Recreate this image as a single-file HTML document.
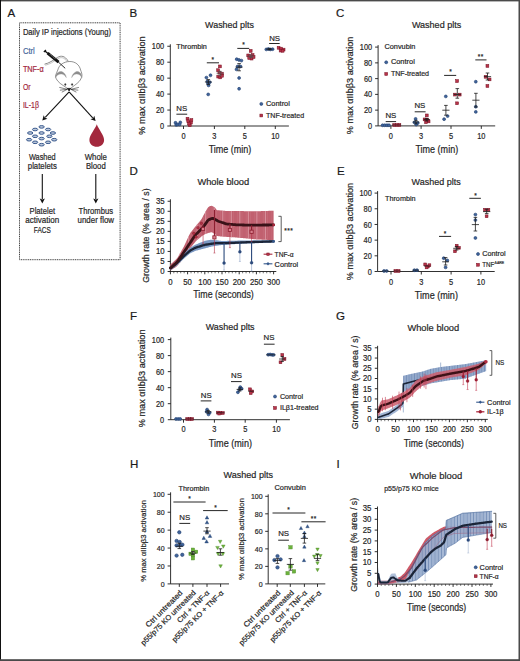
<!DOCTYPE html><html><head><meta charset="utf-8"><title>Figure</title><style>html,body{margin:0;padding:0;background:#fff;overflow:hidden;}svg{display:block;} text{font-family:"Liberation Sans", sans-serif;stroke-width:0.2px;}</style></head><body>
<svg width="520" height="661" viewBox="0 0 520 661">
<rect x="0" y="0" width="520" height="661" fill="#ffffff"/>
<text x="7.50" y="16.90" font-size="11.54" text-anchor="start" fill="#1a1a1a" stroke="#1a1a1a">A</text>
<text x="129.60" y="17.20" font-size="11.54" text-anchor="start" fill="#1a1a1a" stroke="#1a1a1a">B</text>
<text x="336.10" y="17.30" font-size="11.54" text-anchor="start" fill="#1a1a1a" stroke="#1a1a1a">C</text>
<text x="129.50" y="174.70" font-size="11.54" text-anchor="start" fill="#1a1a1a" stroke="#1a1a1a">D</text>
<text x="336.90" y="174.70" font-size="11.54" text-anchor="start" fill="#1a1a1a" stroke="#1a1a1a">E</text>
<text x="129.90" y="319.60" font-size="11.54" text-anchor="start" fill="#1a1a1a" stroke="#1a1a1a">F</text>
<text x="336.10" y="320.20" font-size="11.54" text-anchor="start" fill="#1a1a1a" stroke="#1a1a1a">G</text>
<text x="129.90" y="468.10" font-size="11.54" text-anchor="start" fill="#1a1a1a" stroke="#1a1a1a">H</text>
<text x="336.60" y="468.00" font-size="11.54" text-anchor="start" fill="#1a1a1a" stroke="#1a1a1a">I</text>
<rect x="19.5" y="22.8" width="100.6" height="236.9" fill="none" stroke="#2a2a2a" stroke-width="0.9" stroke-dasharray="1.1,0.7"/>
<text x="22.90" y="35.00" font-size="8.51" text-anchor="start" fill="#262626" stroke="#262626" textLength="88.10" lengthAdjust="spacingAndGlyphs">Daily IP injections (Young)</text>
<text x="22.90" y="53.50" font-size="8.51" text-anchor="start" fill="#48689c" stroke="#48689c" textLength="11.90" lengthAdjust="spacingAndGlyphs">Ctrl</text>
<text x="22.90" y="71.50" font-size="8.51" text-anchor="start" fill="#a3283d" stroke="#a3283d" textLength="20.80" lengthAdjust="spacingAndGlyphs">TNF-α</text>
<text x="22.90" y="89.70" font-size="8.51" text-anchor="start" fill="#a3283d" stroke="#a3283d" textLength="7.60" lengthAdjust="spacingAndGlyphs">Or</text>
<text x="22.90" y="107.60" font-size="8.51" text-anchor="start" fill="#a3283d" stroke="#a3283d" textLength="16.00" lengthAdjust="spacingAndGlyphs">IL-1β</text>
<path d="M44.5,64.2 C49,63.2 53,60.5 57.5,57.4 C61,55.3 65,55.8 68.2,61.2" fill="none" stroke="#8a8a8a" stroke-width="1.0"/>
<path d="M45.2,65.2 C49.5,64.4 53.5,61.8 58,58.6 C61,56.8 64.5,57.4 67.0,61.6" fill="none" stroke="#b4b4b4" stroke-width="0.8"/>
<path d="M69.1,89.6 C66,87 60,84 58.1,81.4 C56.5,79.5 55.3,77.5 55.6,75.6 C56,73.5 57.2,71.8 57.8,70 C59,64.8 64,61.5 69.9,61.5 C75.5,61.5 79.5,65 80.6,70 C81.3,72 82.2,74 81.9,76 C81.5,78 80.5,79.8 79.2,81.4 C77,84 72,87 69.1,89.6 Z" fill="#ffffff" stroke="#4a4a4a" stroke-width="0.6"/>
<path d="M55.4,77.6 C55.8,73.0 59.6,70.6 62.6,72.0 C64.6,73.0 65.9,75.0 66.3,77.6 C65.2,75.6 63.6,74.2 61.4,74.0 C58.8,73.8 56.6,75.4 55.4,77.6 Z" fill="#8c8c8c" stroke="#9a9a9a" stroke-width="0.4"/>
<path d="M71.7,77.6 C72.1,75.0 73.6,73.0 75.6,72.0 C78.6,70.6 81.6,73.0 82.0,77.6 C80.8,75.4 78.8,73.8 76.4,74.0 C74.2,74.2 72.6,75.6 71.7,77.6 Z" fill="#8c8c8c" stroke="#9a9a9a" stroke-width="0.4"/>
<circle cx="65.30" cy="84.50" r="0.9" fill="#333" stroke="#333" stroke-width="0.2"/>
<circle cx="72.10" cy="84.50" r="0.9" fill="#333" stroke="#333" stroke-width="0.2"/>
<path d="M67.4,88.4 L70.6,88.4 L69.1,91.0 Z" fill="#111" stroke="#111" stroke-width="0.7"/>
<line x1="67.30" y1="89.30" x2="59.30" y2="87.40" stroke="#1a1a1a" stroke-width="0.55"/>
<line x1="70.90" y1="89.30" x2="78.90" y2="87.40" stroke="#1a1a1a" stroke-width="0.55"/>
<line x1="67.30" y1="89.30" x2="59.90" y2="90.20" stroke="#1a1a1a" stroke-width="0.55"/>
<line x1="70.90" y1="89.30" x2="78.30" y2="90.20" stroke="#1a1a1a" stroke-width="0.55"/>
<line x1="67.30" y1="89.30" x2="61.80" y2="92.20" stroke="#1a1a1a" stroke-width="0.55"/>
<line x1="70.90" y1="89.30" x2="76.40" y2="92.20" stroke="#1a1a1a" stroke-width="0.55"/>
<line x1="43.90" y1="51.90" x2="45.90" y2="50.10" stroke="#111" stroke-width="1.4"/>
<line x1="44.90" y1="51.00" x2="48.00" y2="53.50" stroke="#111" stroke-width="1.4"/>
<line x1="47.60" y1="53.20" x2="58.60" y2="62.20" stroke="#111" stroke-width="2.9"/>
<path d="M49.8,54.0 L50.6,55.2 M51.4,55.3 L52.2,56.5 M53.0,56.6 L53.8,57.8 M54.6,57.9 L55.4,59.1" stroke="#e6e6e6" stroke-width="0.45"/>
<line x1="58.20" y1="61.90" x2="65.20" y2="68.30" stroke="#111" stroke-width="0.9"/>
<line x1="69.10" y1="91.80" x2="45.23" y2="117.45" stroke="#111" stroke-width="1.1"/>
<polygon points="42.30,120.60 43.67,115.31 44.89,117.82 47.47,118.86" fill="#111"/>
<line x1="69.10" y1="91.80" x2="92.71" y2="117.82" stroke="#111" stroke-width="1.1"/>
<polygon points="95.60,121.00 90.45,119.19 93.05,118.19 94.30,115.70" fill="#111"/>
<line x1="42.30" y1="174.00" x2="42.30" y2="199.10" stroke="#111" stroke-width="1.1"/>
<polygon points="42.30,203.40 39.70,198.60 42.30,199.60 44.90,198.60" fill="#111"/>
<line x1="95.80" y1="174.00" x2="95.80" y2="199.10" stroke="#111" stroke-width="1.1"/>
<polygon points="95.80,203.40 93.20,198.60 95.80,199.60 98.40,198.60" fill="#111"/>
<ellipse cx="41.60" cy="126.90" rx="2.65" ry="1.3" fill="#b9c6da" stroke="#3a5a8e" stroke-width="1.0"/>
<ellipse cx="35.10" cy="129.50" rx="2.65" ry="1.3" fill="#b9c6da" stroke="#3a5a8e" stroke-width="1.0"/>
<ellipse cx="48.10" cy="129.50" rx="2.65" ry="1.3" fill="#b9c6da" stroke="#3a5a8e" stroke-width="1.0"/>
<ellipse cx="30.20" cy="133.00" rx="2.65" ry="1.3" fill="#b9c6da" stroke="#3a5a8e" stroke-width="1.0"/>
<ellipse cx="41.60" cy="133.00" rx="2.65" ry="1.3" fill="#b9c6da" stroke="#3a5a8e" stroke-width="1.0"/>
<ellipse cx="52.90" cy="133.00" rx="2.65" ry="1.3" fill="#b9c6da" stroke="#3a5a8e" stroke-width="1.0"/>
<ellipse cx="35.10" cy="136.30" rx="2.65" ry="1.3" fill="#b9c6da" stroke="#3a5a8e" stroke-width="1.0"/>
<ellipse cx="49.40" cy="136.30" rx="2.65" ry="1.3" fill="#b9c6da" stroke="#3a5a8e" stroke-width="1.0"/>
<ellipse cx="29.10" cy="139.70" rx="2.65" ry="1.3" fill="#b9c6da" stroke="#3a5a8e" stroke-width="1.0"/>
<ellipse cx="41.60" cy="138.60" rx="2.65" ry="1.3" fill="#b9c6da" stroke="#3a5a8e" stroke-width="1.0"/>
<ellipse cx="54.20" cy="139.70" rx="2.65" ry="1.3" fill="#b9c6da" stroke="#3a5a8e" stroke-width="1.0"/>
<ellipse cx="35.10" cy="142.30" rx="2.65" ry="1.3" fill="#b9c6da" stroke="#3a5a8e" stroke-width="1.0"/>
<ellipse cx="48.10" cy="142.30" rx="2.65" ry="1.3" fill="#b9c6da" stroke="#3a5a8e" stroke-width="1.0"/>
<ellipse cx="41.60" cy="144.70" rx="2.65" ry="1.3" fill="#b9c6da" stroke="#3a5a8e" stroke-width="1.0"/>
<path d="M96.8,124.2 C95.5,128.5 89.4,135 89.4,140 C89.4,144.2 92.8,146.8 96.8,146.8 C100.8,146.8 104.1,144.2 104.1,140 C104.1,135 98.1,128.5 96.8,124.2 Z" fill="#a3283d"/>
<text x="42.30" y="159.70" font-size="8.74" text-anchor="middle" fill="#262626" stroke="#262626" textLength="26.70" lengthAdjust="spacingAndGlyphs">Washed</text>
<text x="42.30" y="169.40" font-size="8.74" text-anchor="middle" fill="#262626" stroke="#262626" textLength="29.00" lengthAdjust="spacingAndGlyphs">platelets</text>
<text x="95.80" y="159.70" font-size="8.74" text-anchor="middle" fill="#262626" stroke="#262626" textLength="22.20" lengthAdjust="spacingAndGlyphs">Whole</text>
<text x="95.80" y="169.40" font-size="8.74" text-anchor="middle" fill="#262626" stroke="#262626" textLength="19.80" lengthAdjust="spacingAndGlyphs">Blood</text>
<text x="42.30" y="213.70" font-size="8.74" text-anchor="middle" fill="#262626" stroke="#262626" textLength="25.50" lengthAdjust="spacingAndGlyphs">Platelet</text>
<text x="42.30" y="223.40" font-size="8.74" text-anchor="middle" fill="#262626" stroke="#262626" textLength="34.00" lengthAdjust="spacingAndGlyphs">activation</text>
<text x="42.30" y="232.90" font-size="8.74" text-anchor="middle" fill="#262626" stroke="#262626" textLength="17.00" lengthAdjust="spacingAndGlyphs">FACS</text>
<text x="95.80" y="213.70" font-size="8.74" text-anchor="middle" fill="#262626" stroke="#262626" textLength="34.40" lengthAdjust="spacingAndGlyphs">Thrombus</text>
<text x="95.80" y="223.40" font-size="8.74" text-anchor="middle" fill="#262626" stroke="#262626" textLength="36.40" lengthAdjust="spacingAndGlyphs">under flow</text>
<line x1="170.30" y1="44.25" x2="170.30" y2="126.00" stroke="#1a1a1a" stroke-width="0.9"/>
<line x1="167.30" y1="126.00" x2="170.30" y2="126.00" stroke="#1a1a1a" stroke-width="0.9"/>
<text x="164.20" y="129.10" font-size="8.51" text-anchor="end" fill="#262626" stroke="#262626" textLength="4.12" lengthAdjust="spacingAndGlyphs">0</text>
<line x1="167.30" y1="110.05" x2="170.30" y2="110.05" stroke="#1a1a1a" stroke-width="0.9"/>
<text x="164.20" y="113.15" font-size="8.51" text-anchor="end" fill="#262626" stroke="#262626" textLength="8.23" lengthAdjust="spacingAndGlyphs">20</text>
<line x1="167.30" y1="94.10" x2="170.30" y2="94.10" stroke="#1a1a1a" stroke-width="0.9"/>
<text x="164.20" y="97.20" font-size="8.51" text-anchor="end" fill="#262626" stroke="#262626" textLength="8.23" lengthAdjust="spacingAndGlyphs">40</text>
<line x1="167.30" y1="78.15" x2="170.30" y2="78.15" stroke="#1a1a1a" stroke-width="0.9"/>
<text x="164.20" y="81.25" font-size="8.51" text-anchor="end" fill="#262626" stroke="#262626" textLength="8.23" lengthAdjust="spacingAndGlyphs">60</text>
<line x1="167.30" y1="62.20" x2="170.30" y2="62.20" stroke="#1a1a1a" stroke-width="0.9"/>
<text x="164.20" y="65.30" font-size="8.51" text-anchor="end" fill="#262626" stroke="#262626" textLength="8.23" lengthAdjust="spacingAndGlyphs">80</text>
<line x1="167.30" y1="46.25" x2="170.30" y2="46.25" stroke="#1a1a1a" stroke-width="0.9"/>
<text x="164.20" y="49.35" font-size="8.51" text-anchor="end" fill="#262626" stroke="#262626" textLength="12.35" lengthAdjust="spacingAndGlyphs">100</text>
<line x1="170.30" y1="126.00" x2="288.90" y2="126.00" stroke="#1a1a1a" stroke-width="0.9"/>
<line x1="183.50" y1="126.00" x2="183.50" y2="129.00" stroke="#1a1a1a" stroke-width="0.9"/>
<text x="183.50" y="139.20" font-size="8.51" text-anchor="middle" fill="#262626" stroke="#262626" textLength="4.12" lengthAdjust="spacingAndGlyphs">0</text>
<line x1="214.40" y1="126.00" x2="214.40" y2="129.00" stroke="#1a1a1a" stroke-width="0.9"/>
<text x="214.40" y="139.20" font-size="8.51" text-anchor="middle" fill="#262626" stroke="#262626" textLength="4.12" lengthAdjust="spacingAndGlyphs">3</text>
<line x1="244.80" y1="126.00" x2="244.80" y2="129.00" stroke="#1a1a1a" stroke-width="0.9"/>
<text x="244.80" y="139.20" font-size="8.51" text-anchor="middle" fill="#262626" stroke="#262626" textLength="4.12" lengthAdjust="spacingAndGlyphs">5</text>
<line x1="275.30" y1="126.00" x2="275.30" y2="129.00" stroke="#1a1a1a" stroke-width="0.9"/>
<text x="275.30" y="139.20" font-size="8.51" text-anchor="middle" fill="#262626" stroke="#262626" textLength="8.23" lengthAdjust="spacingAndGlyphs">10</text>
<text x="205.10" y="28.20" font-size="9.74" text-anchor="start" fill="#262626" stroke="#262626" textLength="48.80" lengthAdjust="spacingAndGlyphs">Washed plts</text>
<text x="176.30" y="49.30" font-size="7.62" text-anchor="start" fill="#262626" stroke="#262626" textLength="30.60" lengthAdjust="spacingAndGlyphs">Thrombin</text>
<text transform="translate(145.10,85.50) rotate(-90)" x="0" y="0" font-size="9.52" text-anchor="middle" fill="#262626" stroke="#262626" textLength="98.40" lengthAdjust="spacingAndGlyphs">% max αIIbβ3 activation</text>
<text x="230.00" y="153.30" font-size="10.3" text-anchor="middle" fill="#262626" stroke="#262626" textLength="42.70" lengthAdjust="spacingAndGlyphs">Time (min)</text>
<circle cx="261.30" cy="103.90" r="1.5" fill="#40649c" stroke="#223f6e" stroke-width="0.6"/>
<text x="266.00" y="106.20" font-size="7.73" text-anchor="start" fill="#262626" stroke="#262626" textLength="23.90" lengthAdjust="spacingAndGlyphs">Control</text>
<rect x="259.90" y="114.10" width="2.8" height="2.8" fill="#b8344a" stroke="#7c1527" stroke-width="0.55"/>
<text x="266.00" y="117.60" font-size="7.73" text-anchor="start" fill="#262626" stroke="#262626" textLength="38.10" lengthAdjust="spacingAndGlyphs">TNF-treated</text>
<line x1="176.40" y1="114.20" x2="187.20" y2="114.20" stroke="#262626" stroke-width="1.0"/>
<text x="181.80" y="111.00" font-size="7.84" text-anchor="middle" fill="#262626" stroke="#262626">NS</text>
<line x1="206.80" y1="62.80" x2="219.00" y2="62.80" stroke="#262626" stroke-width="1.0"/>
<text x="212.80" y="61.80" font-size="6.5" text-anchor="middle" fill="#262626" stroke="#262626">*</text>
<line x1="237.30" y1="48.40" x2="249.20" y2="48.40" stroke="#262626" stroke-width="1.0"/>
<text x="243.50" y="46.80" font-size="6.5" text-anchor="middle" fill="#262626" stroke="#262626">*</text>
<line x1="269.10" y1="43.50" x2="279.70" y2="43.50" stroke="#262626" stroke-width="1.0"/>
<text x="274.60" y="40.70" font-size="7.84" text-anchor="middle" fill="#262626" stroke="#262626">NS</text>
<circle cx="175.50" cy="122.80" r="1.45" fill="#40649c" stroke="#223f6e" stroke-width="0.6"/>
<circle cx="180.30" cy="122.40" r="1.45" fill="#40649c" stroke="#223f6e" stroke-width="0.6"/>
<circle cx="176.20" cy="124.90" r="1.45" fill="#40649c" stroke="#223f6e" stroke-width="0.6"/>
<circle cx="177.60" cy="124.50" r="1.45" fill="#40649c" stroke="#223f6e" stroke-width="0.6"/>
<circle cx="179.60" cy="124.50" r="1.45" fill="#40649c" stroke="#223f6e" stroke-width="0.6"/>
<rect x="186.10" y="117.30" width="2.8" height="2.8" fill="#b8344a" stroke="#7c1527" stroke-width="0.55"/>
<rect x="190.00" y="118.70" width="2.8" height="2.8" fill="#b8344a" stroke="#7c1527" stroke-width="0.55"/>
<rect x="186.80" y="119.80" width="2.8" height="2.8" fill="#b8344a" stroke="#7c1527" stroke-width="0.55"/>
<rect x="189.50" y="121.20" width="2.8" height="2.8" fill="#b8344a" stroke="#7c1527" stroke-width="0.55"/>
<rect x="188.40" y="123.90" width="2.8" height="2.8" fill="#b8344a" stroke="#7c1527" stroke-width="0.55"/>
<rect x="187.60" y="122.20" width="2.8" height="2.8" fill="#b8344a" stroke="#7c1527" stroke-width="0.55"/>
<circle cx="210.50" cy="75.30" r="1.45" fill="#40649c" stroke="#223f6e" stroke-width="0.6"/>
<circle cx="206.40" cy="77.60" r="1.45" fill="#40649c" stroke="#223f6e" stroke-width="0.6"/>
<circle cx="207.40" cy="81.40" r="1.45" fill="#40649c" stroke="#223f6e" stroke-width="0.6"/>
<circle cx="209.80" cy="82.20" r="1.45" fill="#40649c" stroke="#223f6e" stroke-width="0.6"/>
<circle cx="208.00" cy="83.60" r="1.45" fill="#40649c" stroke="#223f6e" stroke-width="0.6"/>
<circle cx="208.60" cy="85.40" r="1.45" fill="#40649c" stroke="#223f6e" stroke-width="0.6"/>
<circle cx="208.20" cy="94.40" r="1.45" fill="#40649c" stroke="#223f6e" stroke-width="0.6"/>
<line x1="204.90" y1="82.00" x2="211.70" y2="82.00" stroke="#1a1a1a" stroke-width="0.8"/>
<line x1="208.30" y1="79.60" x2="208.30" y2="84.40" stroke="#1a1a1a" stroke-width="0.8"/>
<line x1="206.50" y1="79.60" x2="210.10" y2="79.60" stroke="#1a1a1a" stroke-width="0.8"/>
<line x1="206.50" y1="84.40" x2="210.10" y2="84.40" stroke="#1a1a1a" stroke-width="0.8"/>
<rect x="218.50" y="65.00" width="2.8" height="2.8" fill="#b8344a" stroke="#7c1527" stroke-width="0.55"/>
<rect x="216.70" y="68.80" width="2.8" height="2.8" fill="#b8344a" stroke="#7c1527" stroke-width="0.55"/>
<rect x="220.50" y="72.20" width="2.8" height="2.8" fill="#b8344a" stroke="#7c1527" stroke-width="0.55"/>
<rect x="216.80" y="75.20" width="2.8" height="2.8" fill="#b8344a" stroke="#7c1527" stroke-width="0.55"/>
<rect x="218.80" y="76.00" width="2.8" height="2.8" fill="#b8344a" stroke="#7c1527" stroke-width="0.55"/>
<rect x="220.60" y="74.40" width="2.8" height="2.8" fill="#b8344a" stroke="#7c1527" stroke-width="0.55"/>
<rect x="218.00" y="71.20" width="2.8" height="2.8" fill="#b8344a" stroke="#7c1527" stroke-width="0.55"/>
<line x1="216.60" y1="73.20" x2="223.40" y2="73.20" stroke="#555" stroke-width="0.8"/>
<line x1="220.00" y1="71.40" x2="220.00" y2="75.20" stroke="#555" stroke-width="0.8"/>
<line x1="218.20" y1="71.40" x2="221.80" y2="71.40" stroke="#555" stroke-width="0.8"/>
<line x1="218.20" y1="75.20" x2="221.80" y2="75.20" stroke="#555" stroke-width="0.8"/>
<circle cx="236.70" cy="59.20" r="1.45" fill="#40649c" stroke="#223f6e" stroke-width="0.6"/>
<circle cx="239.00" cy="60.00" r="1.45" fill="#40649c" stroke="#223f6e" stroke-width="0.6"/>
<circle cx="241.40" cy="60.60" r="1.45" fill="#40649c" stroke="#223f6e" stroke-width="0.6"/>
<circle cx="237.60" cy="66.50" r="1.45" fill="#40649c" stroke="#223f6e" stroke-width="0.6"/>
<circle cx="240.50" cy="66.50" r="1.45" fill="#40649c" stroke="#223f6e" stroke-width="0.6"/>
<circle cx="236.50" cy="69.40" r="1.45" fill="#40649c" stroke="#223f6e" stroke-width="0.6"/>
<circle cx="239.10" cy="78.00" r="1.45" fill="#40649c" stroke="#223f6e" stroke-width="0.6"/>
<circle cx="239.10" cy="88.80" r="1.45" fill="#40649c" stroke="#223f6e" stroke-width="0.6"/>
<line x1="235.70" y1="67.20" x2="242.50" y2="67.20" stroke="#1a1a1a" stroke-width="0.8"/>
<line x1="239.10" y1="63.60" x2="239.10" y2="70.80" stroke="#1a1a1a" stroke-width="0.8"/>
<line x1="237.30" y1="63.60" x2="240.90" y2="63.60" stroke="#1a1a1a" stroke-width="0.8"/>
<line x1="237.30" y1="70.80" x2="240.90" y2="70.80" stroke="#1a1a1a" stroke-width="0.8"/>
<rect x="249.30" y="49.50" width="2.8" height="2.8" fill="#b8344a" stroke="#7c1527" stroke-width="0.55"/>
<rect x="246.80" y="54.00" width="2.8" height="2.8" fill="#b8344a" stroke="#7c1527" stroke-width="0.55"/>
<rect x="248.80" y="54.80" width="2.8" height="2.8" fill="#b8344a" stroke="#7c1527" stroke-width="0.55"/>
<rect x="251.20" y="53.60" width="2.8" height="2.8" fill="#b8344a" stroke="#7c1527" stroke-width="0.55"/>
<rect x="247.80" y="56.60" width="2.8" height="2.8" fill="#b8344a" stroke="#7c1527" stroke-width="0.55"/>
<rect x="250.20" y="57.20" width="2.8" height="2.8" fill="#b8344a" stroke="#7c1527" stroke-width="0.55"/>
<rect x="252.20" y="55.60" width="2.8" height="2.8" fill="#b8344a" stroke="#7c1527" stroke-width="0.55"/>
<line x1="247.40" y1="56.20" x2="254.20" y2="56.20" stroke="#555" stroke-width="0.8"/>
<line x1="250.80" y1="54.80" x2="250.80" y2="57.60" stroke="#555" stroke-width="0.8"/>
<line x1="249.00" y1="54.80" x2="252.60" y2="54.80" stroke="#555" stroke-width="0.8"/>
<line x1="249.00" y1="57.60" x2="252.60" y2="57.60" stroke="#555" stroke-width="0.8"/>
<circle cx="266.30" cy="49.40" r="1.45" fill="#40649c" stroke="#223f6e" stroke-width="0.6"/>
<circle cx="268.40" cy="49.00" r="1.45" fill="#40649c" stroke="#223f6e" stroke-width="0.6"/>
<circle cx="270.40" cy="49.40" r="1.45" fill="#40649c" stroke="#223f6e" stroke-width="0.6"/>
<circle cx="272.60" cy="49.20" r="1.45" fill="#40649c" stroke="#223f6e" stroke-width="0.6"/>
<line x1="266.20" y1="49.20" x2="272.60" y2="49.20" stroke="#1a1a1a" stroke-width="0.8"/>
<line x1="269.40" y1="48.60" x2="269.40" y2="49.80" stroke="#1a1a1a" stroke-width="0.8"/>
<line x1="267.80" y1="48.60" x2="271.00" y2="48.60" stroke="#1a1a1a" stroke-width="0.8"/>
<line x1="267.80" y1="49.80" x2="271.00" y2="49.80" stroke="#1a1a1a" stroke-width="0.8"/>
<rect x="277.20" y="46.40" width="2.8" height="2.8" fill="#b8344a" stroke="#7c1527" stroke-width="0.55"/>
<rect x="279.60" y="47.20" width="2.8" height="2.8" fill="#b8344a" stroke="#7c1527" stroke-width="0.55"/>
<rect x="282.20" y="48.20" width="2.8" height="2.8" fill="#b8344a" stroke="#7c1527" stroke-width="0.55"/>
<rect x="279.20" y="49.20" width="2.8" height="2.8" fill="#b8344a" stroke="#7c1527" stroke-width="0.55"/>
<rect x="281.20" y="49.40" width="2.8" height="2.8" fill="#b8344a" stroke="#7c1527" stroke-width="0.55"/>
<line x1="378.10" y1="45.10" x2="378.10" y2="125.90" stroke="#1a1a1a" stroke-width="0.9"/>
<line x1="375.10" y1="125.90" x2="378.10" y2="125.90" stroke="#1a1a1a" stroke-width="0.9"/>
<text x="372.20" y="129.00" font-size="8.51" text-anchor="end" fill="#262626" stroke="#262626" textLength="4.12" lengthAdjust="spacingAndGlyphs">0</text>
<line x1="375.10" y1="110.14" x2="378.10" y2="110.14" stroke="#1a1a1a" stroke-width="0.9"/>
<text x="372.20" y="113.24" font-size="8.51" text-anchor="end" fill="#262626" stroke="#262626" textLength="8.23" lengthAdjust="spacingAndGlyphs">20</text>
<line x1="375.10" y1="94.38" x2="378.10" y2="94.38" stroke="#1a1a1a" stroke-width="0.9"/>
<text x="372.20" y="97.48" font-size="8.51" text-anchor="end" fill="#262626" stroke="#262626" textLength="8.23" lengthAdjust="spacingAndGlyphs">40</text>
<line x1="375.10" y1="78.62" x2="378.10" y2="78.62" stroke="#1a1a1a" stroke-width="0.9"/>
<text x="372.20" y="81.72" font-size="8.51" text-anchor="end" fill="#262626" stroke="#262626" textLength="8.23" lengthAdjust="spacingAndGlyphs">60</text>
<line x1="375.10" y1="62.86" x2="378.10" y2="62.86" stroke="#1a1a1a" stroke-width="0.9"/>
<text x="372.20" y="65.96" font-size="8.51" text-anchor="end" fill="#262626" stroke="#262626" textLength="8.23" lengthAdjust="spacingAndGlyphs">80</text>
<line x1="375.10" y1="47.10" x2="378.10" y2="47.10" stroke="#1a1a1a" stroke-width="0.9"/>
<text x="372.20" y="50.20" font-size="8.51" text-anchor="end" fill="#262626" stroke="#262626" textLength="12.35" lengthAdjust="spacingAndGlyphs">100</text>
<line x1="378.10" y1="125.90" x2="495.20" y2="125.90" stroke="#1a1a1a" stroke-width="0.9"/>
<line x1="390.90" y1="125.90" x2="390.90" y2="128.90" stroke="#1a1a1a" stroke-width="0.9"/>
<text x="390.90" y="139.10" font-size="8.51" text-anchor="middle" fill="#262626" stroke="#262626" textLength="4.12" lengthAdjust="spacingAndGlyphs">0</text>
<line x1="421.10" y1="125.90" x2="421.10" y2="128.90" stroke="#1a1a1a" stroke-width="0.9"/>
<text x="421.10" y="139.10" font-size="8.51" text-anchor="middle" fill="#262626" stroke="#262626" textLength="4.12" lengthAdjust="spacingAndGlyphs">3</text>
<line x1="451.00" y1="125.90" x2="451.00" y2="128.90" stroke="#1a1a1a" stroke-width="0.9"/>
<text x="451.00" y="139.10" font-size="8.51" text-anchor="middle" fill="#262626" stroke="#262626" textLength="4.12" lengthAdjust="spacingAndGlyphs">5</text>
<line x1="481.30" y1="125.90" x2="481.30" y2="128.90" stroke="#1a1a1a" stroke-width="0.9"/>
<text x="481.30" y="139.10" font-size="8.51" text-anchor="middle" fill="#262626" stroke="#262626" textLength="8.23" lengthAdjust="spacingAndGlyphs">10</text>
<text x="411.90" y="28.00" font-size="9.74" text-anchor="start" fill="#262626" stroke="#262626" textLength="49.30" lengthAdjust="spacingAndGlyphs">Washed plts</text>
<text x="384.50" y="49.40" font-size="7.62" text-anchor="start" fill="#262626" stroke="#262626" textLength="30.90" lengthAdjust="spacingAndGlyphs">Convubin</text>
<text transform="translate(352.80,85.45) rotate(-90)" x="0" y="0" font-size="9.52" text-anchor="middle" fill="#262626" stroke="#262626" textLength="97.70" lengthAdjust="spacingAndGlyphs">% max αIIbβ3 activation</text>
<text x="436.80" y="153.10" font-size="10.3" text-anchor="middle" fill="#262626" stroke="#262626" textLength="42.70" lengthAdjust="spacingAndGlyphs">Time (min)</text>
<circle cx="386.20" cy="62.30" r="1.5" fill="#40649c" stroke="#223f6e" stroke-width="0.6"/>
<text x="390.90" y="64.40" font-size="7.73" text-anchor="start" fill="#262626" stroke="#262626" textLength="23.90" lengthAdjust="spacingAndGlyphs">Control</text>
<rect x="384.80" y="72.60" width="2.8" height="2.8" fill="#b8344a" stroke="#7c1527" stroke-width="0.55"/>
<text x="390.90" y="76.00" font-size="7.73" text-anchor="start" fill="#262626" stroke="#262626" textLength="38.10" lengthAdjust="spacingAndGlyphs">TNF-treated</text>
<line x1="385.70" y1="121.60" x2="396.10" y2="121.60" stroke="#262626" stroke-width="1.0"/>
<text x="390.90" y="118.40" font-size="7.84" text-anchor="middle" fill="#262626" stroke="#262626">NS</text>
<line x1="414.70" y1="111.80" x2="425.60" y2="111.80" stroke="#262626" stroke-width="1.0"/>
<text x="419.90" y="108.00" font-size="7.84" text-anchor="middle" fill="#262626" stroke="#262626">NS</text>
<line x1="444.10" y1="75.40" x2="456.20" y2="75.40" stroke="#262626" stroke-width="1.0"/>
<text x="450.50" y="74.40" font-size="6.5" text-anchor="middle" fill="#262626" stroke="#262626">*</text>
<line x1="475.30" y1="59.90" x2="486.50" y2="59.90" stroke="#262626" stroke-width="1.0"/>
<text x="479.10" y="58.80" font-size="6.5" text-anchor="middle" fill="#262626" stroke="#262626">*</text>
<text x="482.10" y="58.80" font-size="6.5" text-anchor="middle" fill="#262626" stroke="#262626">*</text>
<circle cx="382.60" cy="125.30" r="1.45" fill="#40649c" stroke="#223f6e" stroke-width="0.6"/>
<circle cx="384.80" cy="125.30" r="1.45" fill="#40649c" stroke="#223f6e" stroke-width="0.6"/>
<circle cx="387.00" cy="125.30" r="1.45" fill="#40649c" stroke="#223f6e" stroke-width="0.6"/>
<circle cx="389.00" cy="125.30" r="1.45" fill="#40649c" stroke="#223f6e" stroke-width="0.6"/>
<rect x="392.80" y="123.60" width="2.8" height="2.8" fill="#b8344a" stroke="#7c1527" stroke-width="0.55"/>
<rect x="395.40" y="123.60" width="2.8" height="2.8" fill="#b8344a" stroke="#7c1527" stroke-width="0.55"/>
<rect x="398.00" y="123.60" width="2.8" height="2.8" fill="#b8344a" stroke="#7c1527" stroke-width="0.55"/>
<line x1="391.80" y1="125.00" x2="401.00" y2="125.00" stroke="#1a1a1a" stroke-width="0.7"/>
<circle cx="415.60" cy="118.90" r="1.45" fill="#40649c" stroke="#223f6e" stroke-width="0.6"/>
<circle cx="414.40" cy="122.40" r="1.45" fill="#40649c" stroke="#223f6e" stroke-width="0.6"/>
<circle cx="416.20" cy="124.60" r="1.45" fill="#40649c" stroke="#223f6e" stroke-width="0.6"/>
<circle cx="417.80" cy="123.00" r="1.45" fill="#40649c" stroke="#223f6e" stroke-width="0.6"/>
<line x1="412.80" y1="122.00" x2="419.20" y2="122.00" stroke="#1a1a1a" stroke-width="0.8"/>
<line x1="416.00" y1="120.40" x2="416.00" y2="123.80" stroke="#1a1a1a" stroke-width="0.8"/>
<line x1="414.40" y1="120.40" x2="417.60" y2="120.40" stroke="#1a1a1a" stroke-width="0.8"/>
<line x1="414.40" y1="123.80" x2="417.60" y2="123.80" stroke="#1a1a1a" stroke-width="0.8"/>
<rect x="425.40" y="114.00" width="2.8" height="2.8" fill="#b8344a" stroke="#7c1527" stroke-width="0.55"/>
<rect x="423.20" y="118.00" width="2.8" height="2.8" fill="#b8344a" stroke="#7c1527" stroke-width="0.55"/>
<rect x="425.80" y="118.20" width="2.8" height="2.8" fill="#b8344a" stroke="#7c1527" stroke-width="0.55"/>
<rect x="427.20" y="120.00" width="2.8" height="2.8" fill="#b8344a" stroke="#7c1527" stroke-width="0.55"/>
<rect x="424.60" y="120.80" width="2.8" height="2.8" fill="#b8344a" stroke="#7c1527" stroke-width="0.55"/>
<line x1="423.60" y1="119.60" x2="430.00" y2="119.60" stroke="#1a1a1a" stroke-width="0.8"/>
<line x1="426.80" y1="118.40" x2="426.80" y2="121.00" stroke="#1a1a1a" stroke-width="0.8"/>
<line x1="425.20" y1="118.40" x2="428.40" y2="118.40" stroke="#1a1a1a" stroke-width="0.8"/>
<line x1="425.20" y1="121.00" x2="428.40" y2="121.00" stroke="#1a1a1a" stroke-width="0.8"/>
<circle cx="445.80" cy="96.40" r="1.45" fill="#40649c" stroke="#223f6e" stroke-width="0.6"/>
<circle cx="444.10" cy="119.20" r="1.45" fill="#40649c" stroke="#223f6e" stroke-width="0.6"/>
<circle cx="447.60" cy="116.10" r="1.45" fill="#40649c" stroke="#223f6e" stroke-width="0.6"/>
<line x1="442.30" y1="110.20" x2="449.50" y2="110.20" stroke="#1a1a1a" stroke-width="0.8"/>
<line x1="445.90" y1="105.40" x2="445.90" y2="115.20" stroke="#1a1a1a" stroke-width="0.8"/>
<line x1="444.10" y1="105.40" x2="447.70" y2="105.40" stroke="#1a1a1a" stroke-width="0.8"/>
<line x1="444.10" y1="115.20" x2="447.70" y2="115.20" stroke="#1a1a1a" stroke-width="0.8"/>
<rect x="455.70" y="79.70" width="2.8" height="2.8" fill="#b8344a" stroke="#7c1527" stroke-width="0.55"/>
<rect x="453.60" y="93.20" width="2.8" height="2.8" fill="#b8344a" stroke="#7c1527" stroke-width="0.55"/>
<rect x="458.30" y="93.20" width="2.8" height="2.8" fill="#b8344a" stroke="#7c1527" stroke-width="0.55"/>
<rect x="455.70" y="101.90" width="2.8" height="2.8" fill="#b8344a" stroke="#7c1527" stroke-width="0.55"/>
<line x1="453.70" y1="94.40" x2="460.90" y2="94.40" stroke="#1a1a1a" stroke-width="0.8"/>
<line x1="457.30" y1="88.60" x2="457.30" y2="98.20" stroke="#1a1a1a" stroke-width="0.8"/>
<line x1="455.50" y1="88.60" x2="459.10" y2="88.60" stroke="#1a1a1a" stroke-width="0.8"/>
<line x1="455.50" y1="98.20" x2="459.10" y2="98.20" stroke="#1a1a1a" stroke-width="0.8"/>
<circle cx="475.80" cy="81.70" r="1.45" fill="#40649c" stroke="#223f6e" stroke-width="0.6"/>
<circle cx="475.80" cy="106.70" r="1.45" fill="#40649c" stroke="#223f6e" stroke-width="0.6"/>
<circle cx="475.80" cy="111.90" r="1.45" fill="#40649c" stroke="#223f6e" stroke-width="0.6"/>
<line x1="472.30" y1="100.20" x2="479.50" y2="100.20" stroke="#1a1a1a" stroke-width="0.8"/>
<line x1="475.90" y1="93.30" x2="475.90" y2="107.00" stroke="#1a1a1a" stroke-width="0.8"/>
<line x1="474.10" y1="93.30" x2="477.70" y2="93.30" stroke="#1a1a1a" stroke-width="0.8"/>
<line x1="474.10" y1="107.00" x2="477.70" y2="107.00" stroke="#1a1a1a" stroke-width="0.8"/>
<rect x="486.00" y="64.50" width="2.8" height="2.8" fill="#b8344a" stroke="#7c1527" stroke-width="0.55"/>
<rect x="484.20" y="75.40" width="2.8" height="2.8" fill="#b8344a" stroke="#7c1527" stroke-width="0.55"/>
<rect x="488.20" y="78.00" width="2.8" height="2.8" fill="#b8344a" stroke="#7c1527" stroke-width="0.55"/>
<rect x="486.00" y="84.60" width="2.8" height="2.8" fill="#b8344a" stroke="#7c1527" stroke-width="0.55"/>
<line x1="483.90" y1="76.60" x2="491.10" y2="76.60" stroke="#1a1a1a" stroke-width="0.8"/>
<line x1="487.50" y1="73.00" x2="487.50" y2="80.00" stroke="#1a1a1a" stroke-width="0.8"/>
<line x1="485.70" y1="73.00" x2="489.30" y2="73.00" stroke="#1a1a1a" stroke-width="0.8"/>
<line x1="485.70" y1="80.00" x2="489.30" y2="80.00" stroke="#1a1a1a" stroke-width="0.8"/>
<line x1="377.60" y1="191.10" x2="377.60" y2="271.50" stroke="#1a1a1a" stroke-width="0.9"/>
<line x1="374.60" y1="271.50" x2="377.60" y2="271.50" stroke="#1a1a1a" stroke-width="0.9"/>
<text x="371.80" y="274.60" font-size="8.51" text-anchor="end" fill="#262626" stroke="#262626" textLength="4.12" lengthAdjust="spacingAndGlyphs">0</text>
<line x1="374.60" y1="255.82" x2="377.60" y2="255.82" stroke="#1a1a1a" stroke-width="0.9"/>
<text x="371.80" y="258.92" font-size="8.51" text-anchor="end" fill="#262626" stroke="#262626" textLength="8.23" lengthAdjust="spacingAndGlyphs">20</text>
<line x1="374.60" y1="240.14" x2="377.60" y2="240.14" stroke="#1a1a1a" stroke-width="0.9"/>
<text x="371.80" y="243.24" font-size="8.51" text-anchor="end" fill="#262626" stroke="#262626" textLength="8.23" lengthAdjust="spacingAndGlyphs">40</text>
<line x1="374.60" y1="224.46" x2="377.60" y2="224.46" stroke="#1a1a1a" stroke-width="0.9"/>
<text x="371.80" y="227.56" font-size="8.51" text-anchor="end" fill="#262626" stroke="#262626" textLength="8.23" lengthAdjust="spacingAndGlyphs">60</text>
<line x1="374.60" y1="208.78" x2="377.60" y2="208.78" stroke="#1a1a1a" stroke-width="0.9"/>
<text x="371.80" y="211.88" font-size="8.51" text-anchor="end" fill="#262626" stroke="#262626" textLength="8.23" lengthAdjust="spacingAndGlyphs">80</text>
<line x1="374.60" y1="193.10" x2="377.60" y2="193.10" stroke="#1a1a1a" stroke-width="0.9"/>
<text x="371.80" y="196.20" font-size="8.51" text-anchor="end" fill="#262626" stroke="#262626" textLength="12.35" lengthAdjust="spacingAndGlyphs">100</text>
<line x1="377.60" y1="271.50" x2="494.70" y2="271.50" stroke="#1a1a1a" stroke-width="0.9"/>
<line x1="391.00" y1="271.50" x2="391.00" y2="274.50" stroke="#1a1a1a" stroke-width="0.9"/>
<text x="391.00" y="284.60" font-size="8.51" text-anchor="middle" fill="#262626" stroke="#262626" textLength="4.12" lengthAdjust="spacingAndGlyphs">0</text>
<line x1="421.30" y1="271.50" x2="421.30" y2="274.50" stroke="#1a1a1a" stroke-width="0.9"/>
<text x="421.30" y="284.60" font-size="8.51" text-anchor="middle" fill="#262626" stroke="#262626" textLength="4.12" lengthAdjust="spacingAndGlyphs">3</text>
<line x1="451.10" y1="271.50" x2="451.10" y2="274.50" stroke="#1a1a1a" stroke-width="0.9"/>
<text x="451.10" y="284.60" font-size="8.51" text-anchor="middle" fill="#262626" stroke="#262626" textLength="4.12" lengthAdjust="spacingAndGlyphs">5</text>
<line x1="480.90" y1="271.50" x2="480.90" y2="274.50" stroke="#1a1a1a" stroke-width="0.9"/>
<text x="480.90" y="284.60" font-size="8.51" text-anchor="middle" fill="#262626" stroke="#262626" textLength="8.23" lengthAdjust="spacingAndGlyphs">10</text>
<text x="411.60" y="184.50" font-size="9.74" text-anchor="start" fill="#262626" stroke="#262626" textLength="49.10" lengthAdjust="spacingAndGlyphs">Washed plts</text>
<text x="385.00" y="201.20" font-size="7.62" text-anchor="start" fill="#262626" stroke="#262626" textLength="30.60" lengthAdjust="spacingAndGlyphs">Thrombin</text>
<text transform="translate(352.50,231.55) rotate(-90)" x="0" y="0" font-size="9.52" text-anchor="middle" fill="#262626" stroke="#262626" textLength="97.50" lengthAdjust="spacingAndGlyphs">% max αIIbβ3 activation</text>
<text x="436.40" y="298.80" font-size="10.3" text-anchor="middle" fill="#262626" stroke="#262626" textLength="43.10" lengthAdjust="spacingAndGlyphs">Time (min)</text>
<circle cx="478.00" cy="254.00" r="1.5" fill="#40649c" stroke="#223f6e" stroke-width="0.6"/>
<text x="482.30" y="256.20" font-size="7.73" text-anchor="start" fill="#262626" stroke="#262626" textLength="23.30" lengthAdjust="spacingAndGlyphs">Control</text>
<rect x="476.60" y="263.40" width="2.8" height="2.8" fill="#b8344a" stroke="#7c1527" stroke-width="0.55"/>
<text x="482.30" y="267.20" font-size="7.73" text-anchor="start" fill="#262626" stroke="#262626" textLength="12.00" lengthAdjust="spacingAndGlyphs">TNF</text>
<text x="494.60" y="264.20" font-size="4.26" text-anchor="start" fill="#262626" stroke="#262626" textLength="9.60" lengthAdjust="spacingAndGlyphs">ΔARE</text>
<line x1="439.00" y1="236.40" x2="451.10" y2="236.40" stroke="#262626" stroke-width="1.0"/>
<text x="445.10" y="235.60" font-size="6.5" text-anchor="middle" fill="#262626" stroke="#262626">*</text>
<line x1="469.30" y1="198.30" x2="480.90" y2="198.30" stroke="#262626" stroke-width="1.0"/>
<text x="475.40" y="198.00" font-size="6.5" text-anchor="middle" fill="#262626" stroke="#262626">*</text>
<circle cx="384.00" cy="271.00" r="1.45" fill="#40649c" stroke="#223f6e" stroke-width="0.6"/>
<circle cx="386.60" cy="271.00" r="1.45" fill="#40649c" stroke="#223f6e" stroke-width="0.6"/>
<line x1="382.20" y1="271.00" x2="388.60" y2="271.00" stroke="#1a1a1a" stroke-width="0.7"/>
<rect x="394.00" y="269.60" width="2.8" height="2.8" fill="#b8344a" stroke="#7c1527" stroke-width="0.55"/>
<rect x="397.20" y="269.60" width="2.8" height="2.8" fill="#b8344a" stroke="#7c1527" stroke-width="0.55"/>
<line x1="393.60" y1="271.00" x2="400.60" y2="271.00" stroke="#1a1a1a" stroke-width="0.7"/>
<circle cx="414.40" cy="270.20" r="1.45" fill="#40649c" stroke="#223f6e" stroke-width="0.6"/>
<circle cx="417.00" cy="270.20" r="1.45" fill="#40649c" stroke="#223f6e" stroke-width="0.6"/>
<line x1="412.60" y1="270.20" x2="419.00" y2="270.20" stroke="#1a1a1a" stroke-width="0.7"/>
<rect x="423.80" y="263.00" width="2.8" height="2.8" fill="#b8344a" stroke="#7c1527" stroke-width="0.55"/>
<rect x="426.40" y="265.10" width="2.8" height="2.8" fill="#b8344a" stroke="#7c1527" stroke-width="0.55"/>
<rect x="428.00" y="263.80" width="2.8" height="2.8" fill="#b8344a" stroke="#7c1527" stroke-width="0.55"/>
<rect x="425.20" y="266.00" width="2.8" height="2.8" fill="#b8344a" stroke="#7c1527" stroke-width="0.55"/>
<line x1="424.00" y1="266.00" x2="430.40" y2="266.00" stroke="#1a1a1a" stroke-width="0.7"/>
<circle cx="443.70" cy="258.20" r="1.45" fill="#40649c" stroke="#223f6e" stroke-width="0.6"/>
<circle cx="447.30" cy="260.40" r="1.45" fill="#40649c" stroke="#223f6e" stroke-width="0.6"/>
<circle cx="445.60" cy="267.40" r="1.45" fill="#40649c" stroke="#223f6e" stroke-width="0.6"/>
<line x1="442.20" y1="261.80" x2="449.00" y2="261.80" stroke="#1a1a1a" stroke-width="0.8"/>
<line x1="445.60" y1="257.60" x2="445.60" y2="265.00" stroke="#1a1a1a" stroke-width="0.8"/>
<line x1="443.80" y1="257.60" x2="447.40" y2="257.60" stroke="#1a1a1a" stroke-width="0.8"/>
<line x1="443.80" y1="265.00" x2="447.40" y2="265.00" stroke="#1a1a1a" stroke-width="0.8"/>
<rect x="455.30" y="244.30" width="2.8" height="2.8" fill="#b8344a" stroke="#7c1527" stroke-width="0.55"/>
<rect x="457.50" y="246.40" width="2.8" height="2.8" fill="#b8344a" stroke="#7c1527" stroke-width="0.55"/>
<rect x="453.60" y="249.90" width="2.8" height="2.8" fill="#b8344a" stroke="#7c1527" stroke-width="0.55"/>
<line x1="453.20" y1="248.30" x2="460.00" y2="248.30" stroke="#1a1a1a" stroke-width="0.8"/>
<line x1="456.60" y1="246.60" x2="456.60" y2="250.00" stroke="#1a1a1a" stroke-width="0.8"/>
<line x1="454.80" y1="246.60" x2="458.40" y2="246.60" stroke="#1a1a1a" stroke-width="0.8"/>
<line x1="454.80" y1="250.00" x2="458.40" y2="250.00" stroke="#1a1a1a" stroke-width="0.8"/>
<circle cx="475.40" cy="214.60" r="1.45" fill="#40649c" stroke="#223f6e" stroke-width="0.6"/>
<circle cx="475.40" cy="220.10" r="1.45" fill="#40649c" stroke="#223f6e" stroke-width="0.6"/>
<circle cx="475.40" cy="238.00" r="1.45" fill="#40649c" stroke="#223f6e" stroke-width="0.6"/>
<line x1="471.80" y1="224.60" x2="479.00" y2="224.60" stroke="#1a1a1a" stroke-width="0.8"/>
<line x1="475.40" y1="217.40" x2="475.40" y2="231.00" stroke="#1a1a1a" stroke-width="0.8"/>
<line x1="473.60" y1="217.40" x2="477.20" y2="217.40" stroke="#1a1a1a" stroke-width="0.8"/>
<line x1="473.60" y1="231.00" x2="477.20" y2="231.00" stroke="#1a1a1a" stroke-width="0.8"/>
<rect x="483.60" y="208.40" width="2.8" height="2.8" fill="#b8344a" stroke="#7c1527" stroke-width="0.55"/>
<rect x="487.00" y="208.40" width="2.8" height="2.8" fill="#b8344a" stroke="#7c1527" stroke-width="0.55"/>
<rect x="485.20" y="214.90" width="2.8" height="2.8" fill="#b8344a" stroke="#7c1527" stroke-width="0.55"/>
<line x1="483.10" y1="211.60" x2="490.30" y2="211.60" stroke="#1a1a1a" stroke-width="0.8"/>
<line x1="486.70" y1="209.20" x2="486.70" y2="213.60" stroke="#1a1a1a" stroke-width="0.8"/>
<line x1="484.90" y1="209.20" x2="488.50" y2="209.20" stroke="#1a1a1a" stroke-width="0.8"/>
<line x1="484.90" y1="213.60" x2="488.50" y2="213.60" stroke="#1a1a1a" stroke-width="0.8"/>
<line x1="170.80" y1="337.60" x2="170.80" y2="419.70" stroke="#1a1a1a" stroke-width="0.9"/>
<line x1="167.80" y1="419.70" x2="170.80" y2="419.70" stroke="#1a1a1a" stroke-width="0.9"/>
<text x="164.20" y="422.80" font-size="8.51" text-anchor="end" fill="#262626" stroke="#262626" textLength="4.12" lengthAdjust="spacingAndGlyphs">0</text>
<line x1="167.80" y1="403.68" x2="170.80" y2="403.68" stroke="#1a1a1a" stroke-width="0.9"/>
<text x="164.20" y="406.78" font-size="8.51" text-anchor="end" fill="#262626" stroke="#262626" textLength="8.23" lengthAdjust="spacingAndGlyphs">20</text>
<line x1="167.80" y1="387.66" x2="170.80" y2="387.66" stroke="#1a1a1a" stroke-width="0.9"/>
<text x="164.20" y="390.76" font-size="8.51" text-anchor="end" fill="#262626" stroke="#262626" textLength="8.23" lengthAdjust="spacingAndGlyphs">40</text>
<line x1="167.80" y1="371.64" x2="170.80" y2="371.64" stroke="#1a1a1a" stroke-width="0.9"/>
<text x="164.20" y="374.74" font-size="8.51" text-anchor="end" fill="#262626" stroke="#262626" textLength="8.23" lengthAdjust="spacingAndGlyphs">60</text>
<line x1="167.80" y1="355.62" x2="170.80" y2="355.62" stroke="#1a1a1a" stroke-width="0.9"/>
<text x="164.20" y="358.72" font-size="8.51" text-anchor="end" fill="#262626" stroke="#262626" textLength="8.23" lengthAdjust="spacingAndGlyphs">80</text>
<line x1="167.80" y1="339.60" x2="170.80" y2="339.60" stroke="#1a1a1a" stroke-width="0.9"/>
<text x="164.20" y="342.70" font-size="8.51" text-anchor="end" fill="#262626" stroke="#262626" textLength="12.35" lengthAdjust="spacingAndGlyphs">100</text>
<line x1="170.80" y1="419.70" x2="289.90" y2="419.70" stroke="#1a1a1a" stroke-width="0.9"/>
<line x1="183.50" y1="419.70" x2="183.50" y2="422.70" stroke="#1a1a1a" stroke-width="0.9"/>
<text x="183.50" y="432.40" font-size="8.51" text-anchor="middle" fill="#262626" stroke="#262626" textLength="4.12" lengthAdjust="spacingAndGlyphs">0</text>
<line x1="214.40" y1="419.70" x2="214.40" y2="422.70" stroke="#1a1a1a" stroke-width="0.9"/>
<text x="214.40" y="432.40" font-size="8.51" text-anchor="middle" fill="#262626" stroke="#262626" textLength="4.12" lengthAdjust="spacingAndGlyphs">3</text>
<line x1="245.20" y1="419.70" x2="245.20" y2="422.70" stroke="#1a1a1a" stroke-width="0.9"/>
<text x="245.20" y="432.40" font-size="8.51" text-anchor="middle" fill="#262626" stroke="#262626" textLength="4.12" lengthAdjust="spacingAndGlyphs">5</text>
<line x1="276.40" y1="419.70" x2="276.40" y2="422.70" stroke="#1a1a1a" stroke-width="0.9"/>
<text x="276.40" y="432.40" font-size="8.51" text-anchor="middle" fill="#262626" stroke="#262626" textLength="8.23" lengthAdjust="spacingAndGlyphs">10</text>
<text x="205.70" y="330.40" font-size="9.74" text-anchor="start" fill="#262626" stroke="#262626" textLength="48.90" lengthAdjust="spacingAndGlyphs">Washed plts</text>
<text transform="translate(145.10,378.40) rotate(-90)" x="0" y="0" font-size="9.52" text-anchor="middle" fill="#262626" stroke="#262626" textLength="97.80" lengthAdjust="spacingAndGlyphs">% max αIIbβ3 activation</text>
<text x="230.40" y="446.60" font-size="10.3" text-anchor="middle" fill="#262626" stroke="#262626" textLength="43.20" lengthAdjust="spacingAndGlyphs">Time (min)</text>
<circle cx="275.00" cy="396.50" r="1.5" fill="#40649c" stroke="#223f6e" stroke-width="0.6"/>
<text x="279.90" y="399.00" font-size="7.73" text-anchor="start" fill="#262626" stroke="#262626" textLength="23.10" lengthAdjust="spacingAndGlyphs">Control</text>
<rect x="273.60" y="406.60" width="2.8" height="2.8" fill="#b8344a" stroke="#7c1527" stroke-width="0.55"/>
<text x="279.90" y="410.30" font-size="7.73" text-anchor="start" fill="#262626" stroke="#262626" textLength="38.70" lengthAdjust="spacingAndGlyphs">ILβ1-treated</text>
<line x1="200.70" y1="400.90" x2="211.40" y2="400.90" stroke="#262626" stroke-width="1.0"/>
<text x="206.20" y="397.50" font-size="7.84" text-anchor="middle" fill="#262626" stroke="#262626">NS</text>
<line x1="231.00" y1="381.60" x2="241.70" y2="381.60" stroke="#262626" stroke-width="1.0"/>
<text x="236.50" y="378.10" font-size="7.84" text-anchor="middle" fill="#262626" stroke="#262626">NS</text>
<line x1="263.90" y1="344.20" x2="274.60" y2="344.20" stroke="#262626" stroke-width="1.0"/>
<text x="269.00" y="340.40" font-size="7.84" text-anchor="middle" fill="#262626" stroke="#262626">NS</text>
<circle cx="176.00" cy="419.00" r="1.45" fill="#40649c" stroke="#223f6e" stroke-width="0.6"/>
<circle cx="178.20" cy="419.00" r="1.45" fill="#40649c" stroke="#223f6e" stroke-width="0.6"/>
<circle cx="180.20" cy="419.00" r="1.45" fill="#40649c" stroke="#223f6e" stroke-width="0.6"/>
<rect x="185.80" y="417.60" width="2.8" height="2.8" fill="#b8344a" stroke="#7c1527" stroke-width="0.55"/>
<rect x="188.20" y="417.60" width="2.8" height="2.8" fill="#b8344a" stroke="#7c1527" stroke-width="0.55"/>
<rect x="190.60" y="417.60" width="2.8" height="2.8" fill="#b8344a" stroke="#7c1527" stroke-width="0.55"/>
<line x1="185.40" y1="419.00" x2="193.80" y2="419.00" stroke="#1a1a1a" stroke-width="0.7"/>
<circle cx="207.10" cy="409.60" r="1.45" fill="#40649c" stroke="#223f6e" stroke-width="0.6"/>
<circle cx="209.70" cy="412.70" r="1.45" fill="#40649c" stroke="#223f6e" stroke-width="0.6"/>
<circle cx="208.50" cy="414.40" r="1.45" fill="#40649c" stroke="#223f6e" stroke-width="0.6"/>
<circle cx="206.60" cy="411.80" r="1.45" fill="#40649c" stroke="#223f6e" stroke-width="0.6"/>
<line x1="205.00" y1="411.80" x2="211.40" y2="411.80" stroke="#1a1a1a" stroke-width="0.8"/>
<line x1="208.20" y1="410.40" x2="208.20" y2="413.20" stroke="#1a1a1a" stroke-width="0.8"/>
<line x1="206.60" y1="410.40" x2="209.80" y2="410.40" stroke="#1a1a1a" stroke-width="0.8"/>
<line x1="206.60" y1="413.20" x2="209.80" y2="413.20" stroke="#1a1a1a" stroke-width="0.8"/>
<rect x="216.60" y="411.20" width="2.8" height="2.8" fill="#b8344a" stroke="#7c1527" stroke-width="0.55"/>
<rect x="219.00" y="411.40" width="2.8" height="2.8" fill="#b8344a" stroke="#7c1527" stroke-width="0.55"/>
<rect x="221.40" y="411.60" width="2.8" height="2.8" fill="#b8344a" stroke="#7c1527" stroke-width="0.55"/>
<rect x="217.80" y="412.20" width="2.8" height="2.8" fill="#b8344a" stroke="#7c1527" stroke-width="0.55"/>
<line x1="216.40" y1="412.80" x2="224.60" y2="412.80" stroke="#1a1a1a" stroke-width="0.7"/>
<circle cx="240.30" cy="387.10" r="1.45" fill="#40649c" stroke="#223f6e" stroke-width="0.6"/>
<circle cx="241.70" cy="388.80" r="1.45" fill="#40649c" stroke="#223f6e" stroke-width="0.6"/>
<circle cx="237.90" cy="392.30" r="1.45" fill="#40649c" stroke="#223f6e" stroke-width="0.6"/>
<circle cx="239.40" cy="389.60" r="1.45" fill="#40649c" stroke="#223f6e" stroke-width="0.6"/>
<line x1="236.60" y1="389.40" x2="243.00" y2="389.40" stroke="#1a1a1a" stroke-width="0.8"/>
<line x1="239.80" y1="387.80" x2="239.80" y2="391.00" stroke="#1a1a1a" stroke-width="0.8"/>
<line x1="238.20" y1="387.80" x2="241.40" y2="387.80" stroke="#1a1a1a" stroke-width="0.8"/>
<line x1="238.20" y1="391.00" x2="241.40" y2="391.00" stroke="#1a1a1a" stroke-width="0.8"/>
<rect x="248.60" y="387.90" width="2.8" height="2.8" fill="#b8344a" stroke="#7c1527" stroke-width="0.55"/>
<rect x="250.70" y="390.00" width="2.8" height="2.8" fill="#b8344a" stroke="#7c1527" stroke-width="0.55"/>
<rect x="249.30" y="391.70" width="2.8" height="2.8" fill="#b8344a" stroke="#7c1527" stroke-width="0.55"/>
<line x1="248.00" y1="391.20" x2="254.00" y2="391.20" stroke="#1a1a1a" stroke-width="0.7"/>
<circle cx="268.20" cy="354.70" r="1.45" fill="#40649c" stroke="#223f6e" stroke-width="0.6"/>
<circle cx="270.20" cy="354.50" r="1.45" fill="#40649c" stroke="#223f6e" stroke-width="0.6"/>
<circle cx="272.20" cy="354.90" r="1.45" fill="#40649c" stroke="#223f6e" stroke-width="0.6"/>
<circle cx="273.60" cy="354.90" r="1.45" fill="#40649c" stroke="#223f6e" stroke-width="0.6"/>
<line x1="266.20" y1="354.80" x2="275.40" y2="354.80" stroke="#1a1a1a" stroke-width="0.7"/>
<rect x="280.90" y="353.60" width="2.8" height="2.8" fill="#b8344a" stroke="#7c1527" stroke-width="0.55"/>
<rect x="279.10" y="360.90" width="2.8" height="2.8" fill="#b8344a" stroke="#7c1527" stroke-width="0.55"/>
<rect x="283.10" y="357.60" width="2.8" height="2.8" fill="#b8344a" stroke="#7c1527" stroke-width="0.55"/>
<line x1="279.10" y1="359.00" x2="285.50" y2="359.00" stroke="#1a1a1a" stroke-width="0.8"/>
<line x1="282.30" y1="356.60" x2="282.30" y2="361.40" stroke="#1a1a1a" stroke-width="0.8"/>
<line x1="280.70" y1="356.60" x2="283.90" y2="356.60" stroke="#1a1a1a" stroke-width="0.8"/>
<line x1="280.70" y1="361.40" x2="283.90" y2="361.40" stroke="#1a1a1a" stroke-width="0.8"/>
<line x1="170.40" y1="199.25" x2="170.40" y2="271.50" stroke="#1a1a1a" stroke-width="0.9"/>
<line x1="167.60" y1="271.50" x2="170.40" y2="271.50" stroke="#1a1a1a" stroke-width="0.9"/>
<text x="164.60" y="274.35" font-size="8.96" text-anchor="end" fill="#262626" stroke="#262626" textLength="4.33" lengthAdjust="spacingAndGlyphs">0</text>
<line x1="167.60" y1="261.46" x2="170.40" y2="261.46" stroke="#1a1a1a" stroke-width="0.9"/>
<text x="164.60" y="264.31" font-size="8.96" text-anchor="end" fill="#262626" stroke="#262626" textLength="4.33" lengthAdjust="spacingAndGlyphs">5</text>
<line x1="167.60" y1="251.43" x2="170.40" y2="251.43" stroke="#1a1a1a" stroke-width="0.9"/>
<text x="164.60" y="254.28" font-size="8.96" text-anchor="end" fill="#262626" stroke="#262626" textLength="8.67" lengthAdjust="spacingAndGlyphs">10</text>
<line x1="167.60" y1="241.40" x2="170.40" y2="241.40" stroke="#1a1a1a" stroke-width="0.9"/>
<text x="164.60" y="244.25" font-size="8.96" text-anchor="end" fill="#262626" stroke="#262626" textLength="8.67" lengthAdjust="spacingAndGlyphs">15</text>
<line x1="167.60" y1="231.36" x2="170.40" y2="231.36" stroke="#1a1a1a" stroke-width="0.9"/>
<text x="164.60" y="234.21" font-size="8.96" text-anchor="end" fill="#262626" stroke="#262626" textLength="8.67" lengthAdjust="spacingAndGlyphs">20</text>
<line x1="167.60" y1="221.32" x2="170.40" y2="221.32" stroke="#1a1a1a" stroke-width="0.9"/>
<text x="164.60" y="224.17" font-size="8.96" text-anchor="end" fill="#262626" stroke="#262626" textLength="8.67" lengthAdjust="spacingAndGlyphs">25</text>
<line x1="167.60" y1="211.29" x2="170.40" y2="211.29" stroke="#1a1a1a" stroke-width="0.9"/>
<text x="164.60" y="214.14" font-size="8.96" text-anchor="end" fill="#262626" stroke="#262626" textLength="8.67" lengthAdjust="spacingAndGlyphs">30</text>
<line x1="167.60" y1="201.25" x2="170.40" y2="201.25" stroke="#1a1a1a" stroke-width="0.9"/>
<text x="164.60" y="204.10" font-size="8.96" text-anchor="end" fill="#262626" stroke="#262626" textLength="8.67" lengthAdjust="spacingAndGlyphs">35</text>
<line x1="169.90" y1="271.50" x2="276.30" y2="271.50" stroke="#1a1a1a" stroke-width="0.9"/>
<line x1="170.40" y1="271.50" x2="170.40" y2="274.30" stroke="#1a1a1a" stroke-width="0.9"/>
<text x="170.40" y="284.50" font-size="8.96" text-anchor="middle" fill="#262626" stroke="#262626" textLength="4.33" lengthAdjust="spacingAndGlyphs">0</text>
<line x1="187.60" y1="271.50" x2="187.60" y2="274.30" stroke="#1a1a1a" stroke-width="0.9"/>
<text x="187.60" y="284.50" font-size="8.96" text-anchor="middle" fill="#262626" stroke="#262626" textLength="8.67" lengthAdjust="spacingAndGlyphs">50</text>
<line x1="204.80" y1="271.50" x2="204.80" y2="274.30" stroke="#1a1a1a" stroke-width="0.9"/>
<text x="204.80" y="284.50" font-size="8.96" text-anchor="middle" fill="#262626" stroke="#262626" textLength="13.00" lengthAdjust="spacingAndGlyphs">100</text>
<line x1="222.00" y1="271.50" x2="222.00" y2="274.30" stroke="#1a1a1a" stroke-width="0.9"/>
<text x="222.00" y="284.50" font-size="8.96" text-anchor="middle" fill="#262626" stroke="#262626" textLength="13.00" lengthAdjust="spacingAndGlyphs">150</text>
<line x1="239.20" y1="271.50" x2="239.20" y2="274.30" stroke="#1a1a1a" stroke-width="0.9"/>
<text x="239.20" y="284.50" font-size="8.96" text-anchor="middle" fill="#262626" stroke="#262626" textLength="13.00" lengthAdjust="spacingAndGlyphs">200</text>
<line x1="256.40" y1="271.50" x2="256.40" y2="274.30" stroke="#1a1a1a" stroke-width="0.9"/>
<text x="256.40" y="284.50" font-size="8.96" text-anchor="middle" fill="#262626" stroke="#262626" textLength="13.00" lengthAdjust="spacingAndGlyphs">250</text>
<line x1="273.60" y1="271.50" x2="273.60" y2="274.30" stroke="#1a1a1a" stroke-width="0.9"/>
<text x="273.60" y="284.50" font-size="8.96" text-anchor="middle" fill="#262626" stroke="#262626" textLength="13.00" lengthAdjust="spacingAndGlyphs">300</text>
<line x1="173.84" y1="271.50" x2="173.84" y2="273.30" stroke="#1a1a1a" stroke-width="0.6"/>
<line x1="177.28" y1="271.50" x2="177.28" y2="273.30" stroke="#1a1a1a" stroke-width="0.6"/>
<line x1="180.72" y1="271.50" x2="180.72" y2="273.30" stroke="#1a1a1a" stroke-width="0.6"/>
<line x1="184.16" y1="271.50" x2="184.16" y2="273.30" stroke="#1a1a1a" stroke-width="0.6"/>
<line x1="191.04" y1="271.50" x2="191.04" y2="273.30" stroke="#1a1a1a" stroke-width="0.6"/>
<line x1="194.48" y1="271.50" x2="194.48" y2="273.30" stroke="#1a1a1a" stroke-width="0.6"/>
<line x1="197.92" y1="271.50" x2="197.92" y2="273.30" stroke="#1a1a1a" stroke-width="0.6"/>
<line x1="201.36" y1="271.50" x2="201.36" y2="273.30" stroke="#1a1a1a" stroke-width="0.6"/>
<line x1="208.24" y1="271.50" x2="208.24" y2="273.30" stroke="#1a1a1a" stroke-width="0.6"/>
<line x1="211.68" y1="271.50" x2="211.68" y2="273.30" stroke="#1a1a1a" stroke-width="0.6"/>
<line x1="215.12" y1="271.50" x2="215.12" y2="273.30" stroke="#1a1a1a" stroke-width="0.6"/>
<line x1="218.56" y1="271.50" x2="218.56" y2="273.30" stroke="#1a1a1a" stroke-width="0.6"/>
<line x1="225.44" y1="271.50" x2="225.44" y2="273.30" stroke="#1a1a1a" stroke-width="0.6"/>
<line x1="228.88" y1="271.50" x2="228.88" y2="273.30" stroke="#1a1a1a" stroke-width="0.6"/>
<line x1="232.32" y1="271.50" x2="232.32" y2="273.30" stroke="#1a1a1a" stroke-width="0.6"/>
<line x1="235.76" y1="271.50" x2="235.76" y2="273.30" stroke="#1a1a1a" stroke-width="0.6"/>
<line x1="242.64" y1="271.50" x2="242.64" y2="273.30" stroke="#1a1a1a" stroke-width="0.6"/>
<line x1="246.08" y1="271.50" x2="246.08" y2="273.30" stroke="#1a1a1a" stroke-width="0.6"/>
<line x1="249.52" y1="271.50" x2="249.52" y2="273.30" stroke="#1a1a1a" stroke-width="0.6"/>
<line x1="252.96" y1="271.50" x2="252.96" y2="273.30" stroke="#1a1a1a" stroke-width="0.6"/>
<line x1="259.84" y1="271.50" x2="259.84" y2="273.30" stroke="#1a1a1a" stroke-width="0.6"/>
<line x1="263.28" y1="271.50" x2="263.28" y2="273.30" stroke="#1a1a1a" stroke-width="0.6"/>
<line x1="266.72" y1="271.50" x2="266.72" y2="273.30" stroke="#1a1a1a" stroke-width="0.6"/>
<line x1="270.16" y1="271.50" x2="270.16" y2="273.30" stroke="#1a1a1a" stroke-width="0.6"/>
<text x="197.40" y="185.20" font-size="9.74" text-anchor="start" fill="#262626" stroke="#262626" textLength="51.80" lengthAdjust="spacingAndGlyphs">Whole blood</text>
<text transform="translate(149.00,235.60) rotate(-90)" x="0" y="0" font-size="9.18" text-anchor="middle" fill="#262626" stroke="#262626" textLength="94.40" lengthAdjust="spacingAndGlyphs">Growth rate (% area / s)</text>
<text x="223.50" y="297.80" font-size="10.3" text-anchor="middle" fill="#262626" stroke="#262626" textLength="60.50" lengthAdjust="spacingAndGlyphs">Time (seconds)</text>
<path d="M170.40,264.17 L171.09,263.86 L171.78,263.25 L172.46,262.64 L173.15,262.02 L173.84,261.41 L174.53,260.80 L175.22,260.19 L175.90,259.57 L176.59,258.87 L177.28,257.97 L177.97,256.88 L178.66,255.70 L179.34,254.51 L180.03,253.33 L180.72,252.15 L181.41,250.97 L182.10,249.78 L182.78,248.60 L183.47,247.32 L184.16,245.94 L184.85,244.46 L185.54,242.98 L186.22,241.50 L186.91,240.02 L187.60,238.54 L188.29,237.06 L188.98,235.59 L189.66,234.21 L190.35,233.03 L191.04,232.06 L191.73,231.19 L192.42,230.32 L193.10,229.45 L193.79,228.58 L194.48,227.71 L195.17,226.84 L195.86,225.99 L196.54,225.15 L197.23,224.34 L197.92,223.53 L198.61,222.73 L199.30,221.93 L199.98,221.12 L200.67,220.32 L201.36,219.34 L202.05,218.19 L202.74,216.86 L203.42,215.54 L204.11,214.21 L204.80,212.88 L205.49,211.60 L206.18,210.41 L206.86,209.31 L207.55,208.25 L208.24,207.34 L208.93,206.70 L209.62,206.34 L210.30,206.12 L210.99,205.89 L211.68,205.87 L212.37,206.03 L213.06,206.39 L213.74,206.75 L214.43,207.12 L215.12,207.79 L215.81,208.78 L216.50,209.67 L217.18,210.15 L217.87,210.22 L218.56,210.29 L219.25,210.35 L219.94,210.42 L220.62,210.49 L221.31,210.55 L222.00,210.62 L222.69,210.69 L223.38,210.75 L224.06,210.82 L224.75,210.87 L225.44,210.90 L226.13,210.91 L226.82,210.91 L227.50,210.92 L228.19,210.93 L228.88,210.94 L229.57,210.95 L230.26,210.96 L230.94,210.97 L231.63,210.98 L232.32,210.98 L233.01,210.99 L233.70,211.00 L234.38,211.01 L235.07,211.02 L235.76,211.03 L236.45,211.04 L237.14,211.05 L237.82,211.05 L238.51,211.06 L239.20,211.07 L239.89,211.08 L240.58,211.09 L241.26,211.10 L241.95,211.11 L242.64,211.12 L243.33,211.12 L244.02,211.13 L244.70,211.14 L245.39,211.15 L246.08,211.16 L246.77,211.17 L247.46,211.18 L248.14,211.19 L248.83,211.19 L249.52,211.20 L250.21,211.21 L250.90,211.22 L251.58,211.23 L252.27,211.24 L252.96,211.25 L253.65,211.26 L254.34,211.26 L255.02,211.27 L255.71,211.28 L256.40,211.28 L257.09,211.27 L257.78,211.24 L258.46,211.22 L259.15,211.19 L259.84,211.17 L260.53,211.15 L261.22,211.12 L261.90,211.10 L262.59,211.07 L263.28,211.05 L263.97,211.03 L264.66,211.00 L265.34,210.98 L266.03,210.95 L266.72,210.93 L267.41,210.90 L268.10,210.88 L268.78,210.86 L269.47,210.83 L270.16,210.81 L270.85,210.78 L271.54,210.76 L272.22,210.74 L272.91,210.71 L273.60,210.70 L273.60,240.17 L272.91,240.16 L272.22,240.13 L271.54,240.09 L270.85,240.06 L270.16,240.03 L269.47,240.00 L268.78,239.97 L268.10,239.93 L267.41,239.90 L266.72,239.87 L266.03,239.84 L265.34,239.81 L264.66,239.77 L263.97,239.74 L263.28,239.71 L262.59,239.68 L261.90,239.64 L261.22,239.61 L260.53,239.58 L259.84,239.55 L259.15,239.52 L258.46,239.48 L257.78,239.45 L257.09,239.42 L256.40,239.38 L255.71,239.32 L255.02,239.26 L254.34,239.19 L253.65,239.13 L252.96,239.06 L252.27,239.00 L251.58,238.93 L250.90,238.87 L250.21,238.81 L249.52,238.74 L248.83,238.68 L248.14,238.61 L247.46,238.55 L246.77,238.48 L246.08,238.42 L245.39,238.35 L244.70,238.29 L244.02,238.22 L243.33,238.16 L242.64,238.09 L241.95,238.03 L241.26,237.96 L240.58,237.90 L239.89,237.83 L239.20,237.77 L238.51,237.70 L237.82,237.64 L237.14,237.58 L236.45,237.51 L235.76,237.45 L235.07,237.39 L234.38,237.34 L233.70,237.30 L233.01,237.26 L232.32,237.22 L231.63,237.18 L230.94,237.14 L230.26,237.10 L229.57,237.06 L228.88,237.02 L228.19,236.98 L227.50,236.94 L226.82,236.90 L226.13,236.86 L225.44,236.82 L224.75,236.77 L224.06,236.71 L223.38,236.65 L222.69,236.58 L222.00,236.51 L221.31,236.44 L220.62,236.38 L219.94,236.31 L219.25,236.24 L218.56,236.18 L217.87,236.11 L217.18,236.04 L216.50,235.70 L215.81,235.07 L215.12,234.34 L214.43,233.77 L213.74,233.37 L213.06,232.97 L212.37,232.56 L211.68,232.35 L210.99,232.33 L210.30,232.51 L209.62,232.68 L208.93,232.85 L208.24,233.02 L207.55,233.19 L206.86,233.42 L206.18,233.70 L205.49,234.02 L204.80,234.35 L204.11,234.68 L203.42,235.05 L202.74,235.49 L202.05,236.02 L201.36,236.58 L200.67,237.14 L199.98,237.70 L199.30,238.26 L198.61,238.83 L197.92,239.39 L197.23,239.95 L196.54,240.56 L195.86,241.26 L195.17,242.06 L194.48,242.91 L193.79,243.76 L193.10,244.61 L192.42,245.45 L191.73,246.30 L191.04,247.15 L190.35,248.03 L189.66,248.97 L188.98,249.97 L188.29,251.01 L187.60,252.04 L186.91,253.08 L186.22,254.11 L185.54,255.15 L184.85,256.18 L184.16,257.22 L183.47,258.19 L182.78,259.10 L182.10,259.94 L181.41,260.79 L180.72,261.63 L180.03,262.48 L179.34,263.32 L178.66,264.17 L177.97,265.01 L177.28,265.80 L176.59,266.45 L175.90,266.98 L175.22,267.44 L174.53,267.91 L173.84,268.37 L173.15,268.84 L172.46,269.30 L171.78,269.77 L171.09,270.23 L170.40,270.46 Z" fill="#c1606f" fill-opacity="1.0" stroke="none"/>
<line x1="180.10" y1="253.21" x2="180.10" y2="262.39" stroke="#dfa3ad" stroke-width="0.9" stroke-opacity="0.85"/>
<line x1="188.63" y1="236.32" x2="188.63" y2="250.49" stroke="#dfa3ad" stroke-width="0.9" stroke-opacity="0.85"/>
<line x1="197.16" y1="224.42" x2="197.16" y2="240.01" stroke="#dfa3ad" stroke-width="0.9" stroke-opacity="0.85"/>
<line x1="205.69" y1="211.15" x2="205.69" y2="233.93" stroke="#dfa3ad" stroke-width="0.9" stroke-opacity="0.85"/>
<line x1="214.23" y1="207.01" x2="214.23" y2="233.65" stroke="#dfa3ad" stroke-width="0.9" stroke-opacity="0.85"/>
<line x1="222.76" y1="210.69" x2="222.76" y2="236.58" stroke="#dfa3ad" stroke-width="0.9" stroke-opacity="0.85"/>
<line x1="231.29" y1="210.97" x2="231.29" y2="237.16" stroke="#dfa3ad" stroke-width="0.9" stroke-opacity="0.85"/>
<line x1="239.82" y1="211.08" x2="239.82" y2="237.83" stroke="#dfa3ad" stroke-width="0.9" stroke-opacity="0.85"/>
<line x1="248.35" y1="211.19" x2="248.35" y2="238.63" stroke="#dfa3ad" stroke-width="0.9" stroke-opacity="0.85"/>
<line x1="256.88" y1="211.27" x2="256.88" y2="239.41" stroke="#dfa3ad" stroke-width="0.9" stroke-opacity="0.85"/>
<line x1="265.41" y1="210.97" x2="265.41" y2="239.81" stroke="#dfa3ad" stroke-width="0.9" stroke-opacity="0.85"/>
<line x1="182.23" y1="249.55" x2="182.23" y2="259.77" stroke="#d48894" stroke-width="0.5" stroke-opacity="0.5"/>
<line x1="186.50" y1="240.91" x2="186.50" y2="253.70" stroke="#d48894" stroke-width="0.5" stroke-opacity="0.5"/>
<line x1="190.76" y1="232.41" x2="190.76" y2="247.49" stroke="#d48894" stroke-width="0.5" stroke-opacity="0.5"/>
<line x1="195.03" y1="227.02" x2="195.03" y2="242.23" stroke="#d48894" stroke-width="0.5" stroke-opacity="0.5"/>
<line x1="199.30" y1="221.93" x2="199.30" y2="238.26" stroke="#d48894" stroke-width="0.5" stroke-opacity="0.5"/>
<line x1="203.56" y1="215.27" x2="203.56" y2="234.94" stroke="#d48894" stroke-width="0.5" stroke-opacity="0.5"/>
<line x1="207.83" y1="207.83" x2="207.83" y2="233.13" stroke="#d48894" stroke-width="0.5" stroke-opacity="0.5"/>
<line x1="212.09" y1="205.89" x2="212.09" y2="232.40" stroke="#d48894" stroke-width="0.5" stroke-opacity="0.5"/>
<line x1="216.36" y1="209.82" x2="216.36" y2="235.80" stroke="#d48894" stroke-width="0.5" stroke-opacity="0.5"/>
<line x1="220.62" y1="210.49" x2="220.62" y2="236.38" stroke="#d48894" stroke-width="0.5" stroke-opacity="0.5"/>
<line x1="224.89" y1="210.89" x2="224.89" y2="236.79" stroke="#d48894" stroke-width="0.5" stroke-opacity="0.5"/>
<line x1="229.16" y1="210.94" x2="229.16" y2="237.04" stroke="#d48894" stroke-width="0.5" stroke-opacity="0.5"/>
<line x1="233.42" y1="211.00" x2="233.42" y2="237.28" stroke="#d48894" stroke-width="0.5" stroke-opacity="0.5"/>
<line x1="237.69" y1="211.05" x2="237.69" y2="237.63" stroke="#d48894" stroke-width="0.5" stroke-opacity="0.5"/>
<line x1="241.95" y1="211.11" x2="241.95" y2="238.03" stroke="#d48894" stroke-width="0.5" stroke-opacity="0.5"/>
<line x1="246.22" y1="211.16" x2="246.22" y2="238.43" stroke="#d48894" stroke-width="0.5" stroke-opacity="0.5"/>
<line x1="250.48" y1="211.21" x2="250.48" y2="238.83" stroke="#d48894" stroke-width="0.5" stroke-opacity="0.5"/>
<line x1="254.75" y1="211.27" x2="254.75" y2="239.23" stroke="#d48894" stroke-width="0.5" stroke-opacity="0.5"/>
<line x1="259.01" y1="211.20" x2="259.01" y2="239.51" stroke="#d48894" stroke-width="0.5" stroke-opacity="0.5"/>
<line x1="263.28" y1="211.05" x2="263.28" y2="239.71" stroke="#d48894" stroke-width="0.5" stroke-opacity="0.5"/>
<line x1="267.55" y1="210.90" x2="267.55" y2="239.91" stroke="#d48894" stroke-width="0.5" stroke-opacity="0.5"/>
<line x1="271.81" y1="210.75" x2="271.81" y2="240.11" stroke="#d48894" stroke-width="0.5" stroke-opacity="0.5"/>
<path d="M170.40,266.37 L171.09,266.05 L171.78,265.42 L172.46,264.78 L173.15,264.15 L173.84,263.51 L174.53,262.88 L175.22,262.25 L175.90,261.61 L176.59,260.97 L177.28,260.29 L177.97,259.58 L178.66,258.87 L179.34,258.15 L180.03,257.43 L180.72,256.71 L181.41,255.99 L182.10,255.27 L182.78,254.56 L183.47,253.87 L184.16,253.20 L184.85,252.57 L185.54,251.94 L186.22,251.30 L186.91,250.67 L187.60,250.04 L188.29,249.40 L188.98,248.77 L189.66,248.17 L190.35,247.66 L191.04,247.22 L191.73,246.81 L192.42,246.41 L193.10,246.01 L193.79,245.61 L194.48,245.21 L195.17,244.83 L195.86,244.49 L196.54,244.19 L197.23,243.91 L197.92,243.64 L198.61,243.36 L199.30,243.08 L199.98,242.81 L200.67,242.53 L201.36,242.25 L202.05,241.98 L202.74,241.70 L203.42,241.42 L204.11,241.15 L204.80,240.87 L205.49,240.65 L206.18,240.49 L206.86,240.38 L207.55,240.27 L208.24,240.16 L208.93,240.06 L209.62,239.95 L210.30,239.87 L210.99,239.84 L211.68,239.87 L212.37,239.92 L213.06,239.98 L213.74,240.03 L214.43,240.08 L215.12,240.14 L215.81,240.20 L216.50,240.28 L217.18,240.37 L217.87,240.46 L218.56,240.55 L219.25,240.64 L219.94,240.73 L220.62,240.82 L221.31,240.90 L222.00,240.96 L222.69,240.98 L223.38,240.96 L224.06,240.95 L224.75,240.93 L225.44,240.91 L226.13,240.90 L226.82,240.88 L227.50,240.87 L228.19,240.85 L228.88,240.83 L229.57,240.82 L230.26,240.80 L230.94,240.78 L231.63,240.77 L232.32,240.75 L233.01,240.74 L233.70,240.72 L234.38,240.70 L235.07,240.69 L235.76,240.67 L236.45,240.66 L237.14,240.64 L237.82,240.62 L238.51,240.61 L239.20,240.59 L239.89,240.58 L240.58,240.57 L241.26,240.56 L241.95,240.54 L242.64,240.53 L243.33,240.52 L244.02,240.51 L244.70,240.50 L245.39,240.48 L246.08,240.47 L246.77,240.46 L247.46,240.45 L248.14,240.44 L248.83,240.42 L249.52,240.41 L250.21,240.40 L250.90,240.39 L251.58,240.38 L252.27,240.36 L252.96,240.35 L253.65,240.34 L254.34,240.33 L255.02,240.32 L255.71,240.30 L256.40,240.29 L257.09,240.28 L257.78,240.27 L258.46,240.26 L259.15,240.24 L259.84,240.23 L260.53,240.22 L261.22,240.21 L261.90,240.19 L262.59,240.18 L263.28,240.17 L263.97,240.16 L264.66,240.15 L265.34,240.13 L266.03,240.12 L266.72,240.11 L267.41,240.10 L268.10,240.09 L268.78,240.07 L269.47,240.06 L270.16,240.05 L270.85,240.04 L271.54,240.03 L272.22,240.01 L272.91,240.00 L273.60,240.00 L273.60,242.61 L272.91,242.62 L272.22,242.65 L271.54,242.67 L270.85,242.70 L270.16,242.72 L269.47,242.74 L268.78,242.77 L268.10,242.79 L267.41,242.82 L266.72,242.84 L266.03,242.86 L265.34,242.89 L264.66,242.91 L263.97,242.94 L263.28,242.96 L262.59,242.98 L261.90,243.01 L261.22,243.03 L260.53,243.06 L259.84,243.08 L259.15,243.10 L258.46,243.13 L257.78,243.15 L257.09,243.18 L256.40,243.20 L255.71,243.23 L255.02,243.25 L254.34,243.27 L253.65,243.30 L252.96,243.32 L252.27,243.35 L251.58,243.37 L250.90,243.39 L250.21,243.42 L249.52,243.44 L248.83,243.47 L248.14,243.49 L247.46,243.51 L246.77,243.54 L246.08,243.56 L245.39,243.59 L244.70,243.61 L244.02,243.63 L243.33,243.66 L242.64,243.68 L241.95,243.71 L241.26,243.73 L240.58,243.76 L239.89,243.78 L239.20,243.81 L238.51,243.85 L237.82,243.90 L237.14,243.95 L236.45,244.00 L235.76,244.04 L235.07,244.09 L234.38,244.14 L233.70,244.19 L233.01,244.24 L232.32,244.29 L231.63,244.33 L230.94,244.38 L230.26,244.43 L229.57,244.48 L228.88,244.53 L228.19,244.57 L227.50,244.62 L226.82,244.67 L226.13,244.72 L225.44,244.77 L224.75,244.81 L224.06,244.86 L223.38,244.91 L222.69,244.96 L222.00,245.02 L221.31,245.10 L220.62,245.19 L219.94,245.28 L219.25,245.36 L218.56,245.45 L217.87,245.54 L217.18,245.63 L216.50,245.72 L215.81,245.83 L215.12,245.94 L214.43,246.08 L213.74,246.21 L213.06,246.35 L212.37,246.48 L211.68,246.61 L210.99,246.76 L210.30,246.92 L209.62,247.09 L208.93,247.28 L208.24,247.47 L207.55,247.66 L206.86,247.84 L206.18,248.03 L205.49,248.22 L204.80,248.40 L204.11,248.58 L203.42,248.76 L202.74,248.94 L202.05,249.12 L201.36,249.30 L200.67,249.48 L199.98,249.66 L199.30,249.84 L198.61,250.02 L197.92,250.20 L197.23,250.38 L196.54,250.56 L195.86,250.76 L195.17,251.02 L194.48,251.32 L193.79,251.64 L193.10,251.97 L192.42,252.30 L191.73,252.62 L191.04,252.95 L190.35,253.32 L189.66,253.78 L188.98,254.32 L188.29,254.92 L187.60,255.51 L186.91,256.10 L186.22,256.69 L185.54,257.28 L184.85,257.87 L184.16,258.47 L183.47,259.08 L182.78,259.73 L182.10,260.41 L181.41,261.08 L180.72,261.76 L180.03,262.44 L179.34,263.11 L178.66,263.79 L177.97,264.46 L177.28,265.11 L176.59,265.70 L175.90,266.24 L175.22,266.75 L174.53,267.25 L173.84,267.76 L173.15,268.27 L172.46,268.77 L171.78,269.28 L171.09,269.79 L170.40,270.04 Z" fill="#7b98c2" fill-opacity="1.0" stroke="none"/>
<path d="M170.40,268.20 L171.09,267.92 L171.78,267.35 L172.46,266.78 L173.15,266.21 L173.84,265.64 L174.53,265.07 L175.22,264.50 L175.90,263.93 L176.59,263.33 L177.28,262.70 L177.97,262.02 L178.66,261.33 L179.34,260.63 L180.03,259.93 L180.72,259.24 L181.41,258.54 L182.10,257.84 L182.78,257.14 L183.47,256.48 L184.16,255.83 L184.85,255.22 L185.54,254.61 L186.22,254.00 L186.91,253.38 L187.60,252.77 L188.29,252.16 L188.98,251.55 L189.66,250.97 L190.35,250.48 L191.04,250.07 L191.73,249.69 L192.42,249.32 L193.10,248.94 L193.79,248.57 L194.48,248.19 L195.17,247.87 L195.86,247.60 L196.54,247.39 L197.23,247.17 L197.92,246.96 L198.61,246.74 L199.30,246.53 L199.98,246.31 L200.67,246.10 L201.36,245.88 L202.05,245.67 L202.74,245.45 L203.42,245.24 L204.11,245.02 L204.80,244.84 L205.49,244.70 L206.18,244.59 L206.86,244.49 L207.55,244.38 L208.24,244.27 L208.93,244.16 L209.62,244.06 L210.30,243.95 L210.99,243.84 L211.68,243.74 L212.37,243.63 L213.06,243.52 L213.74,243.42 L214.43,243.31 L215.12,243.23 L215.81,243.19 L216.50,243.18 L217.18,243.17 L217.87,243.16 L218.56,243.15 L219.25,243.14 L219.94,243.13 L220.62,243.12 L221.31,243.11 L222.00,243.10 L222.69,243.09 L223.38,243.08 L224.06,243.07 L224.75,243.06 L225.44,243.05 L226.13,243.04 L226.82,243.03 L227.50,243.03 L228.19,243.02 L228.88,243.00 L229.57,242.98 L230.26,242.96 L230.94,242.93 L231.63,242.90 L232.32,242.87 L233.01,242.84 L233.70,242.81 L234.38,242.78 L235.07,242.75 L235.76,242.72 L236.45,242.69 L237.14,242.66 L237.82,242.63 L238.51,242.60 L239.20,242.57 L239.89,242.54 L240.58,242.51 L241.26,242.48 L241.95,242.45 L242.64,242.42 L243.33,242.39 L244.02,242.36 L244.70,242.33 L245.39,242.30 L246.08,242.27 L246.77,242.24 L247.46,242.21 L248.14,242.19 L248.83,242.17 L249.52,242.14 L250.21,242.12 L250.90,242.10 L251.58,242.08 L252.27,242.06 L252.96,242.04 L253.65,242.02 L254.34,241.99 L255.02,241.97 L255.71,241.95 L256.40,241.93 L257.09,241.91 L257.78,241.89 L258.46,241.87 L259.15,241.84 L259.84,241.82 L260.53,241.80 L261.22,241.78 L261.90,241.76 L262.59,241.74 L263.28,241.72 L263.97,241.69 L264.66,241.67 L265.34,241.65 L266.03,241.63 L266.72,241.61 L267.41,241.59 L268.10,241.57 L268.78,241.54 L269.47,241.52 L270.16,241.50 L270.85,241.48 L271.54,241.46 L272.22,241.44 L272.91,241.42 L273.60,241.41" fill="none" stroke="#1b2538" stroke-width="2.3" stroke-linejoin="round" stroke-linecap="round" stroke-opacity="1.0"/>
<path d="M170.40,267.78 L171.09,267.48 L171.78,266.86 L172.46,266.25 L173.15,265.64 L173.84,265.02 L174.53,264.41 L175.22,263.80 L175.90,263.19 L176.59,262.51 L177.28,261.71 L177.97,260.78 L178.66,259.79 L179.34,258.79 L180.03,257.80 L180.72,256.81 L181.41,255.81 L182.10,254.82 L182.78,253.83 L183.47,252.82 L184.16,251.80 L184.85,250.76 L185.54,249.73 L186.22,248.69 L186.91,247.66 L187.60,246.62 L188.29,245.59 L188.98,244.55 L189.66,243.52 L190.35,242.48 L191.04,241.44 L191.73,240.39 L192.42,239.35 L193.10,238.30 L193.79,237.26 L194.48,236.22 L195.17,235.29 L195.86,234.49 L196.54,233.81 L197.23,233.13 L197.92,232.45 L198.61,231.77 L199.30,231.09 L199.98,230.41 L200.67,229.73 L201.36,229.05 L202.05,228.37 L202.74,227.63 L203.42,226.80 L204.11,225.86 L204.80,224.87 L205.49,223.88 L206.18,222.89 L206.86,221.90 L207.55,220.91 L208.24,220.16 L208.93,219.64 L209.62,219.36 L210.30,219.09 L210.99,218.81 L211.68,218.53 L212.37,218.36 L213.06,218.41 L213.74,218.68 L214.43,219.06 L215.12,219.44 L215.81,219.81 L216.50,220.19 L217.18,220.57 L217.87,220.95 L218.56,221.27 L219.25,221.55 L219.94,221.78 L220.62,222.01 L221.31,222.23 L222.00,222.46 L222.69,222.69 L223.38,222.91 L224.06,223.14 L224.75,223.37 L225.44,223.59 L226.13,223.79 L226.82,223.94 L227.50,224.03 L228.19,224.09 L228.88,224.16 L229.57,224.22 L230.26,224.29 L230.94,224.35 L231.63,224.42 L232.32,224.48 L233.01,224.54 L233.70,224.61 L234.38,224.67 L235.07,224.72 L235.76,224.76 L236.45,224.78 L237.14,224.80 L237.82,224.82 L238.51,224.85 L239.20,224.87 L239.89,224.89 L240.58,224.91 L241.26,224.93 L241.95,224.95 L242.64,224.98 L243.33,225.00 L244.02,225.02 L244.70,225.04 L245.39,225.06 L246.08,225.08 L246.77,225.11 L247.46,225.12 L248.14,225.13 L248.83,225.13 L249.52,225.12 L250.21,225.12 L250.90,225.11 L251.58,225.11 L252.27,225.10 L252.96,225.10 L253.65,225.09 L254.34,225.09 L255.02,225.08 L255.71,225.08 L256.40,225.07 L257.09,225.07 L257.78,225.06 L258.46,225.06 L259.15,225.05 L259.84,225.04 L260.53,225.04 L261.22,225.03 L261.90,225.03 L262.59,225.02 L263.28,225.02 L263.97,225.01 L264.66,225.01 L265.34,225.00 L266.03,225.00 L266.72,224.99 L267.41,224.99 L268.10,224.98 L268.78,224.98 L269.47,224.97 L270.16,224.96 L270.85,224.96 L271.54,224.95 L272.22,224.95 L272.91,224.94 L273.60,224.94" fill="none" stroke="#3a1218" stroke-width="2.8" stroke-linejoin="round" stroke-linecap="round" stroke-opacity="1.0"/>
<circle cx="273.60" cy="224.94" r="1.4" fill="#a8283c"/>
<circle cx="273.60" cy="241.40" r="1.4" fill="#35588c"/>
<line x1="214.43" y1="210.09" x2="214.43" y2="237.38" stroke="#8c1d2f" stroke-width="1.1"/>
<line x1="214.43" y1="237.38" x2="214.43" y2="253.04" stroke="#b33347" stroke-width="0.6"/>
<line x1="213.43" y1="253.04" x2="215.43" y2="253.04" stroke="#b33347" stroke-width="0.5"/>
<rect x="212.83" y="235.78" width="3.2" height="3.2" fill="#d9808e" stroke="#8c1d2f" stroke-width="0.8"/>
<line x1="229.91" y1="223.73" x2="229.91" y2="229.96" stroke="#8c1d2f" stroke-width="1.1"/>
<line x1="229.91" y1="229.96" x2="229.91" y2="247.62" stroke="#b33347" stroke-width="0.6"/>
<line x1="228.91" y1="247.62" x2="230.91" y2="247.62" stroke="#b33347" stroke-width="0.5"/>
<rect x="228.31" y="228.36" width="3.2" height="3.2" fill="#d9808e" stroke="#8c1d2f" stroke-width="0.8"/>
<line x1="251.58" y1="225.14" x2="251.58" y2="231.76" stroke="#8c1d2f" stroke-width="1.1"/>
<line x1="251.58" y1="231.76" x2="251.58" y2="241.80" stroke="#b33347" stroke-width="0.6"/>
<line x1="250.58" y1="241.80" x2="252.58" y2="241.80" stroke="#b33347" stroke-width="0.5"/>
<rect x="249.98" y="230.16" width="3.2" height="3.2" fill="#d9808e" stroke="#8c1d2f" stroke-width="0.8"/>
<line x1="203.08" y1="225.34" x2="203.08" y2="228.95" stroke="#8c1d2f" stroke-width="1.1"/>
<line x1="203.08" y1="228.95" x2="203.08" y2="243.40" stroke="#b33347" stroke-width="0.6"/>
<line x1="202.08" y1="243.40" x2="204.08" y2="243.40" stroke="#b33347" stroke-width="0.5"/>
<rect x="201.48" y="227.35" width="3.2" height="3.2" fill="#d9808e" stroke="#8c1d2f" stroke-width="0.8"/>
<line x1="224.06" y1="243.00" x2="224.06" y2="263.07" stroke="#2c4a7c" stroke-width="1.1"/>
<line x1="224.06" y1="263.07" x2="224.06" y2="270.10" stroke="#8aa0c4" stroke-width="0.6"/>
<line x1="223.06" y1="270.10" x2="225.06" y2="270.10" stroke="#8aa0c4" stroke-width="0.5"/>
<circle cx="224.06" cy="263.07" r="1.5" fill="#2c4a7c" stroke="#2c4a7c" stroke-width="0.3"/>
<line x1="239.89" y1="242.60" x2="239.89" y2="251.83" stroke="#2c4a7c" stroke-width="1.1"/>
<line x1="239.89" y1="251.83" x2="239.89" y2="261.46" stroke="#8aa0c4" stroke-width="0.6"/>
<line x1="238.89" y1="261.46" x2="240.89" y2="261.46" stroke="#8aa0c4" stroke-width="0.5"/>
<circle cx="239.89" cy="251.83" r="1.5" fill="#2c4a7c" stroke="#2c4a7c" stroke-width="0.3"/>
<line x1="251.58" y1="241.80" x2="251.58" y2="262.67" stroke="#2c4a7c" stroke-width="1.1"/>
<line x1="251.58" y1="262.67" x2="251.58" y2="271.10" stroke="#8aa0c4" stroke-width="0.6"/>
<line x1="250.58" y1="271.10" x2="252.58" y2="271.10" stroke="#8aa0c4" stroke-width="0.5"/>
<circle cx="251.58" cy="262.67" r="1.5" fill="#2c4a7c" stroke="#2c4a7c" stroke-width="0.3"/>
<circle cx="193.79" cy="233.37" r="1.3" fill="#b23246" stroke="#7c1527" stroke-width="0.4"/>
<circle cx="196.20" cy="236.98" r="1.3" fill="#b23246" stroke="#7c1527" stroke-width="0.4"/>
<circle cx="197.92" cy="227.75" r="1.3" fill="#b23246" stroke="#7c1527" stroke-width="0.4"/>
<circle cx="201.36" cy="223.33" r="1.3" fill="#b23246" stroke="#7c1527" stroke-width="0.4"/>
<path d="M278.4,216.3 L281.2,216.3 L281.2,241.6 L278.4,241.6" fill="none" stroke="#333" stroke-width="0.8"/>
<text x="285.40" y="232.60" font-size="6.5" text-anchor="middle" fill="#262626" stroke="#262626">*</text>
<text x="288.40" y="232.60" font-size="6.5" text-anchor="middle" fill="#262626" stroke="#262626">*</text>
<text x="291.40" y="232.60" font-size="6.5" text-anchor="middle" fill="#262626" stroke="#262626">*</text>
<line x1="263.60" y1="254.20" x2="272.40" y2="254.20" stroke="#a8283c" stroke-width="1.1"/>
<rect x="266.80" y="253.00" width="2.4" height="2.4" fill="#b8344a" stroke="#7c1527" stroke-width="0.55"/>
<text x="274.60" y="256.80" font-size="7.84" text-anchor="start" fill="#262626" stroke="#262626" textLength="19.00" lengthAdjust="spacingAndGlyphs">TNF-α</text>
<line x1="263.60" y1="263.80" x2="272.40" y2="263.80" stroke="#35588c" stroke-width="1.1"/>
<polygon points="268,262 269.6,263.8 268,265.6 266.4,263.8" fill="#35588c"/>
<text x="274.60" y="266.60" font-size="7.84" text-anchor="start" fill="#262626" stroke="#262626" textLength="23.60" lengthAdjust="spacingAndGlyphs">Control</text>
<line x1="377.60" y1="345.82" x2="377.60" y2="419.40" stroke="#1a1a1a" stroke-width="0.9"/>
<line x1="374.80" y1="419.40" x2="377.60" y2="419.40" stroke="#1a1a1a" stroke-width="0.9"/>
<text x="371.60" y="422.25" font-size="8.96" text-anchor="end" fill="#262626" stroke="#262626" textLength="4.33" lengthAdjust="spacingAndGlyphs">0</text>
<line x1="374.80" y1="409.17" x2="377.60" y2="409.17" stroke="#1a1a1a" stroke-width="0.9"/>
<text x="371.60" y="412.02" font-size="8.96" text-anchor="end" fill="#262626" stroke="#262626" textLength="4.33" lengthAdjust="spacingAndGlyphs">5</text>
<line x1="374.80" y1="398.95" x2="377.60" y2="398.95" stroke="#1a1a1a" stroke-width="0.9"/>
<text x="371.60" y="401.80" font-size="8.96" text-anchor="end" fill="#262626" stroke="#262626" textLength="8.67" lengthAdjust="spacingAndGlyphs">10</text>
<line x1="374.80" y1="388.72" x2="377.60" y2="388.72" stroke="#1a1a1a" stroke-width="0.9"/>
<text x="371.60" y="391.57" font-size="8.96" text-anchor="end" fill="#262626" stroke="#262626" textLength="8.67" lengthAdjust="spacingAndGlyphs">15</text>
<line x1="374.80" y1="378.50" x2="377.60" y2="378.50" stroke="#1a1a1a" stroke-width="0.9"/>
<text x="371.60" y="381.35" font-size="8.96" text-anchor="end" fill="#262626" stroke="#262626" textLength="8.67" lengthAdjust="spacingAndGlyphs">20</text>
<line x1="374.80" y1="368.27" x2="377.60" y2="368.27" stroke="#1a1a1a" stroke-width="0.9"/>
<text x="371.60" y="371.12" font-size="8.96" text-anchor="end" fill="#262626" stroke="#262626" textLength="8.67" lengthAdjust="spacingAndGlyphs">25</text>
<line x1="374.80" y1="358.05" x2="377.60" y2="358.05" stroke="#1a1a1a" stroke-width="0.9"/>
<text x="371.60" y="360.90" font-size="8.96" text-anchor="end" fill="#262626" stroke="#262626" textLength="8.67" lengthAdjust="spacingAndGlyphs">30</text>
<line x1="374.80" y1="347.82" x2="377.60" y2="347.82" stroke="#1a1a1a" stroke-width="0.9"/>
<text x="371.60" y="350.68" font-size="8.96" text-anchor="end" fill="#262626" stroke="#262626" textLength="8.67" lengthAdjust="spacingAndGlyphs">35</text>
<line x1="377.10" y1="419.40" x2="487.80" y2="419.40" stroke="#1a1a1a" stroke-width="0.9"/>
<line x1="377.60" y1="419.40" x2="377.60" y2="422.20" stroke="#1a1a1a" stroke-width="0.9"/>
<text x="377.60" y="432.40" font-size="8.96" text-anchor="middle" fill="#262626" stroke="#262626" textLength="4.33" lengthAdjust="spacingAndGlyphs">0</text>
<line x1="395.55" y1="419.40" x2="395.55" y2="422.20" stroke="#1a1a1a" stroke-width="0.9"/>
<text x="395.55" y="432.40" font-size="8.96" text-anchor="middle" fill="#262626" stroke="#262626" textLength="8.67" lengthAdjust="spacingAndGlyphs">50</text>
<line x1="413.50" y1="419.40" x2="413.50" y2="422.20" stroke="#1a1a1a" stroke-width="0.9"/>
<text x="413.50" y="432.40" font-size="8.96" text-anchor="middle" fill="#262626" stroke="#262626" textLength="13.00" lengthAdjust="spacingAndGlyphs">100</text>
<line x1="431.45" y1="419.40" x2="431.45" y2="422.20" stroke="#1a1a1a" stroke-width="0.9"/>
<text x="431.45" y="432.40" font-size="8.96" text-anchor="middle" fill="#262626" stroke="#262626" textLength="13.00" lengthAdjust="spacingAndGlyphs">150</text>
<line x1="449.40" y1="419.40" x2="449.40" y2="422.20" stroke="#1a1a1a" stroke-width="0.9"/>
<text x="449.40" y="432.40" font-size="8.96" text-anchor="middle" fill="#262626" stroke="#262626" textLength="13.00" lengthAdjust="spacingAndGlyphs">200</text>
<line x1="467.35" y1="419.40" x2="467.35" y2="422.20" stroke="#1a1a1a" stroke-width="0.9"/>
<text x="467.35" y="432.40" font-size="8.96" text-anchor="middle" fill="#262626" stroke="#262626" textLength="13.00" lengthAdjust="spacingAndGlyphs">250</text>
<line x1="485.30" y1="419.40" x2="485.30" y2="422.20" stroke="#1a1a1a" stroke-width="0.9"/>
<text x="485.30" y="432.40" font-size="8.96" text-anchor="middle" fill="#262626" stroke="#262626" textLength="13.00" lengthAdjust="spacingAndGlyphs">300</text>
<line x1="381.19" y1="419.40" x2="381.19" y2="421.20" stroke="#1a1a1a" stroke-width="0.6"/>
<line x1="384.78" y1="419.40" x2="384.78" y2="421.20" stroke="#1a1a1a" stroke-width="0.6"/>
<line x1="388.37" y1="419.40" x2="388.37" y2="421.20" stroke="#1a1a1a" stroke-width="0.6"/>
<line x1="391.96" y1="419.40" x2="391.96" y2="421.20" stroke="#1a1a1a" stroke-width="0.6"/>
<line x1="399.14" y1="419.40" x2="399.14" y2="421.20" stroke="#1a1a1a" stroke-width="0.6"/>
<line x1="402.73" y1="419.40" x2="402.73" y2="421.20" stroke="#1a1a1a" stroke-width="0.6"/>
<line x1="406.32" y1="419.40" x2="406.32" y2="421.20" stroke="#1a1a1a" stroke-width="0.6"/>
<line x1="409.91" y1="419.40" x2="409.91" y2="421.20" stroke="#1a1a1a" stroke-width="0.6"/>
<line x1="417.09" y1="419.40" x2="417.09" y2="421.20" stroke="#1a1a1a" stroke-width="0.6"/>
<line x1="420.68" y1="419.40" x2="420.68" y2="421.20" stroke="#1a1a1a" stroke-width="0.6"/>
<line x1="424.27" y1="419.40" x2="424.27" y2="421.20" stroke="#1a1a1a" stroke-width="0.6"/>
<line x1="427.86" y1="419.40" x2="427.86" y2="421.20" stroke="#1a1a1a" stroke-width="0.6"/>
<line x1="435.04" y1="419.40" x2="435.04" y2="421.20" stroke="#1a1a1a" stroke-width="0.6"/>
<line x1="438.63" y1="419.40" x2="438.63" y2="421.20" stroke="#1a1a1a" stroke-width="0.6"/>
<line x1="442.22" y1="419.40" x2="442.22" y2="421.20" stroke="#1a1a1a" stroke-width="0.6"/>
<line x1="445.81" y1="419.40" x2="445.81" y2="421.20" stroke="#1a1a1a" stroke-width="0.6"/>
<line x1="452.99" y1="419.40" x2="452.99" y2="421.20" stroke="#1a1a1a" stroke-width="0.6"/>
<line x1="456.58" y1="419.40" x2="456.58" y2="421.20" stroke="#1a1a1a" stroke-width="0.6"/>
<line x1="460.17" y1="419.40" x2="460.17" y2="421.20" stroke="#1a1a1a" stroke-width="0.6"/>
<line x1="463.76" y1="419.40" x2="463.76" y2="421.20" stroke="#1a1a1a" stroke-width="0.6"/>
<line x1="470.94" y1="419.40" x2="470.94" y2="421.20" stroke="#1a1a1a" stroke-width="0.6"/>
<line x1="474.53" y1="419.40" x2="474.53" y2="421.20" stroke="#1a1a1a" stroke-width="0.6"/>
<line x1="478.12" y1="419.40" x2="478.12" y2="421.20" stroke="#1a1a1a" stroke-width="0.6"/>
<line x1="481.71" y1="419.40" x2="481.71" y2="421.20" stroke="#1a1a1a" stroke-width="0.6"/>
<text x="407.40" y="330.60" font-size="9.74" text-anchor="start" fill="#262626" stroke="#262626" textLength="51.80" lengthAdjust="spacingAndGlyphs">Whole blood</text>
<text transform="translate(357.70,382.40) rotate(-90)" x="0" y="0" font-size="9.74" text-anchor="middle" fill="#262626" stroke="#262626" textLength="93.80" lengthAdjust="spacingAndGlyphs">Growth rate (% area / s)</text>
<text x="433.80" y="446.60" font-size="10.3" text-anchor="middle" fill="#262626" stroke="#262626" textLength="60.00" lengthAdjust="spacingAndGlyphs">Time (seconds)</text>
<path d="M378.20,414.29 L378.56,414.17 L378.92,414.05 L379.28,413.93 L379.64,413.81 L380.00,413.69 L380.35,413.57 L380.71,413.45 L381.07,413.33 L381.43,413.21 L381.79,413.09 L382.15,412.97 L382.51,412.85 L382.87,412.73 L383.23,412.61 L383.58,412.49 L383.94,412.37 L384.30,412.25 L384.66,412.13 L385.02,412.01 L385.38,411.89 L385.74,411.77 L386.10,411.65 L386.46,411.53 L386.82,411.41 L387.18,411.29 L387.53,411.17 L387.89,411.05 L388.25,410.93 L388.61,410.81 L388.97,410.56 L389.33,410.30 L389.69,410.04 L390.05,409.79 L390.41,409.53 L390.76,409.28 L391.12,409.02 L391.48,408.77 L391.84,408.51 L392.20,408.25 L392.56,408.00 L392.92,407.74 L393.28,407.49 L393.64,407.23 L394.00,406.98 L394.36,406.72 L394.71,406.47 L395.07,406.21 L395.43,405.95 L395.79,405.70 L396.15,405.44 L396.51,405.19 L396.87,404.93 L397.23,404.68 L397.59,404.38 L397.94,404.09 L398.30,403.79 L398.66,403.50 L399.02,403.21 L399.38,402.91 L399.74,402.62 L400.10,402.32 L400.46,402.03 L400.82,401.74 L401.18,401.44 L401.53,401.15 L401.89,400.85 L402.25,400.56 L402.61,400.27 L402.97,399.97 L403.33,375.84 L403.69,375.75 L404.05,375.67 L404.41,375.58 L404.77,375.49 L405.12,375.40 L405.48,375.32 L405.84,375.23 L406.20,375.14 L406.56,375.05 L406.92,374.97 L407.28,374.88 L407.64,374.79 L408.00,374.70 L408.36,374.61 L408.71,374.53 L409.07,374.44 L409.43,374.35 L409.79,374.26 L410.15,374.18 L410.51,374.09 L410.87,374.00 L411.23,373.93 L411.59,373.85 L411.95,373.78 L412.31,373.70 L412.66,373.63 L413.02,373.55 L413.38,373.48 L413.74,373.41 L414.10,373.33 L414.46,373.26 L414.82,373.18 L415.18,373.11 L415.54,373.03 L415.89,372.96 L416.25,372.89 L416.61,372.81 L416.97,372.74 L417.33,372.66 L417.69,372.59 L418.05,372.51 L418.41,372.44 L418.77,372.37 L419.13,372.29 L419.49,372.22 L419.84,372.14 L420.20,372.07 L420.56,371.99 L420.92,371.92 L421.28,371.84 L421.64,371.77 L422.00,371.70 L422.36,371.62 L422.72,371.55 L423.07,371.43 L423.43,371.31 L423.79,371.18 L424.15,371.06 L424.51,370.94 L424.87,370.82 L425.23,370.70 L425.59,370.58 L425.95,370.46 L426.31,370.34 L426.66,370.22 L427.02,370.10 L427.38,369.98 L427.74,369.86 L428.10,369.73 L428.46,369.61 L428.82,369.49 L429.18,369.37 L429.54,369.25 L429.90,369.13 L430.25,369.01 L430.61,368.89 L430.97,368.82 L431.33,368.76 L431.69,368.69 L432.05,368.63 L432.41,368.56 L432.77,368.49 L433.13,368.43 L433.49,368.36 L433.84,368.30 L434.20,368.23 L434.56,368.17 L434.92,368.10 L435.28,368.03 L435.64,367.97 L436.00,367.90 L436.36,367.84 L436.72,367.77 L437.08,367.71 L437.44,367.64 L437.79,367.57 L438.15,367.51 L438.51,367.44 L438.87,367.38 L439.23,367.31 L439.59,367.25 L439.95,367.18 L440.31,367.11 L440.67,367.05 L441.02,367.01 L441.38,366.96 L441.74,366.92 L442.10,366.88 L442.46,366.84 L442.82,366.80 L443.18,366.75 L443.54,366.71 L443.90,366.67 L444.26,366.63 L444.62,366.58 L444.97,366.54 L445.33,366.50 L445.69,366.46 L446.05,366.42 L446.41,366.37 L446.77,366.33 L447.13,366.29 L447.49,366.25 L447.85,366.21 L448.20,366.16 L448.56,366.12 L448.92,366.08 L449.28,366.04 L449.64,366.00 L450.00,365.95 L450.36,365.91 L450.72,365.87 L451.08,365.83 L451.44,365.78 L451.79,365.74 L452.15,365.70 L452.51,365.66 L452.87,365.62 L453.23,365.57 L453.59,365.53 L453.95,365.49 L454.31,365.45 L454.67,365.41 L455.03,365.36 L455.38,365.32 L455.74,365.28 L456.10,365.24 L456.46,365.20 L456.82,365.15 L457.18,365.11 L457.54,365.07 L457.90,365.03 L458.26,364.98 L458.62,364.94 L458.97,364.90 L459.33,364.86 L459.69,364.82 L460.05,364.77 L460.41,364.73 L460.77,364.69 L461.13,364.65 L461.49,364.61 L461.85,364.56 L462.21,364.52 L462.56,364.48 L462.92,364.44 L463.28,364.40 L463.64,364.35 L464.00,364.31 L464.36,364.27 L464.72,364.23 L465.08,364.19 L465.44,364.12 L465.80,364.05 L466.15,363.98 L466.51,363.92 L466.87,363.85 L467.23,363.78 L467.59,363.72 L467.95,363.65 L468.31,363.58 L468.67,363.52 L469.03,363.45 L469.39,363.38 L469.75,363.31 L470.10,363.25 L470.46,363.18 L470.82,363.11 L471.18,363.05 L471.54,362.98 L471.90,362.91 L472.26,362.85 L472.62,362.78 L472.98,362.71 L473.33,362.64 L473.69,362.58 L474.05,362.51 L474.41,362.44 L474.77,362.38 L475.13,362.31 L475.49,362.24 L475.85,362.18 L476.21,362.11 L476.57,362.04 L476.92,361.97 L477.28,361.91 L477.64,361.84 L478.00,361.77 L478.36,361.71 L478.72,361.64 L479.08,361.57 L479.44,361.51 L479.80,361.44 L480.16,361.37 L480.51,361.30 L480.87,361.24 L481.23,361.17 L481.59,361.10 L481.95,361.04 L482.31,360.97 L482.67,360.90 L483.03,360.84 L483.39,360.77 L483.75,360.70 L484.11,360.63 L484.46,360.57 L484.82,360.50 L485.18,360.43 L485.54,360.37 L485.90,360.30 L485.90,371.14 L485.54,371.27 L485.18,371.40 L484.82,371.53 L484.46,371.66 L484.11,371.79 L483.75,371.92 L483.39,372.05 L483.03,372.18 L482.67,372.31 L482.31,372.44 L481.95,372.57 L481.59,372.70 L481.23,372.83 L480.87,372.96 L480.51,373.09 L480.16,373.23 L479.80,373.36 L479.44,373.49 L479.08,373.62 L478.72,373.75 L478.36,373.88 L478.00,374.01 L477.64,374.14 L477.28,374.27 L476.92,374.40 L476.57,374.53 L476.21,374.66 L475.85,374.79 L475.49,374.92 L475.13,375.05 L474.77,375.18 L474.41,375.31 L474.05,375.44 L473.69,375.57 L473.33,375.70 L472.98,375.83 L472.62,375.96 L472.26,376.10 L471.90,376.23 L471.54,376.36 L471.18,376.49 L470.82,376.62 L470.46,376.75 L470.10,376.88 L469.75,377.01 L469.39,377.14 L469.03,377.27 L468.67,377.40 L468.31,377.53 L467.95,377.66 L467.59,377.79 L467.23,377.92 L466.87,378.05 L466.51,378.18 L466.15,378.31 L465.80,378.44 L465.44,378.57 L465.08,378.70 L464.72,378.74 L464.36,378.77 L464.00,378.81 L463.64,378.84 L463.28,378.87 L462.92,378.91 L462.56,378.94 L462.21,378.98 L461.85,379.01 L461.49,379.05 L461.13,379.08 L460.77,379.11 L460.41,379.15 L460.05,379.18 L459.69,379.22 L459.33,379.25 L458.97,379.28 L458.62,379.32 L458.26,379.35 L457.90,379.39 L457.54,379.42 L457.18,379.45 L456.82,379.49 L456.46,379.52 L456.10,379.56 L455.74,379.59 L455.38,379.62 L455.03,379.66 L454.67,379.69 L454.31,379.73 L453.95,379.76 L453.59,379.80 L453.23,379.83 L452.87,379.86 L452.51,379.90 L452.15,379.93 L451.79,379.97 L451.44,380.00 L451.08,380.03 L450.72,380.07 L450.36,380.10 L450.00,380.14 L449.64,380.20 L449.28,380.26 L448.92,380.32 L448.56,380.38 L448.20,380.44 L447.85,380.50 L447.49,380.56 L447.13,380.62 L446.77,380.68 L446.41,380.74 L446.05,380.80 L445.69,380.86 L445.33,380.92 L444.97,380.98 L444.62,381.04 L444.26,381.11 L443.90,381.17 L443.54,381.23 L443.18,381.29 L442.82,381.35 L442.46,381.41 L442.10,381.47 L441.74,381.53 L441.38,381.59 L441.02,381.65 L440.67,381.71 L440.31,381.77 L439.95,381.83 L439.59,381.89 L439.23,381.95 L438.87,382.01 L438.51,382.07 L438.15,382.14 L437.79,382.20 L437.44,382.26 L437.08,382.32 L436.72,382.38 L436.36,382.44 L436.00,382.50 L435.64,382.56 L435.28,382.62 L434.92,382.68 L434.56,382.74 L434.20,382.80 L433.84,382.86 L433.49,382.92 L433.13,382.98 L432.77,383.04 L432.41,383.11 L432.05,383.17 L431.69,383.23 L431.33,383.29 L430.97,383.35 L430.61,383.41 L430.25,383.52 L429.90,383.63 L429.54,383.74 L429.18,383.85 L428.82,383.97 L428.46,384.08 L428.10,384.19 L427.74,384.30 L427.38,384.41 L427.02,384.52 L426.66,384.63 L426.31,384.75 L425.95,384.86 L425.59,384.97 L425.23,385.08 L424.87,385.19 L424.51,385.30 L424.15,385.42 L423.79,385.53 L423.43,385.64 L423.07,385.75 L422.72,385.86 L422.36,385.96 L422.00,386.06 L421.64,386.16 L421.28,386.26 L420.92,386.36 L420.56,386.46 L420.20,386.56 L419.84,386.66 L419.49,386.75 L419.13,386.85 L418.77,386.95 L418.41,387.05 L418.05,387.15 L417.69,387.25 L417.33,387.35 L416.97,387.45 L416.61,387.55 L416.25,387.65 L415.89,387.75 L415.54,387.85 L415.18,387.94 L414.82,388.04 L414.46,388.14 L414.10,388.24 L413.74,388.34 L413.38,388.44 L413.02,388.54 L412.66,388.64 L412.31,388.74 L411.95,388.84 L411.59,388.94 L411.23,389.03 L410.87,389.13 L410.51,389.25 L410.15,389.37 L409.79,389.48 L409.43,389.60 L409.07,389.72 L408.71,389.84 L408.36,389.95 L408.00,390.07 L407.64,390.19 L407.28,390.30 L406.92,390.42 L406.56,390.54 L406.20,390.65 L405.84,390.77 L405.48,390.89 L405.12,391.00 L404.77,391.12 L404.41,391.24 L404.05,391.35 L403.69,391.47 L403.33,391.59 L402.97,406.72 L402.61,407.00 L402.25,407.28 L401.89,407.56 L401.53,407.85 L401.18,408.13 L400.82,408.41 L400.46,408.69 L400.10,408.97 L399.74,409.25 L399.38,409.53 L399.02,409.81 L398.66,410.10 L398.30,410.38 L397.94,410.66 L397.59,410.94 L397.23,411.22 L396.87,411.46 L396.51,411.70 L396.15,411.94 L395.79,412.17 L395.43,412.41 L395.07,412.65 L394.71,412.89 L394.36,413.13 L394.00,413.37 L393.64,413.61 L393.28,413.84 L392.92,414.08 L392.56,414.32 L392.20,414.56 L391.84,414.80 L391.48,415.04 L391.12,415.28 L390.76,415.51 L390.41,415.75 L390.05,415.99 L389.69,416.23 L389.33,416.47 L388.97,416.71 L388.61,416.95 L388.25,417.03 L387.89,417.12 L387.53,417.20 L387.18,417.28 L386.82,417.37 L386.46,417.45 L386.10,417.54 L385.74,417.62 L385.38,417.71 L385.02,417.79 L384.66,417.88 L384.30,417.96 L383.94,418.05 L383.58,418.13 L383.23,418.22 L382.87,418.30 L382.51,418.38 L382.15,418.47 L381.79,418.55 L381.43,418.64 L381.07,418.72 L380.71,418.81 L380.35,418.89 L380.00,418.98 L379.64,419.06 L379.28,419.15 L378.92,419.23 L378.56,419.32 L378.20,419.40 Z" fill="#a2b5d3" fill-opacity="1.0" stroke="none"/>
<line x1="403.69" y1="375.75" x2="403.69" y2="391.47" stroke="#5a78a8" stroke-width="0.7" stroke-opacity="0.9"/>
<line x1="406.38" y1="375.10" x2="406.38" y2="390.59" stroke="#5a78a8" stroke-width="0.7" stroke-opacity="0.9"/>
<line x1="409.07" y1="374.44" x2="409.07" y2="389.72" stroke="#5a78a8" stroke-width="0.7" stroke-opacity="0.9"/>
<line x1="411.77" y1="373.82" x2="411.77" y2="388.89" stroke="#5a78a8" stroke-width="0.7" stroke-opacity="0.9"/>
<line x1="414.46" y1="373.26" x2="414.46" y2="388.14" stroke="#5a78a8" stroke-width="0.7" stroke-opacity="0.9"/>
<line x1="417.15" y1="372.70" x2="417.15" y2="387.40" stroke="#5a78a8" stroke-width="0.7" stroke-opacity="0.9"/>
<line x1="419.84" y1="372.14" x2="419.84" y2="386.66" stroke="#5a78a8" stroke-width="0.7" stroke-opacity="0.9"/>
<line x1="422.54" y1="371.58" x2="422.54" y2="385.91" stroke="#5a78a8" stroke-width="0.7" stroke-opacity="0.9"/>
<line x1="425.23" y1="370.70" x2="425.23" y2="385.08" stroke="#5a78a8" stroke-width="0.7" stroke-opacity="0.9"/>
<line x1="427.92" y1="369.79" x2="427.92" y2="384.24" stroke="#5a78a8" stroke-width="0.7" stroke-opacity="0.9"/>
<line x1="430.61" y1="368.89" x2="430.61" y2="383.41" stroke="#5a78a8" stroke-width="0.7" stroke-opacity="0.9"/>
<line x1="433.31" y1="368.40" x2="433.31" y2="382.95" stroke="#5a78a8" stroke-width="0.7" stroke-opacity="0.9"/>
<line x1="436.00" y1="367.90" x2="436.00" y2="382.50" stroke="#5a78a8" stroke-width="0.7" stroke-opacity="0.9"/>
<line x1="438.69" y1="367.41" x2="438.69" y2="382.04" stroke="#5a78a8" stroke-width="0.7" stroke-opacity="0.9"/>
<line x1="441.38" y1="366.96" x2="441.38" y2="381.59" stroke="#5a78a8" stroke-width="0.7" stroke-opacity="0.9"/>
<line x1="444.08" y1="366.65" x2="444.08" y2="381.14" stroke="#5a78a8" stroke-width="0.7" stroke-opacity="0.9"/>
<line x1="446.77" y1="366.33" x2="446.77" y2="380.68" stroke="#5a78a8" stroke-width="0.7" stroke-opacity="0.9"/>
<line x1="449.46" y1="366.02" x2="449.46" y2="380.23" stroke="#5a78a8" stroke-width="0.7" stroke-opacity="0.9"/>
<line x1="452.15" y1="365.70" x2="452.15" y2="379.93" stroke="#5a78a8" stroke-width="0.7" stroke-opacity="0.9"/>
<line x1="454.85" y1="365.38" x2="454.85" y2="379.68" stroke="#5a78a8" stroke-width="0.7" stroke-opacity="0.9"/>
<line x1="457.54" y1="365.07" x2="457.54" y2="379.42" stroke="#5a78a8" stroke-width="0.7" stroke-opacity="0.9"/>
<line x1="460.23" y1="364.75" x2="460.23" y2="379.16" stroke="#5a78a8" stroke-width="0.7" stroke-opacity="0.9"/>
<line x1="462.92" y1="364.44" x2="462.92" y2="378.91" stroke="#5a78a8" stroke-width="0.7" stroke-opacity="0.9"/>
<line x1="465.62" y1="364.08" x2="465.62" y2="378.51" stroke="#5a78a8" stroke-width="0.7" stroke-opacity="0.9"/>
<line x1="468.31" y1="363.58" x2="468.31" y2="377.53" stroke="#5a78a8" stroke-width="0.7" stroke-opacity="0.9"/>
<line x1="471.00" y1="363.08" x2="471.00" y2="376.55" stroke="#5a78a8" stroke-width="0.7" stroke-opacity="0.9"/>
<line x1="473.69" y1="362.58" x2="473.69" y2="375.57" stroke="#5a78a8" stroke-width="0.7" stroke-opacity="0.9"/>
<line x1="476.39" y1="362.07" x2="476.39" y2="374.60" stroke="#5a78a8" stroke-width="0.7" stroke-opacity="0.9"/>
<line x1="479.08" y1="361.57" x2="479.08" y2="373.62" stroke="#5a78a8" stroke-width="0.7" stroke-opacity="0.9"/>
<line x1="481.77" y1="361.07" x2="481.77" y2="372.64" stroke="#5a78a8" stroke-width="0.7" stroke-opacity="0.9"/>
<line x1="484.46" y1="360.57" x2="484.46" y2="371.66" stroke="#5a78a8" stroke-width="0.7" stroke-opacity="0.9"/>
<line x1="405.04" y1="375.43" x2="405.04" y2="391.03" stroke="#7590bb" stroke-width="0.5" stroke-opacity="0.8"/>
<line x1="407.73" y1="374.77" x2="407.73" y2="390.16" stroke="#7590bb" stroke-width="0.5" stroke-opacity="0.8"/>
<line x1="410.42" y1="374.11" x2="410.42" y2="389.28" stroke="#7590bb" stroke-width="0.5" stroke-opacity="0.8"/>
<line x1="413.11" y1="373.54" x2="413.11" y2="388.51" stroke="#7590bb" stroke-width="0.5" stroke-opacity="0.8"/>
<line x1="415.81" y1="372.98" x2="415.81" y2="387.77" stroke="#7590bb" stroke-width="0.5" stroke-opacity="0.8"/>
<line x1="418.50" y1="372.42" x2="418.50" y2="387.03" stroke="#7590bb" stroke-width="0.5" stroke-opacity="0.8"/>
<line x1="421.19" y1="371.86" x2="421.19" y2="386.28" stroke="#7590bb" stroke-width="0.5" stroke-opacity="0.8"/>
<line x1="423.88" y1="371.15" x2="423.88" y2="385.50" stroke="#7590bb" stroke-width="0.5" stroke-opacity="0.8"/>
<line x1="426.58" y1="370.25" x2="426.58" y2="384.66" stroke="#7590bb" stroke-width="0.5" stroke-opacity="0.8"/>
<line x1="429.27" y1="369.34" x2="429.27" y2="383.83" stroke="#7590bb" stroke-width="0.5" stroke-opacity="0.8"/>
<line x1="431.96" y1="368.64" x2="431.96" y2="383.18" stroke="#7590bb" stroke-width="0.5" stroke-opacity="0.8"/>
<line x1="434.65" y1="368.15" x2="434.65" y2="382.73" stroke="#7590bb" stroke-width="0.5" stroke-opacity="0.8"/>
<line x1="437.35" y1="367.66" x2="437.35" y2="382.27" stroke="#7590bb" stroke-width="0.5" stroke-opacity="0.8"/>
<line x1="440.04" y1="367.16" x2="440.04" y2="381.82" stroke="#7590bb" stroke-width="0.5" stroke-opacity="0.8"/>
<line x1="442.73" y1="366.81" x2="442.73" y2="381.36" stroke="#7590bb" stroke-width="0.5" stroke-opacity="0.8"/>
<line x1="445.42" y1="366.49" x2="445.42" y2="380.91" stroke="#7590bb" stroke-width="0.5" stroke-opacity="0.8"/>
<line x1="448.12" y1="366.17" x2="448.12" y2="380.45" stroke="#7590bb" stroke-width="0.5" stroke-opacity="0.8"/>
<line x1="450.81" y1="365.86" x2="450.81" y2="380.06" stroke="#7590bb" stroke-width="0.5" stroke-opacity="0.8"/>
<line x1="453.50" y1="365.54" x2="453.50" y2="379.80" stroke="#7590bb" stroke-width="0.5" stroke-opacity="0.8"/>
<line x1="456.19" y1="365.23" x2="456.19" y2="379.55" stroke="#7590bb" stroke-width="0.5" stroke-opacity="0.8"/>
<line x1="458.89" y1="364.91" x2="458.89" y2="379.29" stroke="#7590bb" stroke-width="0.5" stroke-opacity="0.8"/>
<line x1="461.58" y1="364.60" x2="461.58" y2="379.04" stroke="#7590bb" stroke-width="0.5" stroke-opacity="0.8"/>
<line x1="464.27" y1="364.28" x2="464.27" y2="378.78" stroke="#7590bb" stroke-width="0.5" stroke-opacity="0.8"/>
<line x1="466.96" y1="363.83" x2="466.96" y2="378.02" stroke="#7590bb" stroke-width="0.5" stroke-opacity="0.8"/>
<line x1="469.66" y1="363.33" x2="469.66" y2="377.04" stroke="#7590bb" stroke-width="0.5" stroke-opacity="0.8"/>
<line x1="472.35" y1="362.83" x2="472.35" y2="376.06" stroke="#7590bb" stroke-width="0.5" stroke-opacity="0.8"/>
<line x1="475.04" y1="362.33" x2="475.04" y2="375.08" stroke="#7590bb" stroke-width="0.5" stroke-opacity="0.8"/>
<line x1="477.73" y1="361.82" x2="477.73" y2="374.11" stroke="#7590bb" stroke-width="0.5" stroke-opacity="0.8"/>
<line x1="480.43" y1="361.32" x2="480.43" y2="373.13" stroke="#7590bb" stroke-width="0.5" stroke-opacity="0.8"/>
<line x1="483.12" y1="360.82" x2="483.12" y2="372.15" stroke="#7590bb" stroke-width="0.5" stroke-opacity="0.8"/>
<line x1="485.81" y1="360.32" x2="485.81" y2="371.17" stroke="#7590bb" stroke-width="0.5" stroke-opacity="0.8"/>
<path d="M378.20,417.35 L378.56,417.24 L378.92,417.12 L379.28,417.00 L379.64,416.88 L380.00,416.76 L380.35,416.64 L380.71,416.52 L381.07,416.40 L381.43,416.28 L381.79,416.16 L382.15,416.04 L382.51,415.92 L382.87,415.80 L383.23,415.68 L383.58,415.56 L383.94,415.44 L384.30,415.32 L384.66,415.20 L385.02,415.08 L385.38,414.96 L385.74,414.84 L386.10,414.72 L386.46,414.60 L386.82,414.48 L387.18,414.36 L387.53,414.24 L387.89,414.12 L388.25,414.00 L388.61,413.88 L388.97,413.63 L389.33,413.38 L389.69,413.14 L390.05,412.89 L390.41,412.64 L390.76,412.40 L391.12,412.15 L391.48,411.90 L391.84,411.65 L392.20,411.41 L392.56,411.16 L392.92,410.91 L393.28,410.67 L393.64,410.42 L394.00,410.17 L394.36,409.92 L394.71,409.68 L395.07,409.43 L395.43,409.18 L395.79,408.94 L396.15,408.69 L396.51,408.44 L396.87,408.20 L397.23,407.95 L397.59,407.66 L397.94,407.38 L398.30,407.09 L398.66,406.81 L399.02,406.52 L399.38,406.24 L399.74,405.95 L400.10,405.67 L400.46,405.38 L400.82,405.10 L401.18,404.81 L401.53,404.53 L401.89,404.24 L402.25,403.96 L402.61,403.67 L402.97,403.39 L403.33,384.02 L403.69,383.92 L404.05,383.83 L404.41,383.73 L404.77,383.63 L405.12,383.53 L405.48,383.44 L405.84,383.34 L406.20,383.24 L406.56,383.15 L406.92,383.05 L407.28,382.95 L407.64,382.85 L408.00,382.76 L408.36,382.66 L408.71,382.56 L409.07,382.46 L409.43,382.37 L409.79,382.27 L410.15,382.17 L410.51,382.07 L410.87,381.98 L411.23,381.88 L411.59,381.79 L411.95,381.70 L412.31,381.60 L412.66,381.51 L413.02,381.42 L413.38,381.33 L413.74,381.23 L414.10,381.14 L414.46,381.05 L414.82,380.95 L415.18,380.86 L415.54,380.77 L415.89,380.68 L416.25,380.58 L416.61,380.49 L416.97,380.40 L417.33,380.30 L417.69,380.21 L418.05,380.12 L418.41,380.02 L418.77,379.93 L419.13,379.84 L419.49,379.75 L419.84,379.65 L420.20,379.56 L420.56,379.47 L420.92,379.37 L421.28,379.28 L421.64,379.19 L422.00,379.09 L422.36,379.00 L422.72,378.91 L423.07,378.83 L423.43,378.75 L423.79,378.67 L424.15,378.59 L424.51,378.52 L424.87,378.44 L425.23,378.36 L425.59,378.28 L425.95,378.20 L426.31,378.12 L426.66,378.04 L427.02,377.97 L427.38,377.89 L427.74,377.81 L428.10,377.73 L428.46,377.65 L428.82,377.57 L429.18,377.49 L429.54,377.41 L429.90,377.34 L430.25,377.26 L430.61,377.18 L430.97,377.10 L431.33,377.02 L431.69,376.94 L432.05,376.86 L432.41,376.77 L432.77,376.68 L433.13,376.59 L433.49,376.50 L433.84,376.41 L434.20,376.32 L434.56,376.23 L434.92,376.14 L435.28,376.05 L435.64,375.96 L436.00,375.86 L436.36,375.77 L436.72,375.68 L437.08,375.59 L437.44,375.50 L437.79,375.41 L438.15,375.32 L438.51,375.23 L438.87,375.14 L439.23,375.05 L439.59,374.96 L439.95,374.86 L440.31,374.77 L440.67,374.68 L441.02,374.59 L441.38,374.50 L441.74,374.41 L442.10,374.32 L442.46,374.23 L442.82,374.14 L443.18,374.05 L443.54,373.96 L443.90,373.86 L444.26,373.77 L444.62,373.68 L444.97,373.59 L445.33,373.53 L445.69,373.48 L446.05,373.42 L446.41,373.36 L446.77,373.30 L447.13,373.25 L447.49,373.19 L447.85,373.13 L448.20,373.07 L448.56,373.02 L448.92,372.96 L449.28,372.90 L449.64,372.84 L450.00,372.79 L450.36,372.73 L450.72,372.67 L451.08,372.61 L451.44,372.56 L451.79,372.50 L452.15,372.44 L452.51,372.38 L452.87,372.33 L453.23,372.27 L453.59,372.21 L453.95,372.15 L454.31,372.10 L454.67,372.04 L455.03,371.98 L455.38,371.92 L455.74,371.87 L456.10,371.81 L456.46,371.75 L456.82,371.69 L457.18,371.64 L457.54,371.58 L457.90,371.52 L458.26,371.46 L458.62,371.41 L458.97,371.35 L459.33,371.29 L459.69,371.23 L460.05,371.18 L460.41,371.12 L460.77,371.06 L461.13,371.00 L461.49,370.95 L461.85,370.89 L462.21,370.83 L462.56,370.77 L462.92,370.72 L463.28,370.66 L463.64,370.60 L464.00,370.54 L464.36,370.49 L464.72,370.43 L465.08,370.37 L465.44,370.31 L465.80,370.26 L466.15,370.20 L466.51,370.14 L466.87,370.08 L467.23,370.03 L467.59,369.97 L467.95,369.91 L468.31,369.75 L468.67,369.58 L469.03,369.42 L469.39,369.26 L469.75,369.09 L470.10,368.93 L470.46,368.77 L470.82,368.60 L471.18,368.44 L471.54,368.27 L471.90,368.11 L472.26,367.95 L472.62,367.78 L472.98,367.62 L473.33,367.46 L473.69,367.29 L474.05,367.13 L474.41,366.97 L474.77,366.80 L475.13,366.64 L475.49,366.48 L475.85,366.31 L476.21,366.15 L476.57,365.98 L476.92,365.82 L477.28,365.66 L477.64,365.49 L478.00,365.33 L478.36,365.17 L478.72,365.00 L479.08,364.84 L479.44,364.68 L479.80,364.51 L480.16,364.35 L480.51,364.19 L480.87,364.02 L481.23,363.86 L481.59,363.69 L481.95,363.53 L482.31,363.37 L482.67,363.20 L483.03,363.04 L483.39,362.88 L483.75,362.71 L484.11,362.55 L484.46,362.39 L484.82,362.22 L485.18,362.06 L485.54,361.89 L485.90,361.73" fill="none" stroke="#1b2538" stroke-width="1.6" stroke-linejoin="round" stroke-linecap="round" stroke-opacity="1.0"/>
<path d="M378.20,406.67 L378.92,405.80 L379.64,404.06 L380.35,402.32 L381.07,401.12 L381.79,400.46 L382.51,400.33 L383.23,400.20 L383.94,400.07 L384.66,399.94 L385.38,399.81 L386.10,399.68 L386.82,399.55 L387.53,399.39 L388.25,399.17 L388.97,398.89 L389.69,398.57 L390.41,398.26 L391.12,397.94 L391.84,397.63 L392.56,397.31 L393.28,397.00 L394.00,396.68 L394.71,396.37 L395.43,396.06 L396.15,395.74 L396.87,395.42 L397.59,395.08 L398.30,394.72 L399.02,394.35 L399.74,393.99 L400.46,393.62 L401.18,393.26 L401.89,392.89 L402.61,392.52 L403.33,392.16 L404.05,391.76 L404.77,391.33 L405.48,390.87 L406.20,390.41 L406.92,389.95 L407.64,389.49 L408.36,389.03 L409.07,388.57 L409.79,387.97 L410.51,387.22 L411.23,386.32 L411.95,385.43 L412.66,384.53 L413.38,383.64 L414.10,382.74 L414.82,381.85 L415.54,381.11 L416.25,380.52 L416.97,380.10 L417.69,379.67 L418.41,379.24 L419.13,378.81 L419.84,378.38 L420.56,377.95 L421.28,377.52 L422.00,377.09 L422.72,376.72 L423.43,376.42 L424.15,376.19 L424.87,375.95 L425.59,375.71 L426.31,375.48 L427.02,375.24 L427.74,375.00 L428.46,374.77 L429.18,374.53 L429.90,374.30 L430.61,374.07 L431.33,373.84 L432.05,373.61 L432.77,373.39 L433.49,373.16 L434.20,372.93 L434.92,372.71 L435.64,372.50 L436.36,372.32 L437.08,372.18 L437.79,372.05 L438.51,371.92 L439.23,371.80 L439.95,371.67 L440.67,371.55 L441.38,371.42 L442.10,371.30 L442.82,371.17 L443.54,371.04 L444.26,370.92 L444.97,370.79 L445.69,370.67 L446.41,370.54 L447.13,370.41 L447.85,370.29 L448.56,370.16 L449.28,370.04 L450.00,369.91 L450.72,369.77 L451.44,369.64 L452.15,369.50 L452.87,369.37 L453.59,369.23 L454.31,369.09 L455.03,368.96 L455.74,368.82 L456.46,368.68 L457.18,368.55 L457.90,368.41 L458.62,368.27 L459.33,368.14 L460.05,368.00 L460.77,367.87 L461.49,367.73 L462.21,367.59 L462.92,367.46 L463.64,367.32 L464.36,367.18 L465.08,367.04 L465.80,366.88 L466.51,366.70 L467.23,366.53 L467.95,366.36 L468.67,366.19 L469.39,366.01 L470.10,365.84 L470.82,365.67 L471.54,365.50 L472.26,365.33 L472.98,365.15 L473.69,364.98 L474.41,364.81 L475.13,364.64 L475.85,364.46 L476.57,364.29 L477.28,364.12 L478.00,363.95 L478.72,363.71 L479.44,363.41 L480.16,363.04 L480.87,362.67 L481.59,362.30 L482.31,361.94 L483.03,361.57 L483.75,361.20 L484.46,360.83 L485.18,360.46 L485.90,360.28 L485.90,364.08 L485.18,364.39 L484.46,365.00 L483.75,365.62 L483.03,366.23 L482.31,366.84 L481.59,367.46 L480.87,368.07 L480.16,368.68 L479.44,369.30 L478.72,369.80 L478.00,370.19 L477.28,370.47 L476.57,370.75 L475.85,371.03 L475.13,371.31 L474.41,371.59 L473.69,371.87 L472.98,372.15 L472.26,372.43 L471.54,372.71 L470.82,372.99 L470.10,373.27 L469.39,373.55 L468.67,373.83 L467.95,374.11 L467.23,374.39 L466.51,374.67 L465.80,374.95 L465.08,375.17 L464.36,375.34 L463.64,375.46 L462.92,375.58 L462.21,375.70 L461.49,375.81 L460.77,375.93 L460.05,376.05 L459.33,376.16 L458.62,376.28 L457.90,376.40 L457.18,376.51 L456.46,376.63 L455.74,376.75 L455.03,376.86 L454.31,376.98 L453.59,377.10 L452.87,377.21 L452.15,377.33 L451.44,377.45 L450.72,377.57 L450.00,377.70 L449.28,377.85 L448.56,378.02 L447.85,378.19 L447.13,378.35 L446.41,378.52 L445.69,378.69 L444.97,378.86 L444.26,379.02 L443.54,379.19 L442.82,379.36 L442.10,379.53 L441.38,379.70 L440.67,379.86 L439.95,380.03 L439.23,380.20 L438.51,380.37 L437.79,380.53 L437.08,380.70 L436.36,380.88 L435.64,381.08 L434.92,381.29 L434.20,381.52 L433.49,381.75 L432.77,381.98 L432.05,382.20 L431.33,382.43 L430.61,382.66 L429.90,382.89 L429.18,383.13 L428.46,383.39 L427.74,383.64 L427.02,383.90 L426.31,384.16 L425.59,384.42 L424.87,384.68 L424.15,384.94 L423.43,385.19 L422.72,385.57 L422.00,386.07 L421.28,386.68 L420.56,387.29 L419.84,387.91 L419.13,388.52 L418.41,389.13 L417.69,389.75 L416.97,390.36 L416.25,390.97 L415.54,391.64 L414.82,392.35 L414.10,393.12 L413.38,393.89 L412.66,394.66 L411.95,395.42 L411.23,396.19 L410.51,396.96 L409.79,397.60 L409.07,398.13 L408.36,398.54 L407.64,398.95 L406.92,399.36 L406.20,399.77 L405.48,400.18 L404.77,400.59 L404.05,400.99 L403.33,401.38 L402.61,401.77 L401.89,402.16 L401.18,402.54 L400.46,402.93 L399.74,403.32 L399.02,403.71 L398.30,404.09 L397.59,404.46 L396.87,404.80 L396.15,405.10 L395.43,405.38 L394.71,405.67 L394.00,405.95 L393.28,406.23 L392.56,406.52 L391.84,406.80 L391.12,407.08 L390.41,407.37 L389.69,407.65 L388.97,407.93 L388.25,408.21 L387.53,408.48 L386.82,408.74 L386.10,409.00 L385.38,409.26 L384.66,409.52 L383.94,409.78 L383.23,410.04 L382.51,410.29 L381.79,410.55 L381.07,411.27 L380.35,412.45 L379.64,414.08 L378.92,415.72 L378.20,416.54 Z" fill="#d06a79" fill-opacity="0.85" stroke="none"/>
<line x1="378.92" y1="405.80" x2="378.92" y2="415.72" stroke="#b8394d" stroke-width="0.35" stroke-opacity="0.6"/>
<line x1="380.35" y1="402.32" x2="380.35" y2="412.45" stroke="#b8394d" stroke-width="0.35" stroke-opacity="0.6"/>
<line x1="381.79" y1="400.46" x2="381.79" y2="410.55" stroke="#b8394d" stroke-width="0.35" stroke-opacity="0.6"/>
<line x1="383.23" y1="400.20" x2="383.23" y2="410.04" stroke="#b8394d" stroke-width="0.35" stroke-opacity="0.6"/>
<line x1="384.66" y1="399.94" x2="384.66" y2="409.52" stroke="#b8394d" stroke-width="0.35" stroke-opacity="0.6"/>
<line x1="386.10" y1="399.68" x2="386.10" y2="409.00" stroke="#b8394d" stroke-width="0.35" stroke-opacity="0.6"/>
<line x1="387.53" y1="399.42" x2="387.53" y2="408.49" stroke="#b8394d" stroke-width="0.35" stroke-opacity="0.6"/>
<line x1="388.97" y1="398.89" x2="388.97" y2="407.93" stroke="#b8394d" stroke-width="0.35" stroke-opacity="0.6"/>
<line x1="390.41" y1="398.26" x2="390.41" y2="407.37" stroke="#b8394d" stroke-width="0.35" stroke-opacity="0.6"/>
<line x1="391.84" y1="397.63" x2="391.84" y2="406.80" stroke="#b8394d" stroke-width="0.35" stroke-opacity="0.6"/>
<line x1="393.28" y1="397.00" x2="393.28" y2="406.23" stroke="#b8394d" stroke-width="0.35" stroke-opacity="0.6"/>
<line x1="394.71" y1="396.37" x2="394.71" y2="405.67" stroke="#b8394d" stroke-width="0.35" stroke-opacity="0.6"/>
<line x1="396.15" y1="395.74" x2="396.15" y2="405.10" stroke="#b8394d" stroke-width="0.35" stroke-opacity="0.6"/>
<line x1="397.59" y1="395.09" x2="397.59" y2="404.48" stroke="#b8394d" stroke-width="0.35" stroke-opacity="0.6"/>
<line x1="399.02" y1="394.35" x2="399.02" y2="403.71" stroke="#b8394d" stroke-width="0.35" stroke-opacity="0.6"/>
<line x1="400.46" y1="393.62" x2="400.46" y2="402.93" stroke="#b8394d" stroke-width="0.35" stroke-opacity="0.6"/>
<line x1="401.89" y1="392.89" x2="401.89" y2="402.16" stroke="#b8394d" stroke-width="0.35" stroke-opacity="0.6"/>
<line x1="403.33" y1="392.16" x2="403.33" y2="401.38" stroke="#b8394d" stroke-width="0.35" stroke-opacity="0.6"/>
<line x1="404.77" y1="391.33" x2="404.77" y2="400.59" stroke="#b8394d" stroke-width="0.35" stroke-opacity="0.6"/>
<line x1="406.20" y1="390.41" x2="406.20" y2="399.77" stroke="#b8394d" stroke-width="0.35" stroke-opacity="0.6"/>
<line x1="407.64" y1="389.49" x2="407.64" y2="398.95" stroke="#b8394d" stroke-width="0.35" stroke-opacity="0.6"/>
<line x1="409.07" y1="388.57" x2="409.07" y2="398.13" stroke="#b8394d" stroke-width="0.35" stroke-opacity="0.6"/>
<line x1="410.51" y1="387.22" x2="410.51" y2="396.96" stroke="#b8394d" stroke-width="0.35" stroke-opacity="0.6"/>
<line x1="411.95" y1="385.43" x2="411.95" y2="395.42" stroke="#b8394d" stroke-width="0.35" stroke-opacity="0.6"/>
<line x1="413.38" y1="383.64" x2="413.38" y2="393.89" stroke="#b8394d" stroke-width="0.35" stroke-opacity="0.6"/>
<line x1="414.82" y1="381.85" x2="414.82" y2="392.35" stroke="#b8394d" stroke-width="0.35" stroke-opacity="0.6"/>
<line x1="416.25" y1="380.52" x2="416.25" y2="390.97" stroke="#b8394d" stroke-width="0.35" stroke-opacity="0.6"/>
<line x1="417.69" y1="379.67" x2="417.69" y2="389.75" stroke="#b8394d" stroke-width="0.35" stroke-opacity="0.6"/>
<line x1="419.13" y1="378.81" x2="419.13" y2="388.52" stroke="#b8394d" stroke-width="0.35" stroke-opacity="0.6"/>
<line x1="420.56" y1="377.95" x2="420.56" y2="387.29" stroke="#b8394d" stroke-width="0.35" stroke-opacity="0.6"/>
<line x1="422.00" y1="377.09" x2="422.00" y2="386.07" stroke="#b8394d" stroke-width="0.35" stroke-opacity="0.6"/>
<line x1="423.43" y1="376.42" x2="423.43" y2="385.19" stroke="#b8394d" stroke-width="0.35" stroke-opacity="0.6"/>
<line x1="424.87" y1="375.95" x2="424.87" y2="384.68" stroke="#b8394d" stroke-width="0.35" stroke-opacity="0.6"/>
<line x1="426.31" y1="375.48" x2="426.31" y2="384.16" stroke="#b8394d" stroke-width="0.35" stroke-opacity="0.6"/>
<line x1="427.74" y1="375.00" x2="427.74" y2="383.64" stroke="#b8394d" stroke-width="0.35" stroke-opacity="0.6"/>
<line x1="429.18" y1="374.53" x2="429.18" y2="383.13" stroke="#b8394d" stroke-width="0.35" stroke-opacity="0.6"/>
<line x1="430.61" y1="374.07" x2="430.61" y2="382.66" stroke="#b8394d" stroke-width="0.35" stroke-opacity="0.6"/>
<line x1="432.05" y1="373.61" x2="432.05" y2="382.20" stroke="#b8394d" stroke-width="0.35" stroke-opacity="0.6"/>
<line x1="433.49" y1="373.16" x2="433.49" y2="381.75" stroke="#b8394d" stroke-width="0.35" stroke-opacity="0.6"/>
<line x1="434.92" y1="372.71" x2="434.92" y2="381.29" stroke="#b8394d" stroke-width="0.35" stroke-opacity="0.6"/>
<line x1="436.36" y1="372.30" x2="436.36" y2="380.87" stroke="#b8394d" stroke-width="0.35" stroke-opacity="0.6"/>
<line x1="437.79" y1="372.05" x2="437.79" y2="380.53" stroke="#b8394d" stroke-width="0.35" stroke-opacity="0.6"/>
<line x1="439.23" y1="371.80" x2="439.23" y2="380.20" stroke="#b8394d" stroke-width="0.35" stroke-opacity="0.6"/>
<line x1="440.67" y1="371.55" x2="440.67" y2="379.86" stroke="#b8394d" stroke-width="0.35" stroke-opacity="0.6"/>
<line x1="442.10" y1="371.30" x2="442.10" y2="379.53" stroke="#b8394d" stroke-width="0.35" stroke-opacity="0.6"/>
<line x1="443.54" y1="371.04" x2="443.54" y2="379.19" stroke="#b8394d" stroke-width="0.35" stroke-opacity="0.6"/>
<line x1="444.97" y1="370.79" x2="444.97" y2="378.86" stroke="#b8394d" stroke-width="0.35" stroke-opacity="0.6"/>
<line x1="446.41" y1="370.54" x2="446.41" y2="378.52" stroke="#b8394d" stroke-width="0.35" stroke-opacity="0.6"/>
<line x1="447.85" y1="370.29" x2="447.85" y2="378.19" stroke="#b8394d" stroke-width="0.35" stroke-opacity="0.6"/>
<line x1="449.28" y1="370.04" x2="449.28" y2="377.85" stroke="#b8394d" stroke-width="0.35" stroke-opacity="0.6"/>
<line x1="450.72" y1="369.77" x2="450.72" y2="377.57" stroke="#b8394d" stroke-width="0.35" stroke-opacity="0.6"/>
<line x1="452.15" y1="369.50" x2="452.15" y2="377.33" stroke="#b8394d" stroke-width="0.35" stroke-opacity="0.6"/>
<line x1="453.59" y1="369.23" x2="453.59" y2="377.10" stroke="#b8394d" stroke-width="0.35" stroke-opacity="0.6"/>
<line x1="455.03" y1="368.96" x2="455.03" y2="376.86" stroke="#b8394d" stroke-width="0.35" stroke-opacity="0.6"/>
<line x1="456.46" y1="368.68" x2="456.46" y2="376.63" stroke="#b8394d" stroke-width="0.35" stroke-opacity="0.6"/>
<line x1="457.90" y1="368.41" x2="457.90" y2="376.40" stroke="#b8394d" stroke-width="0.35" stroke-opacity="0.6"/>
<line x1="459.33" y1="368.14" x2="459.33" y2="376.16" stroke="#b8394d" stroke-width="0.35" stroke-opacity="0.6"/>
<line x1="460.77" y1="367.87" x2="460.77" y2="375.93" stroke="#b8394d" stroke-width="0.35" stroke-opacity="0.6"/>
<line x1="462.21" y1="367.59" x2="462.21" y2="375.70" stroke="#b8394d" stroke-width="0.35" stroke-opacity="0.6"/>
<line x1="463.64" y1="367.32" x2="463.64" y2="375.46" stroke="#b8394d" stroke-width="0.35" stroke-opacity="0.6"/>
<line x1="465.08" y1="367.05" x2="465.08" y2="375.23" stroke="#b8394d" stroke-width="0.35" stroke-opacity="0.6"/>
<line x1="466.51" y1="366.70" x2="466.51" y2="374.67" stroke="#b8394d" stroke-width="0.35" stroke-opacity="0.6"/>
<line x1="467.95" y1="366.36" x2="467.95" y2="374.11" stroke="#b8394d" stroke-width="0.35" stroke-opacity="0.6"/>
<line x1="469.39" y1="366.01" x2="469.39" y2="373.55" stroke="#b8394d" stroke-width="0.35" stroke-opacity="0.6"/>
<line x1="470.82" y1="365.67" x2="470.82" y2="372.99" stroke="#b8394d" stroke-width="0.35" stroke-opacity="0.6"/>
<line x1="472.26" y1="365.33" x2="472.26" y2="372.43" stroke="#b8394d" stroke-width="0.35" stroke-opacity="0.6"/>
<line x1="473.69" y1="364.98" x2="473.69" y2="371.87" stroke="#b8394d" stroke-width="0.35" stroke-opacity="0.6"/>
<line x1="475.13" y1="364.64" x2="475.13" y2="371.31" stroke="#b8394d" stroke-width="0.35" stroke-opacity="0.6"/>
<line x1="476.57" y1="364.29" x2="476.57" y2="370.75" stroke="#b8394d" stroke-width="0.35" stroke-opacity="0.6"/>
<line x1="478.00" y1="363.95" x2="478.00" y2="370.19" stroke="#b8394d" stroke-width="0.35" stroke-opacity="0.6"/>
<line x1="479.44" y1="363.41" x2="479.44" y2="369.30" stroke="#b8394d" stroke-width="0.35" stroke-opacity="0.6"/>
<line x1="480.87" y1="362.67" x2="480.87" y2="368.07" stroke="#b8394d" stroke-width="0.35" stroke-opacity="0.6"/>
<line x1="482.31" y1="361.94" x2="482.31" y2="366.84" stroke="#b8394d" stroke-width="0.35" stroke-opacity="0.6"/>
<line x1="483.75" y1="361.20" x2="483.75" y2="365.62" stroke="#b8394d" stroke-width="0.35" stroke-opacity="0.6"/>
<line x1="485.18" y1="360.46" x2="485.18" y2="364.39" stroke="#b8394d" stroke-width="0.35" stroke-opacity="0.6"/>
<path d="M378.20,411.78 L378.92,410.91 L379.64,409.17 L380.35,407.44 L381.07,406.21 L381.79,405.50 L382.51,405.31 L383.23,405.12 L383.94,404.92 L384.66,404.73 L385.38,404.54 L386.10,404.34 L386.82,404.15 L387.53,403.93 L388.25,403.68 L388.97,403.39 L389.69,403.07 L390.41,402.76 L391.12,402.44 L391.84,402.13 L392.56,401.81 L393.28,401.50 L394.00,401.18 L394.71,400.87 L395.43,400.55 L396.15,400.24 L396.87,399.92 L397.59,399.58 L398.30,399.22 L399.02,398.85 L399.74,398.49 L400.46,398.12 L401.18,397.76 L401.89,397.39 L402.61,397.02 L403.33,396.66 L404.05,396.27 L404.77,395.86 L405.48,395.42 L406.20,394.99 L406.92,394.55 L407.64,394.12 L408.36,393.68 L409.07,393.25 L409.79,392.69 L410.51,392.00 L411.23,391.18 L411.95,390.36 L412.66,389.54 L413.38,388.72 L414.10,387.91 L414.82,387.09 L415.54,386.37 L416.25,385.76 L416.97,385.25 L417.69,384.74 L418.41,384.23 L419.13,383.71 L419.84,383.20 L420.56,382.69 L421.28,382.18 L422.00,381.67 L422.72,381.25 L423.43,380.92 L424.15,380.68 L424.87,380.45 L425.59,380.21 L426.31,379.97 L427.02,379.74 L427.74,379.50 L428.46,379.26 L429.18,379.03 L429.90,378.78 L430.61,378.53 L431.33,378.28 L432.05,378.03 L432.77,377.78 L433.49,377.53 L434.20,377.28 L434.92,377.03 L435.64,376.80 L436.36,376.60 L437.08,376.44 L437.79,376.29 L438.51,376.15 L439.23,376.00 L439.95,375.85 L440.67,375.71 L441.38,375.56 L442.10,375.41 L442.82,375.26 L443.54,375.12 L444.26,374.97 L444.97,374.82 L445.69,374.68 L446.41,374.53 L447.13,374.38 L447.85,374.24 L448.56,374.09 L449.28,373.94 L450.00,373.80 L450.72,373.67 L451.44,373.54 L452.15,373.42 L452.87,373.29 L453.59,373.16 L454.31,373.04 L455.03,372.91 L455.74,372.78 L456.46,372.66 L457.18,372.53 L457.90,372.40 L458.62,372.28 L459.33,372.15 L460.05,372.02 L460.77,371.90 L461.49,371.77 L462.21,371.64 L462.92,371.52 L463.64,371.39 L464.36,371.26 L465.08,371.11 L465.80,370.92 L466.51,370.71 L467.23,370.49 L467.95,370.28 L468.67,370.06 L469.39,369.85 L470.10,369.63 L470.82,369.42 L471.54,369.20 L472.26,368.99 L472.98,368.77 L473.69,368.55 L474.41,368.34 L475.13,368.12 L475.85,367.91 L476.57,367.69 L477.28,367.48 L478.00,367.26 L478.72,366.94 L479.44,366.52 L480.16,365.98 L480.87,365.45 L481.59,364.92 L482.31,364.39 L483.03,363.86 L483.75,363.33 L484.46,362.79 L485.18,362.26 L485.90,362.00" fill="none" stroke="#3d1117" stroke-width="2.4" stroke-linejoin="round" stroke-linecap="round" stroke-opacity="1.0"/>
<circle cx="485.90" cy="361.73" r="1.8" fill="#b02c40"/>
<line x1="382.51" y1="397.72" x2="382.51" y2="411.22" stroke="#c23a50" stroke-width="0.6"/>
<line x1="385.38" y1="396.90" x2="385.38" y2="410.20" stroke="#c23a50" stroke-width="0.6"/>
<line x1="392.56" y1="395.68" x2="392.56" y2="408.77" stroke="#c23a50" stroke-width="0.6"/>
<line x1="399.02" y1="391.59" x2="399.02" y2="409.17" stroke="#c23a50" stroke-width="0.6"/>
<line x1="400.46" y1="403.04" x2="400.46" y2="410.40" stroke="#c23a50" stroke-width="0.6"/>
<line x1="401.53" y1="392.81" x2="401.53" y2="405.49" stroke="#c23a50" stroke-width="0.6"/>
<line x1="406.92" y1="387.91" x2="406.92" y2="402.22" stroke="#c23a50" stroke-width="0.6"/>
<line x1="412.66" y1="384.63" x2="412.66" y2="396.90" stroke="#c23a50" stroke-width="0.6"/>
<line x1="420.56" y1="376.45" x2="420.56" y2="388.72" stroke="#c23a50" stroke-width="0.6"/>
<line x1="424.15" y1="373.59" x2="424.15" y2="387.50" stroke="#c23a50" stroke-width="0.6"/>
<line x1="425.95" y1="374.41" x2="425.95" y2="389.13" stroke="#c23a50" stroke-width="0.6"/>
<line x1="463.28" y1="371.55" x2="463.28" y2="376.45" stroke="#9c1e33" stroke-width="1.1"/>
<line x1="463.28" y1="376.45" x2="463.28" y2="384.63" stroke="#c23a50" stroke-width="0.6"/>
<line x1="462.28" y1="384.63" x2="464.28" y2="384.63" stroke="#c23a50" stroke-width="0.5"/>
<circle cx="463.28" cy="376.45" r="1.5" fill="#9c1e33" stroke="#9c1e33" stroke-width="0.3"/>
<line x1="467.59" y1="370.73" x2="467.59" y2="380.95" stroke="#9c1e33" stroke-width="1.1"/>
<line x1="467.59" y1="380.95" x2="467.59" y2="389.54" stroke="#c23a50" stroke-width="0.6"/>
<line x1="466.59" y1="389.54" x2="468.59" y2="389.54" stroke="#c23a50" stroke-width="0.5"/>
<circle cx="467.59" cy="380.95" r="1.5" fill="#9c1e33" stroke="#9c1e33" stroke-width="0.3"/>
<line x1="476.21" y1="368.27" x2="476.21" y2="379.73" stroke="#9c1e33" stroke-width="1.1"/>
<line x1="476.21" y1="379.73" x2="476.21" y2="390.36" stroke="#c23a50" stroke-width="0.6"/>
<line x1="475.21" y1="390.36" x2="477.21" y2="390.36" stroke="#c23a50" stroke-width="0.5"/>
<circle cx="476.21" cy="379.73" r="1.5" fill="#9c1e33" stroke="#9c1e33" stroke-width="0.3"/>
<line x1="440.67" y1="367.05" x2="440.67" y2="362.55" stroke="#6f8cb8" stroke-width="0.6"/>
<line x1="403.33" y1="403.04" x2="403.33" y2="412.45" stroke="#6f8cb8" stroke-width="0.6"/>
<path d="M489.6,350.6 L491.8,350.6 L491.8,375.3 L489.6,375.3" fill="none" stroke="#333" stroke-width="0.8"/>
<text x="495.40" y="364.90" font-size="8.06" text-anchor="start" fill="#262626" stroke="#262626" textLength="8.80" lengthAdjust="spacingAndGlyphs">NS</text>
<line x1="476.20" y1="402.20" x2="484.40" y2="402.20" stroke="#35588c" stroke-width="1.1"/>
<polygon points="480.3,400.6 481.9,402.2 480.3,403.8 478.7,402.2" fill="#35588c"/>
<text x="487.10" y="404.60" font-size="7.84" text-anchor="start" fill="#262626" stroke="#262626" textLength="23.60" lengthAdjust="spacingAndGlyphs">Control</text>
<line x1="476.20" y1="411.80" x2="484.40" y2="411.80" stroke="#b02c40" stroke-width="1.3"/>
<circle cx="480.3" cy="411.8" r="1.7" fill="#9c1e33"/>
<text x="487.10" y="414.20" font-size="7.84" text-anchor="start" fill="#262626" stroke="#262626" textLength="16.60" lengthAdjust="spacingAndGlyphs">IL-1β</text>
<line x1="377.50" y1="506.50" x2="377.50" y2="584.10" stroke="#1a1a1a" stroke-width="0.9"/>
<line x1="374.70" y1="584.10" x2="377.50" y2="584.10" stroke="#1a1a1a" stroke-width="0.9"/>
<text x="371.40" y="586.95" font-size="8.96" text-anchor="end" fill="#262626" stroke="#262626" textLength="4.33" lengthAdjust="spacingAndGlyphs">0</text>
<line x1="374.70" y1="573.30" x2="377.50" y2="573.30" stroke="#1a1a1a" stroke-width="0.9"/>
<text x="371.40" y="576.15" font-size="8.96" text-anchor="end" fill="#262626" stroke="#262626" textLength="4.33" lengthAdjust="spacingAndGlyphs">5</text>
<line x1="374.70" y1="562.50" x2="377.50" y2="562.50" stroke="#1a1a1a" stroke-width="0.9"/>
<text x="371.40" y="565.35" font-size="8.96" text-anchor="end" fill="#262626" stroke="#262626" textLength="8.67" lengthAdjust="spacingAndGlyphs">10</text>
<line x1="374.70" y1="551.70" x2="377.50" y2="551.70" stroke="#1a1a1a" stroke-width="0.9"/>
<text x="371.40" y="554.55" font-size="8.96" text-anchor="end" fill="#262626" stroke="#262626" textLength="8.67" lengthAdjust="spacingAndGlyphs">15</text>
<line x1="374.70" y1="540.90" x2="377.50" y2="540.90" stroke="#1a1a1a" stroke-width="0.9"/>
<text x="371.40" y="543.75" font-size="8.96" text-anchor="end" fill="#262626" stroke="#262626" textLength="8.67" lengthAdjust="spacingAndGlyphs">20</text>
<line x1="374.70" y1="530.10" x2="377.50" y2="530.10" stroke="#1a1a1a" stroke-width="0.9"/>
<text x="371.40" y="532.95" font-size="8.96" text-anchor="end" fill="#262626" stroke="#262626" textLength="8.67" lengthAdjust="spacingAndGlyphs">25</text>
<line x1="374.70" y1="519.30" x2="377.50" y2="519.30" stroke="#1a1a1a" stroke-width="0.9"/>
<text x="371.40" y="522.15" font-size="8.96" text-anchor="end" fill="#262626" stroke="#262626" textLength="8.67" lengthAdjust="spacingAndGlyphs">30</text>
<line x1="374.70" y1="508.50" x2="377.50" y2="508.50" stroke="#1a1a1a" stroke-width="0.9"/>
<text x="371.40" y="511.35" font-size="8.96" text-anchor="end" fill="#262626" stroke="#262626" textLength="8.67" lengthAdjust="spacingAndGlyphs">35</text>
<line x1="377.00" y1="584.10" x2="493.00" y2="584.10" stroke="#1a1a1a" stroke-width="0.9"/>
<line x1="377.50" y1="584.10" x2="377.50" y2="586.90" stroke="#1a1a1a" stroke-width="0.9"/>
<text x="377.50" y="597.00" font-size="8.96" text-anchor="middle" fill="#262626" stroke="#262626" textLength="4.33" lengthAdjust="spacingAndGlyphs">0</text>
<line x1="396.40" y1="584.10" x2="396.40" y2="586.90" stroke="#1a1a1a" stroke-width="0.9"/>
<text x="396.40" y="597.00" font-size="8.96" text-anchor="middle" fill="#262626" stroke="#262626" textLength="8.67" lengthAdjust="spacingAndGlyphs">50</text>
<line x1="415.30" y1="584.10" x2="415.30" y2="586.90" stroke="#1a1a1a" stroke-width="0.9"/>
<text x="415.30" y="597.00" font-size="8.96" text-anchor="middle" fill="#262626" stroke="#262626" textLength="13.00" lengthAdjust="spacingAndGlyphs">100</text>
<line x1="434.20" y1="584.10" x2="434.20" y2="586.90" stroke="#1a1a1a" stroke-width="0.9"/>
<text x="434.20" y="597.00" font-size="8.96" text-anchor="middle" fill="#262626" stroke="#262626" textLength="13.00" lengthAdjust="spacingAndGlyphs">150</text>
<line x1="453.10" y1="584.10" x2="453.10" y2="586.90" stroke="#1a1a1a" stroke-width="0.9"/>
<text x="453.10" y="597.00" font-size="8.96" text-anchor="middle" fill="#262626" stroke="#262626" textLength="13.00" lengthAdjust="spacingAndGlyphs">200</text>
<line x1="472.00" y1="584.10" x2="472.00" y2="586.90" stroke="#1a1a1a" stroke-width="0.9"/>
<text x="472.00" y="597.00" font-size="8.96" text-anchor="middle" fill="#262626" stroke="#262626" textLength="13.00" lengthAdjust="spacingAndGlyphs">250</text>
<line x1="490.90" y1="584.10" x2="490.90" y2="586.90" stroke="#1a1a1a" stroke-width="0.9"/>
<text x="490.90" y="597.00" font-size="8.96" text-anchor="middle" fill="#262626" stroke="#262626" textLength="13.00" lengthAdjust="spacingAndGlyphs">300</text>
<line x1="381.28" y1="584.10" x2="381.28" y2="585.90" stroke="#1a1a1a" stroke-width="0.6"/>
<line x1="385.06" y1="584.10" x2="385.06" y2="585.90" stroke="#1a1a1a" stroke-width="0.6"/>
<line x1="388.84" y1="584.10" x2="388.84" y2="585.90" stroke="#1a1a1a" stroke-width="0.6"/>
<line x1="392.62" y1="584.10" x2="392.62" y2="585.90" stroke="#1a1a1a" stroke-width="0.6"/>
<line x1="400.18" y1="584.10" x2="400.18" y2="585.90" stroke="#1a1a1a" stroke-width="0.6"/>
<line x1="403.96" y1="584.10" x2="403.96" y2="585.90" stroke="#1a1a1a" stroke-width="0.6"/>
<line x1="407.74" y1="584.10" x2="407.74" y2="585.90" stroke="#1a1a1a" stroke-width="0.6"/>
<line x1="411.52" y1="584.10" x2="411.52" y2="585.90" stroke="#1a1a1a" stroke-width="0.6"/>
<line x1="419.08" y1="584.10" x2="419.08" y2="585.90" stroke="#1a1a1a" stroke-width="0.6"/>
<line x1="422.86" y1="584.10" x2="422.86" y2="585.90" stroke="#1a1a1a" stroke-width="0.6"/>
<line x1="426.64" y1="584.10" x2="426.64" y2="585.90" stroke="#1a1a1a" stroke-width="0.6"/>
<line x1="430.42" y1="584.10" x2="430.42" y2="585.90" stroke="#1a1a1a" stroke-width="0.6"/>
<line x1="437.98" y1="584.10" x2="437.98" y2="585.90" stroke="#1a1a1a" stroke-width="0.6"/>
<line x1="441.76" y1="584.10" x2="441.76" y2="585.90" stroke="#1a1a1a" stroke-width="0.6"/>
<line x1="445.54" y1="584.10" x2="445.54" y2="585.90" stroke="#1a1a1a" stroke-width="0.6"/>
<line x1="449.32" y1="584.10" x2="449.32" y2="585.90" stroke="#1a1a1a" stroke-width="0.6"/>
<line x1="456.88" y1="584.10" x2="456.88" y2="585.90" stroke="#1a1a1a" stroke-width="0.6"/>
<line x1="460.66" y1="584.10" x2="460.66" y2="585.90" stroke="#1a1a1a" stroke-width="0.6"/>
<line x1="464.44" y1="584.10" x2="464.44" y2="585.90" stroke="#1a1a1a" stroke-width="0.6"/>
<line x1="468.22" y1="584.10" x2="468.22" y2="585.90" stroke="#1a1a1a" stroke-width="0.6"/>
<line x1="475.78" y1="584.10" x2="475.78" y2="585.90" stroke="#1a1a1a" stroke-width="0.6"/>
<line x1="479.56" y1="584.10" x2="479.56" y2="585.90" stroke="#1a1a1a" stroke-width="0.6"/>
<line x1="483.34" y1="584.10" x2="483.34" y2="585.90" stroke="#1a1a1a" stroke-width="0.6"/>
<line x1="487.12" y1="584.10" x2="487.12" y2="585.90" stroke="#1a1a1a" stroke-width="0.6"/>
<text x="409.80" y="478.50" font-size="9.74" text-anchor="start" fill="#262626" stroke="#262626" textLength="52.50" lengthAdjust="spacingAndGlyphs">Whole blood</text>
<text x="384.20" y="491.00" font-size="7.62" text-anchor="start" fill="#262626" stroke="#262626" textLength="54.50" lengthAdjust="spacingAndGlyphs">p55/p75 KO mice</text>
<text transform="translate(357.30,544.80) rotate(-90)" x="0" y="0" font-size="9.74" text-anchor="middle" fill="#262626" stroke="#262626" textLength="94.00" lengthAdjust="spacingAndGlyphs">Growth rate (% area / s)</text>
<text x="436.60" y="611.30" font-size="10.3" text-anchor="middle" fill="#262626" stroke="#262626" textLength="59.30" lengthAdjust="spacingAndGlyphs">Time (seconds)</text>
<path d="M378.30,580.86 L379.06,580.86 L379.81,580.86 L380.57,580.86 L381.32,580.86 L382.08,580.86 L382.84,580.86 L383.59,580.86 L384.35,580.86 L385.10,580.86 L385.86,580.86 L386.62,580.86 L387.37,580.83 L388.13,580.73 L388.88,580.56 L389.64,580.36 L390.40,580.15 L391.15,579.95 L391.91,579.75 L392.66,579.55 L393.42,579.33 L394.18,579.09 L394.93,578.83 L395.69,578.57 L396.44,578.31 L397.20,578.02 L397.96,577.71 L398.71,577.36 L399.47,577.02 L400.22,576.67 L400.98,576.19 L401.74,575.59 L402.49,574.86 L403.25,574.12 L404.00,573.39 L404.76,572.51 L405.52,571.49 L406.27,570.33 L407.03,569.17 L407.78,568.01 L408.54,566.85 L409.30,565.69 L410.05,564.53 L410.81,563.38 L411.56,562.20 L412.32,560.98 L413.08,559.73 L413.83,558.46 L414.59,557.18 L415.34,555.91 L416.10,554.64 L416.86,553.37 L417.61,552.10 L418.37,550.82 L419.12,549.55 L419.88,548.28 L420.64,547.01 L421.39,545.74 L422.15,544.46 L422.90,543.19 L423.66,541.92 L424.42,540.65 L425.17,539.49 L425.93,538.54 L426.68,537.82 L427.44,537.21 L428.20,536.59 L428.95,535.98 L429.71,535.36 L430.46,534.75 L431.22,534.14 L431.98,533.52 L432.73,532.97 L433.49,532.48 L434.24,532.04 L435.00,531.61 L435.76,531.18 L436.51,530.75 L437.27,530.32 L438.02,529.88 L438.78,529.45 L439.54,529.03 L440.29,528.62 L441.05,528.23 L441.80,527.83 L442.56,527.44 L443.32,527.04 L444.07,526.75 L444.83,526.58 L445.58,526.51 L446.34,526.44 L447.10,526.38 L447.85,526.31 L448.61,526.25 L449.36,526.18 L450.12,526.11 L450.88,526.05 L451.63,525.98 L452.39,525.91 L453.14,525.85 L453.90,525.80 L454.66,525.78 L455.41,525.78 L456.17,525.78 L456.92,525.78 L457.68,525.78 L458.44,525.78 L459.19,525.78 L459.95,525.78 L460.70,525.78 L461.46,525.78 L462.22,525.78 L462.97,525.78 L463.73,525.78 L464.48,525.78 L465.24,525.78 L466.00,525.78 L466.75,525.78 L467.51,525.78 L468.26,525.78 L469.02,525.78 L469.78,525.78 L470.53,525.78 L471.29,525.78 L472.04,525.78 L472.80,525.78 L473.56,525.78 L474.31,525.78 L475.07,525.78 L475.82,525.78 L476.58,525.78 L477.34,525.78 L478.09,525.78 L478.85,525.78 L479.60,525.78 L480.36,525.78 L481.12,525.78 L481.87,525.78 L482.63,525.78 L483.38,525.78 L484.14,525.78 L484.90,525.78 L485.65,525.78 L486.41,525.78 L487.16,525.78 L487.92,525.78 L488.68,525.78 L489.43,525.78 L490.19,525.78 L490.94,525.78 L491.70,525.78 L491.70,532.70 L490.94,532.71 L490.19,532.73 L489.43,532.74 L488.68,532.76 L487.92,532.78 L487.16,532.80 L486.41,532.81 L485.65,532.83 L484.90,532.85 L484.14,532.86 L483.38,532.88 L482.63,532.90 L481.87,532.92 L481.12,532.93 L480.36,532.95 L479.60,532.97 L478.85,532.99 L478.09,533.00 L477.34,533.02 L476.58,533.04 L475.82,533.05 L475.07,533.07 L474.31,533.09 L473.56,533.11 L472.80,533.12 L472.04,533.14 L471.29,533.16 L470.53,533.18 L469.78,533.19 L469.02,533.21 L468.26,533.23 L467.51,533.24 L466.75,533.26 L466.00,533.28 L465.24,533.30 L464.48,533.31 L463.73,533.33 L462.97,533.35 L462.22,533.37 L461.46,533.38 L460.70,533.40 L459.95,533.42 L459.19,533.44 L458.44,533.45 L457.68,533.47 L456.92,533.49 L456.17,533.50 L455.41,533.52 L454.66,533.54 L453.90,533.64 L453.14,533.84 L452.39,534.12 L451.63,534.41 L450.88,534.69 L450.12,534.97 L449.36,535.25 L448.61,535.54 L447.85,535.82 L447.10,536.10 L446.34,536.39 L445.58,536.67 L444.83,536.95 L444.07,537.24 L443.32,537.62 L442.56,538.22 L441.80,539.04 L441.05,539.96 L440.29,540.87 L439.54,541.79 L438.78,542.71 L438.02,543.63 L437.27,544.55 L436.51,545.46 L435.76,546.38 L435.00,547.30 L434.24,548.22 L433.49,549.13 L432.73,550.05 L431.98,550.97 L431.22,551.89 L430.46,552.81 L429.71,553.73 L428.95,554.64 L428.20,555.57 L427.44,556.52 L426.68,557.48 L425.93,558.46 L425.17,559.43 L424.42,560.41 L423.66,561.39 L422.90,562.36 L422.15,563.34 L421.39,564.31 L420.64,565.29 L419.88,566.26 L419.12,567.24 L418.37,568.21 L417.61,569.19 L416.86,570.16 L416.10,571.03 L415.34,571.79 L414.59,572.44 L413.83,573.08 L413.08,573.73 L412.32,574.38 L411.56,575.03 L410.81,575.68 L410.05,576.32 L409.30,576.97 L408.54,577.52 L407.78,577.97 L407.03,578.31 L406.27,578.66 L405.52,579.00 L404.76,579.35 L404.00,579.69 L403.25,580.04 L402.49,580.38 L401.74,580.73 L400.98,581.03 L400.22,581.29 L399.47,581.51 L398.71,581.72 L397.96,581.94 L397.20,582.14 L396.44,582.33 L395.69,582.50 L394.93,582.67 L394.18,582.85 L393.42,583.01 L392.66,583.16 L391.91,583.31 L391.15,583.45 L390.40,583.60 L389.64,583.74 L388.88,583.88 L388.13,584.00 L387.37,584.08 L386.62,584.10 L385.86,584.10 L385.10,584.10 L384.35,584.10 L383.59,584.10 L382.84,584.10 L382.08,584.10 L381.32,584.10 L380.57,584.10 L379.81,584.10 L379.06,584.10 L378.30,584.10 Z" fill="#c9505f" fill-opacity="0.95" stroke="none"/>
<path d="M378.30,566.82 L378.68,569.70 L379.06,572.58 L379.43,575.46 L379.81,576.54 L380.19,577.62 L380.57,578.70 L380.95,579.78 L381.32,580.86 L381.70,580.86 L382.08,580.86 L382.46,580.86 L382.84,580.86 L383.21,580.86 L383.59,580.86 L383.97,580.86 L384.35,580.86 L384.73,580.86 L385.10,580.86 L385.48,580.86 L385.86,580.86 L386.24,580.86 L386.62,580.86 L386.99,580.86 L387.37,580.86 L387.75,580.86 L388.13,580.00 L388.51,579.13 L388.88,578.27 L389.26,577.40 L389.64,576.54 L390.02,575.84 L390.40,575.14 L390.77,574.43 L391.15,573.73 L391.53,573.69 L391.91,573.65 L392.29,573.61 L392.66,573.57 L393.04,573.54 L393.42,573.50 L393.80,573.46 L394.18,573.42 L394.55,573.38 L394.93,573.34 L395.31,573.30 L395.69,574.16 L396.07,575.03 L396.44,575.89 L396.82,576.76 L397.20,577.62 L397.58,577.92 L397.96,578.22 L398.33,578.53 L398.71,578.83 L399.09,579.13 L399.47,579.43 L399.85,579.74 L400.22,580.04 L400.60,580.34 L400.98,580.64 L401.36,580.57 L401.74,580.49 L402.11,580.41 L402.49,580.33 L402.87,580.25 L403.25,580.17 L403.63,580.09 L404.00,580.02 L404.38,579.94 L404.76,579.86 L405.14,579.78 L405.52,579.06 L405.89,578.34 L406.27,577.62 L406.65,576.90 L407.03,576.18 L407.41,575.46 L407.78,574.74 L408.16,574.02 L408.54,573.30 L408.92,572.53 L409.30,571.76 L409.67,571.00 L410.05,570.23 L410.43,569.46 L410.81,568.69 L411.19,567.92 L411.56,567.16 L411.94,566.39 L412.32,565.67 L412.70,564.95 L413.08,564.23 L413.45,563.51 L413.83,562.79 L414.21,562.07 L414.59,561.35 L414.97,560.63 L415.34,559.91 L415.72,559.19 L416.10,558.47 L416.48,557.75 L416.86,557.03 L417.23,556.31 L417.61,555.59 L417.99,554.87 L418.37,554.15 L418.75,553.43 L419.12,552.83 L419.50,552.23 L419.88,551.63 L420.26,551.03 L420.64,550.43 L421.01,549.83 L421.39,549.23 L421.77,548.63 L422.15,548.03 L422.53,547.43 L422.90,546.83 L423.28,546.23 L423.66,545.63 L424.04,545.03 L424.42,544.43 L424.79,543.83 L425.17,543.23 L425.55,542.63 L425.93,542.26 L426.31,541.90 L426.68,541.54 L427.06,541.17 L427.44,540.81 L427.82,540.45 L428.20,540.08 L428.57,539.72 L428.95,539.35 L429.33,538.99 L429.71,538.63 L430.09,538.26 L430.46,537.90 L430.84,537.53 L431.22,537.17 L431.60,536.81 L431.98,536.44 L432.35,536.08 L432.73,535.72 L433.11,535.48 L433.49,535.24 L433.87,535.00 L434.24,534.76 L434.62,534.52 L435.00,534.28 L435.38,534.04 L435.76,533.80 L436.13,533.56 L436.51,533.32 L436.89,533.08 L437.27,532.84 L437.65,532.60 L438.02,532.36 L438.40,532.12 L438.78,531.88 L439.16,531.64 L439.54,531.40 L439.91,531.22 L440.29,531.04 L440.67,530.86 L441.05,530.68 L441.43,530.51 L441.80,530.33 L442.18,530.15 L442.56,529.97 L442.94,529.80 L443.32,529.62 L443.69,529.44 L444.07,529.26 L444.45,529.08 L444.83,528.91 L445.21,528.73 L445.58,528.55 L445.96,528.37 L446.34,520.38 L446.72,520.22 L447.10,520.06 L447.47,519.89 L447.85,519.73 L448.23,519.57 L448.61,519.41 L448.99,519.25 L449.36,519.08 L449.74,518.92 L450.12,518.76 L450.50,518.60 L450.88,518.44 L451.25,518.27 L451.63,518.11 L452.01,517.95 L452.39,517.79 L452.77,517.63 L453.14,517.46 L453.52,517.30 L453.90,517.14 L454.28,516.97 L454.66,516.80 L455.03,516.63 L455.41,516.46 L455.79,516.29 L456.17,516.13 L456.55,515.96 L456.92,515.79 L457.30,515.62 L457.68,515.45 L458.06,515.28 L458.44,515.11 L458.81,514.94 L459.19,514.77 L459.57,514.60 L459.95,514.44 L460.33,514.27 L460.70,514.10 L461.08,513.93 L461.46,513.76 L461.84,513.59 L462.22,513.42 L462.59,513.25 L462.97,513.23 L463.35,513.20 L463.73,513.18 L464.11,513.15 L464.48,513.13 L464.86,513.10 L465.24,513.08 L465.62,513.05 L466.00,513.02 L466.37,513.00 L466.75,512.97 L467.13,512.95 L467.51,512.92 L467.89,512.90 L468.26,512.87 L468.64,512.85 L469.02,512.82 L469.40,512.80 L469.78,512.77 L470.15,512.75 L470.53,512.72 L470.91,512.70 L471.29,512.67 L471.67,512.65 L472.04,512.62 L472.42,512.60 L472.80,512.57 L473.18,512.55 L473.56,512.52 L473.93,512.49 L474.31,512.47 L474.69,512.44 L475.07,512.42 L475.45,512.39 L475.82,512.37 L476.20,512.34 L476.58,512.32 L476.96,512.29 L477.34,512.27 L477.71,512.24 L478.09,512.22 L478.47,512.19 L478.85,512.17 L479.23,512.14 L479.60,512.12 L479.98,512.09 L480.36,512.07 L480.74,512.04 L481.12,512.01 L481.49,511.99 L481.87,511.96 L482.25,511.94 L482.63,511.91 L483.01,511.89 L483.38,511.86 L483.76,511.84 L484.14,511.81 L484.52,511.79 L484.90,511.76 L485.27,511.74 L485.65,511.71 L486.03,511.69 L486.41,511.66 L486.79,511.64 L487.16,511.61 L487.54,511.59 L487.92,511.56 L488.30,511.54 L488.68,511.51 L489.05,511.48 L489.43,511.46 L489.81,511.43 L490.19,511.41 L490.57,511.38 L490.94,511.36 L491.32,511.33 L491.70,511.31 L491.70,532.48 L491.32,532.54 L490.94,532.61 L490.57,532.67 L490.19,532.73 L489.81,532.80 L489.43,532.86 L489.05,532.93 L488.68,532.99 L488.30,533.06 L487.92,533.12 L487.54,533.19 L487.16,533.25 L486.79,533.31 L486.41,533.38 L486.03,533.44 L485.65,533.51 L485.27,533.57 L484.90,533.64 L484.52,533.70 L484.14,533.77 L483.76,533.83 L483.38,533.90 L483.01,533.96 L482.63,534.02 L482.25,534.09 L481.87,534.15 L481.49,534.22 L481.12,534.28 L480.74,534.35 L480.36,534.41 L479.98,534.48 L479.60,534.54 L479.23,534.61 L478.85,534.67 L478.47,534.73 L478.09,534.80 L477.71,534.86 L477.34,534.93 L476.96,534.99 L476.58,535.06 L476.20,535.12 L475.82,535.19 L475.45,535.25 L475.07,535.31 L474.69,535.38 L474.31,535.44 L473.93,535.51 L473.56,535.57 L473.18,535.64 L472.80,535.70 L472.42,535.77 L472.04,535.83 L471.67,535.90 L471.29,535.96 L470.91,536.02 L470.53,536.09 L470.15,536.15 L469.78,536.22 L469.40,536.28 L469.02,536.35 L468.64,536.41 L468.26,536.48 L467.89,536.54 L467.51,536.61 L467.13,536.67 L466.75,536.73 L466.37,536.80 L466.00,536.86 L465.62,536.93 L465.24,536.99 L464.86,537.06 L464.48,537.12 L464.11,537.19 L463.73,537.25 L463.35,537.31 L462.97,537.38 L462.59,537.44 L462.22,537.74 L461.84,538.03 L461.46,538.32 L461.08,538.61 L460.70,538.90 L460.33,539.19 L459.95,539.49 L459.57,539.78 L459.19,540.07 L458.81,540.36 L458.44,540.65 L458.06,540.94 L457.68,541.23 L457.30,541.53 L456.92,541.82 L456.55,542.11 L456.17,542.40 L455.79,542.69 L455.41,542.98 L455.03,543.28 L454.66,543.48 L454.28,543.68 L453.90,543.89 L453.52,544.09 L453.14,544.29 L452.77,544.50 L452.39,544.70 L452.01,544.90 L451.63,545.11 L451.25,545.31 L450.88,545.51 L450.50,545.72 L450.12,545.92 L449.74,546.12 L449.36,546.33 L448.99,546.53 L448.61,546.73 L448.23,547.02 L447.85,547.31 L447.47,547.60 L447.10,547.88 L446.72,548.17 L446.34,548.46 L445.96,554.72 L445.58,555.07 L445.21,555.41 L444.83,555.75 L444.45,556.10 L444.07,556.44 L443.69,556.78 L443.32,557.13 L442.94,557.47 L442.56,557.81 L442.18,558.15 L441.80,558.50 L441.43,558.84 L441.05,559.18 L440.67,559.53 L440.29,559.87 L439.91,560.21 L439.54,560.56 L439.16,560.89 L438.78,561.22 L438.40,561.56 L438.02,561.89 L437.65,562.23 L437.27,562.56 L436.89,562.90 L436.51,563.23 L436.13,563.57 L435.76,563.90 L435.38,564.23 L435.00,564.57 L434.62,564.90 L434.24,565.24 L433.87,565.57 L433.49,565.91 L433.11,566.24 L432.73,566.58 L432.35,566.91 L431.98,567.25 L431.60,567.58 L431.22,567.91 L430.84,568.25 L430.46,568.58 L430.09,568.92 L429.71,569.25 L429.33,569.59 L428.95,569.92 L428.57,570.26 L428.20,570.59 L427.82,570.92 L427.44,571.23 L427.06,571.53 L426.68,571.83 L426.31,572.13 L425.93,572.44 L425.55,572.74 L425.17,573.04 L424.79,573.34 L424.42,573.65 L424.04,573.95 L423.66,574.25 L423.28,574.55 L422.90,574.86 L422.53,575.16 L422.15,575.46 L421.77,575.76 L421.39,576.06 L421.01,576.37 L420.64,576.67 L420.26,576.97 L419.88,577.27 L419.50,577.58 L419.12,577.88 L418.75,578.18 L418.37,578.48 L417.99,578.79 L417.61,579.09 L417.23,579.39 L416.86,579.69 L416.48,580.00 L416.10,580.10 L415.72,580.20 L415.34,580.30 L414.97,580.41 L414.59,580.51 L414.21,580.61 L413.83,580.72 L413.45,580.82 L413.08,580.92 L412.70,581.02 L412.32,581.13 L411.94,581.23 L411.56,581.33 L411.19,581.44 L410.81,581.54 L410.43,581.64 L410.05,581.74 L409.67,581.85 L409.30,581.95 L408.92,582.05 L408.54,582.16 L408.16,582.23 L407.78,582.30 L407.41,582.37 L407.03,582.44 L406.65,582.52 L406.27,582.59 L405.89,582.66 L405.52,582.73 L405.14,582.80 L404.76,582.84 L404.38,582.88 L404.00,582.92 L403.63,582.96 L403.25,583.00 L402.87,583.04 L402.49,583.08 L402.11,583.12 L401.74,583.16 L401.36,583.20 L400.98,583.24 L400.60,583.19 L400.22,583.15 L399.85,583.11 L399.47,583.06 L399.09,583.02 L398.71,582.98 L398.33,582.93 L397.96,582.89 L397.58,582.85 L397.20,582.80 L396.82,582.29 L396.44,581.77 L396.07,581.25 L395.69,580.73 L395.31,580.21 L394.93,580.25 L394.55,580.29 L394.18,580.33 L393.80,580.37 L393.42,580.41 L393.04,580.45 L392.66,580.49 L392.29,580.53 L391.91,580.57 L391.53,580.60 L391.15,580.64 L390.77,581.08 L390.40,581.51 L390.02,581.94 L389.64,582.37 L389.26,582.72 L388.88,583.06 L388.51,583.41 L388.13,583.75 L387.75,584.10 L387.37,584.10 L386.99,584.10 L386.62,584.10 L386.24,584.10 L385.86,584.10 L385.48,584.10 L385.10,584.10 L384.73,584.10 L384.35,584.10 L383.97,584.10 L383.59,584.10 L383.21,584.10 L382.84,584.10 L382.46,584.10 L382.08,584.10 L381.70,584.10 L381.32,584.10 L380.95,583.88 L380.57,583.67 L380.19,583.45 L379.81,583.24 L379.43,583.02 L379.06,581.94 L378.68,580.86 L378.30,579.78 Z" fill="#a9bad6" fill-opacity="0.9" stroke="none"/>
<line x1="409.30" y1="571.76" x2="409.30" y2="581.95" stroke="#5a78a8" stroke-width="0.75" stroke-opacity="0.9"/>
<line x1="412.51" y1="565.31" x2="412.51" y2="581.08" stroke="#5a78a8" stroke-width="0.75" stroke-opacity="0.9"/>
<line x1="415.72" y1="559.19" x2="415.72" y2="580.20" stroke="#5a78a8" stroke-width="0.75" stroke-opacity="0.9"/>
<line x1="418.94" y1="553.13" x2="418.94" y2="578.03" stroke="#5a78a8" stroke-width="0.75" stroke-opacity="0.9"/>
<line x1="422.15" y1="548.03" x2="422.15" y2="575.46" stroke="#5a78a8" stroke-width="0.75" stroke-opacity="0.9"/>
<line x1="425.36" y1="542.93" x2="425.36" y2="572.89" stroke="#5a78a8" stroke-width="0.75" stroke-opacity="0.9"/>
<line x1="428.57" y1="539.72" x2="428.57" y2="570.26" stroke="#5a78a8" stroke-width="0.75" stroke-opacity="0.9"/>
<line x1="431.79" y1="536.63" x2="431.79" y2="567.41" stroke="#5a78a8" stroke-width="0.75" stroke-opacity="0.9"/>
<line x1="435.00" y1="534.28" x2="435.00" y2="564.57" stroke="#5a78a8" stroke-width="0.75" stroke-opacity="0.9"/>
<line x1="438.21" y1="532.24" x2="438.21" y2="561.73" stroke="#5a78a8" stroke-width="0.75" stroke-opacity="0.9"/>
<line x1="441.43" y1="530.51" x2="441.43" y2="558.84" stroke="#5a78a8" stroke-width="0.75" stroke-opacity="0.9"/>
<line x1="444.64" y1="528.99" x2="444.64" y2="555.92" stroke="#5a78a8" stroke-width="0.75" stroke-opacity="0.9"/>
<line x1="447.85" y1="519.73" x2="447.85" y2="547.31" stroke="#5a78a8" stroke-width="0.75" stroke-opacity="0.9"/>
<line x1="451.06" y1="518.36" x2="451.06" y2="545.41" stroke="#5a78a8" stroke-width="0.75" stroke-opacity="0.9"/>
<line x1="454.28" y1="516.97" x2="454.28" y2="543.68" stroke="#5a78a8" stroke-width="0.75" stroke-opacity="0.9"/>
<line x1="457.49" y1="515.53" x2="457.49" y2="541.38" stroke="#5a78a8" stroke-width="0.75" stroke-opacity="0.9"/>
<line x1="460.70" y1="514.10" x2="460.70" y2="538.90" stroke="#5a78a8" stroke-width="0.75" stroke-opacity="0.9"/>
<line x1="463.92" y1="513.16" x2="463.92" y2="537.22" stroke="#5a78a8" stroke-width="0.75" stroke-opacity="0.9"/>
<line x1="467.13" y1="512.95" x2="467.13" y2="536.67" stroke="#5a78a8" stroke-width="0.75" stroke-opacity="0.9"/>
<line x1="470.34" y1="512.73" x2="470.34" y2="536.12" stroke="#5a78a8" stroke-width="0.75" stroke-opacity="0.9"/>
<line x1="473.56" y1="512.52" x2="473.56" y2="535.57" stroke="#5a78a8" stroke-width="0.75" stroke-opacity="0.9"/>
<line x1="476.77" y1="512.31" x2="476.77" y2="535.02" stroke="#5a78a8" stroke-width="0.75" stroke-opacity="0.9"/>
<line x1="479.98" y1="512.09" x2="479.98" y2="534.48" stroke="#5a78a8" stroke-width="0.75" stroke-opacity="0.9"/>
<line x1="483.19" y1="511.88" x2="483.19" y2="533.93" stroke="#5a78a8" stroke-width="0.75" stroke-opacity="0.9"/>
<line x1="486.41" y1="511.66" x2="486.41" y2="533.38" stroke="#5a78a8" stroke-width="0.75" stroke-opacity="0.9"/>
<line x1="489.62" y1="511.45" x2="489.62" y2="532.83" stroke="#5a78a8" stroke-width="0.75" stroke-opacity="0.9"/>
<line x1="410.90" y1="568.50" x2="410.90" y2="581.51" stroke="#7d97c0" stroke-width="0.5" stroke-opacity="0.8"/>
<line x1="414.12" y1="562.25" x2="414.12" y2="580.64" stroke="#7d97c0" stroke-width="0.5" stroke-opacity="0.8"/>
<line x1="417.33" y1="556.13" x2="417.33" y2="579.32" stroke="#7d97c0" stroke-width="0.5" stroke-opacity="0.8"/>
<line x1="420.54" y1="550.58" x2="420.54" y2="576.75" stroke="#7d97c0" stroke-width="0.5" stroke-opacity="0.8"/>
<line x1="423.75" y1="545.48" x2="423.75" y2="574.17" stroke="#7d97c0" stroke-width="0.5" stroke-opacity="0.8"/>
<line x1="426.97" y1="541.26" x2="426.97" y2="571.60" stroke="#7d97c0" stroke-width="0.5" stroke-opacity="0.8"/>
<line x1="430.18" y1="538.17" x2="430.18" y2="568.83" stroke="#7d97c0" stroke-width="0.5" stroke-opacity="0.8"/>
<line x1="433.39" y1="535.30" x2="433.39" y2="565.99" stroke="#7d97c0" stroke-width="0.5" stroke-opacity="0.8"/>
<line x1="436.61" y1="533.26" x2="436.61" y2="563.15" stroke="#7d97c0" stroke-width="0.5" stroke-opacity="0.8"/>
<line x1="439.82" y1="531.26" x2="439.82" y2="560.30" stroke="#7d97c0" stroke-width="0.5" stroke-opacity="0.8"/>
<line x1="443.03" y1="529.75" x2="443.03" y2="557.38" stroke="#7d97c0" stroke-width="0.5" stroke-opacity="0.8"/>
<line x1="446.25" y1="522.38" x2="446.25" y2="550.03" stroke="#7d97c0" stroke-width="0.5" stroke-opacity="0.8"/>
<line x1="449.46" y1="519.04" x2="449.46" y2="546.27" stroke="#7d97c0" stroke-width="0.5" stroke-opacity="0.8"/>
<line x1="452.67" y1="517.67" x2="452.67" y2="544.55" stroke="#7d97c0" stroke-width="0.5" stroke-opacity="0.8"/>
<line x1="455.88" y1="516.25" x2="455.88" y2="542.62" stroke="#7d97c0" stroke-width="0.5" stroke-opacity="0.8"/>
<line x1="459.10" y1="514.82" x2="459.10" y2="540.14" stroke="#7d97c0" stroke-width="0.5" stroke-opacity="0.8"/>
<line x1="462.31" y1="513.38" x2="462.31" y2="537.66" stroke="#7d97c0" stroke-width="0.5" stroke-opacity="0.8"/>
<line x1="465.52" y1="513.06" x2="465.52" y2="536.94" stroke="#7d97c0" stroke-width="0.5" stroke-opacity="0.8"/>
<line x1="468.74" y1="512.84" x2="468.74" y2="536.40" stroke="#7d97c0" stroke-width="0.5" stroke-opacity="0.8"/>
<line x1="471.95" y1="512.63" x2="471.95" y2="535.85" stroke="#7d97c0" stroke-width="0.5" stroke-opacity="0.8"/>
<line x1="475.16" y1="512.41" x2="475.16" y2="535.30" stroke="#7d97c0" stroke-width="0.5" stroke-opacity="0.8"/>
<line x1="478.38" y1="512.20" x2="478.38" y2="534.75" stroke="#7d97c0" stroke-width="0.5" stroke-opacity="0.8"/>
<line x1="481.59" y1="511.98" x2="481.59" y2="534.20" stroke="#7d97c0" stroke-width="0.5" stroke-opacity="0.8"/>
<line x1="484.80" y1="511.77" x2="484.80" y2="533.65" stroke="#7d97c0" stroke-width="0.5" stroke-opacity="0.8"/>
<line x1="488.01" y1="511.55" x2="488.01" y2="533.11" stroke="#7d97c0" stroke-width="0.5" stroke-opacity="0.8"/>
<line x1="491.23" y1="511.34" x2="491.23" y2="532.56" stroke="#7d97c0" stroke-width="0.5" stroke-opacity="0.8"/>
<path d="M408.54,573.30 L408.92,572.53 L409.30,571.76 L409.67,571.00 L410.05,570.23 L410.43,569.46 L410.81,568.69 L411.19,567.92 L411.56,567.16 L411.94,566.39 L412.32,565.67 L412.70,564.95 L413.08,564.23 L413.45,563.51 L413.83,562.79 L414.21,562.07 L414.59,561.35 L414.97,560.63 L415.34,559.91 L415.72,559.19 L416.10,558.47 L416.48,557.75 L416.86,557.03 L417.23,556.31 L417.61,555.59 L417.99,554.87 L418.37,554.15 L418.75,553.43 L419.12,552.83 L419.50,552.23 L419.88,551.63 L420.26,551.03 L420.64,550.43 L421.01,549.83 L421.39,549.23 L421.77,548.63 L422.15,548.03 L422.53,547.43 L422.90,546.83 L423.28,546.23 L423.66,545.63 L424.04,545.03 L424.42,544.43 L424.79,543.83 L425.17,543.23 L425.55,542.63 L425.93,542.26 L426.31,541.90 L426.68,541.54 L427.06,541.17 L427.44,540.81 L427.82,540.45 L428.20,540.08 L428.57,539.72 L428.95,539.35 L429.33,538.99 L429.71,538.63 L430.09,538.26 L430.46,537.90 L430.84,537.53 L431.22,537.17 L431.60,536.81 L431.98,536.44 L432.35,536.08 L432.73,535.72 L433.11,535.48 L433.49,535.24 L433.87,535.00 L434.24,534.76 L434.62,534.52 L435.00,534.28 L435.38,534.04 L435.76,533.80 L436.13,533.56 L436.51,533.32 L436.89,533.08 L437.27,532.84 L437.65,532.60 L438.02,532.36 L438.40,532.12 L438.78,531.88 L439.16,531.64 L439.54,531.40 L439.91,531.22 L440.29,531.04 L440.67,530.86 L441.05,530.68 L441.43,530.51 L441.80,530.33 L442.18,530.15 L442.56,529.97 L442.94,529.80 L443.32,529.62 L443.69,529.44 L444.07,529.26 L444.45,529.08 L444.83,528.91 L445.21,528.73 L445.58,528.55 L445.96,528.37 L446.34,520.38 L446.72,520.22 L447.10,520.06 L447.47,519.89 L447.85,519.73 L448.23,519.57 L448.61,519.41 L448.99,519.25 L449.36,519.08 L449.74,518.92 L450.12,518.76 L450.50,518.60 L450.88,518.44 L451.25,518.27 L451.63,518.11 L452.01,517.95 L452.39,517.79 L452.77,517.63 L453.14,517.46 L453.52,517.30 L453.90,517.14 L454.28,516.97 L454.66,516.80 L455.03,516.63 L455.41,516.46 L455.79,516.29 L456.17,516.13 L456.55,515.96 L456.92,515.79 L457.30,515.62 L457.68,515.45 L458.06,515.28 L458.44,515.11 L458.81,514.94 L459.19,514.77 L459.57,514.60 L459.95,514.44 L460.33,514.27 L460.70,514.10 L461.08,513.93 L461.46,513.76 L461.84,513.59 L462.22,513.42 L462.59,513.25 L462.97,513.23 L463.35,513.20 L463.73,513.18 L464.11,513.15 L464.48,513.13 L464.86,513.10 L465.24,513.08 L465.62,513.05 L466.00,513.02 L466.37,513.00 L466.75,512.97 L467.13,512.95 L467.51,512.92 L467.89,512.90 L468.26,512.87 L468.64,512.85 L469.02,512.82 L469.40,512.80 L469.78,512.77 L470.15,512.75 L470.53,512.72 L470.91,512.70 L471.29,512.67 L471.67,512.65 L472.04,512.62 L472.42,512.60 L472.80,512.57 L473.18,512.55 L473.56,512.52 L473.93,512.49 L474.31,512.47 L474.69,512.44 L475.07,512.42 L475.45,512.39 L475.82,512.37 L476.20,512.34 L476.58,512.32 L476.96,512.29 L477.34,512.27 L477.71,512.24 L478.09,512.22 L478.47,512.19 L478.85,512.17 L479.23,512.14 L479.60,512.12 L479.98,512.09 L480.36,512.07 L480.74,512.04 L481.12,512.01 L481.49,511.99 L481.87,511.96 L482.25,511.94 L482.63,511.91 L483.01,511.89 L483.38,511.86 L483.76,511.84 L484.14,511.81 L484.52,511.79 L484.90,511.76 L485.27,511.74 L485.65,511.71 L486.03,511.69 L486.41,511.66 L486.79,511.64 L487.16,511.61 L487.54,511.59 L487.92,511.56 L488.30,511.54 L488.68,511.51 L489.05,511.48 L489.43,511.46 L489.81,511.43 L490.19,511.41 L490.57,511.38 L490.94,511.36 L491.32,511.33 L491.70,511.31" fill="none" stroke="#4d6c9c" stroke-width="0.8" stroke-linejoin="round" stroke-linecap="round" stroke-opacity="1.0"/>
<path d="M408.54,582.16 L408.92,582.05 L409.30,581.95 L409.67,581.85 L410.05,581.74 L410.43,581.64 L410.81,581.54 L411.19,581.44 L411.56,581.33 L411.94,581.23 L412.32,581.13 L412.70,581.02 L413.08,580.92 L413.45,580.82 L413.83,580.72 L414.21,580.61 L414.59,580.51 L414.97,580.41 L415.34,580.30 L415.72,580.20 L416.10,580.10 L416.48,580.00 L416.86,579.69 L417.23,579.39 L417.61,579.09 L417.99,578.79 L418.37,578.48 L418.75,578.18 L419.12,577.88 L419.50,577.58 L419.88,577.27 L420.26,576.97 L420.64,576.67 L421.01,576.37 L421.39,576.06 L421.77,575.76 L422.15,575.46 L422.53,575.16 L422.90,574.86 L423.28,574.55 L423.66,574.25 L424.04,573.95 L424.42,573.65 L424.79,573.34 L425.17,573.04 L425.55,572.74 L425.93,572.44 L426.31,572.13 L426.68,571.83 L427.06,571.53 L427.44,571.23 L427.82,570.92 L428.20,570.59 L428.57,570.26 L428.95,569.92 L429.33,569.59 L429.71,569.25 L430.09,568.92 L430.46,568.58 L430.84,568.25 L431.22,567.91 L431.60,567.58 L431.98,567.25 L432.35,566.91 L432.73,566.58 L433.11,566.24 L433.49,565.91 L433.87,565.57 L434.24,565.24 L434.62,564.90 L435.00,564.57 L435.38,564.23 L435.76,563.90 L436.13,563.57 L436.51,563.23 L436.89,562.90 L437.27,562.56 L437.65,562.23 L438.02,561.89 L438.40,561.56 L438.78,561.22 L439.16,560.89 L439.54,560.56 L439.91,560.21 L440.29,559.87 L440.67,559.53 L441.05,559.18 L441.43,558.84 L441.80,558.50 L442.18,558.15 L442.56,557.81 L442.94,557.47 L443.32,557.13 L443.69,556.78 L444.07,556.44 L444.45,556.10 L444.83,555.75 L445.21,555.41 L445.58,555.07 L445.96,554.72 L446.34,548.46 L446.72,548.17 L447.10,547.88 L447.47,547.60 L447.85,547.31 L448.23,547.02 L448.61,546.73 L448.99,546.53 L449.36,546.33 L449.74,546.12 L450.12,545.92 L450.50,545.72 L450.88,545.51 L451.25,545.31 L451.63,545.11 L452.01,544.90 L452.39,544.70 L452.77,544.50 L453.14,544.29 L453.52,544.09 L453.90,543.89 L454.28,543.68 L454.66,543.48 L455.03,543.28 L455.41,542.98 L455.79,542.69 L456.17,542.40 L456.55,542.11 L456.92,541.82 L457.30,541.53 L457.68,541.23 L458.06,540.94 L458.44,540.65 L458.81,540.36 L459.19,540.07 L459.57,539.78 L459.95,539.49 L460.33,539.19 L460.70,538.90 L461.08,538.61 L461.46,538.32 L461.84,538.03 L462.22,537.74 L462.59,537.44 L462.97,537.38 L463.35,537.31 L463.73,537.25 L464.11,537.19 L464.48,537.12 L464.86,537.06 L465.24,536.99 L465.62,536.93 L466.00,536.86 L466.37,536.80 L466.75,536.73 L467.13,536.67 L467.51,536.61 L467.89,536.54 L468.26,536.48 L468.64,536.41 L469.02,536.35 L469.40,536.28 L469.78,536.22 L470.15,536.15 L470.53,536.09 L470.91,536.02 L471.29,535.96 L471.67,535.90 L472.04,535.83 L472.42,535.77 L472.80,535.70 L473.18,535.64 L473.56,535.57 L473.93,535.51 L474.31,535.44 L474.69,535.38 L475.07,535.31 L475.45,535.25 L475.82,535.19 L476.20,535.12 L476.58,535.06 L476.96,534.99 L477.34,534.93 L477.71,534.86 L478.09,534.80 L478.47,534.73 L478.85,534.67 L479.23,534.61 L479.60,534.54 L479.98,534.48 L480.36,534.41 L480.74,534.35 L481.12,534.28 L481.49,534.22 L481.87,534.15 L482.25,534.09 L482.63,534.02 L483.01,533.96 L483.38,533.90 L483.76,533.83 L484.14,533.77 L484.52,533.70 L484.90,533.64 L485.27,533.57 L485.65,533.51 L486.03,533.44 L486.41,533.38 L486.79,533.31 L487.16,533.25 L487.54,533.19 L487.92,533.12 L488.30,533.06 L488.68,532.99 L489.05,532.93 L489.43,532.86 L489.81,532.80 L490.19,532.73 L490.57,532.67 L490.94,532.61 L491.32,532.54 L491.70,532.48" fill="none" stroke="#5d7aa8" stroke-width="0.7" stroke-linejoin="round" stroke-linecap="round" stroke-opacity="1.0"/>
<path d="M378.30,582.80 L379.06,582.80 L379.81,582.80 L380.57,582.80 L381.32,582.80 L382.08,582.80 L382.84,582.80 L383.59,582.80 L384.35,582.80 L385.10,582.80 L385.86,582.80 L386.62,582.80 L387.37,582.77 L388.13,582.65 L388.88,582.46 L389.64,582.23 L390.40,582.00 L391.15,581.77 L391.91,581.54 L392.66,581.31 L393.42,581.08 L394.18,580.86 L394.93,580.64 L395.69,580.43 L396.44,580.21 L397.20,579.98 L397.96,579.74 L398.71,579.48 L399.47,579.22 L400.22,578.96 L400.98,578.60 L401.74,578.14 L402.49,577.58 L403.25,577.02 L404.00,576.45 L404.76,575.78 L405.52,575.01 L406.27,574.12 L407.03,573.23 L407.78,572.35 L408.54,571.46 L409.30,570.57 L410.05,569.68 L410.81,568.80 L411.56,567.82 L412.32,566.65 L413.08,565.28 L413.83,563.83 L414.59,562.37 L415.34,560.92 L416.10,559.46 L416.86,558.00 L417.61,556.55 L418.37,555.09 L419.12,553.64 L419.88,552.18 L420.64,550.72 L421.39,549.27 L422.15,548.06 L422.90,547.09 L423.66,546.36 L424.42,545.64 L425.17,544.91 L425.93,544.19 L426.68,543.46 L427.44,542.74 L428.20,542.01 L428.95,541.29 L429.71,540.56 L430.46,539.84 L431.22,539.11 L431.98,538.39 L432.73,537.72 L433.49,537.10 L434.24,536.54 L435.00,535.98 L435.76,535.42 L436.51,534.86 L437.27,534.30 L438.02,533.74 L438.78,533.18 L439.54,532.62 L440.29,532.06 L441.05,531.50 L441.80,530.94 L442.56,530.45 L443.32,530.09 L444.07,529.86 L444.83,529.70 L445.58,529.53 L446.34,529.37 L447.10,529.21 L447.85,529.05 L448.61,528.88 L449.36,528.72 L450.12,528.56 L450.88,528.40 L451.63,528.24 L452.39,528.08 L453.14,527.91 L453.90,527.75 L454.66,527.61 L455.41,527.53 L456.17,527.49 L456.92,527.49 L457.68,527.48 L458.44,527.47 L459.19,527.46 L459.95,527.45 L460.70,527.44 L461.46,527.43 L462.22,527.42 L462.97,527.41 L463.73,527.41 L464.48,527.40 L465.24,527.39 L466.00,527.38 L466.75,527.37 L467.51,527.36 L468.26,527.35 L469.02,527.34 L469.78,527.33 L470.53,527.33 L471.29,527.32 L472.04,527.31 L472.80,527.30 L473.56,527.29 L474.31,527.28 L475.07,527.27 L475.82,527.26 L476.58,527.25 L477.34,527.25 L478.09,527.24 L478.85,527.23 L479.60,527.22 L480.36,527.21 L481.12,527.20 L481.87,527.19 L482.63,527.18 L483.38,527.17 L484.14,527.17 L484.90,527.16 L485.65,527.15 L486.41,527.14 L487.16,527.13 L487.92,527.12 L488.68,527.11 L489.43,527.10 L490.19,527.09 L490.94,527.08 L491.70,527.08" fill="none" stroke="#7a4a6a" stroke-width="1.2" stroke-linejoin="round" stroke-linecap="round" stroke-opacity="1.0"/>
<path d="M378.30,584.10 L379.06,584.10 L379.81,584.10 L380.57,584.10 L381.32,584.10 L382.08,584.10 L382.84,584.10 L383.59,584.10 L384.35,584.10 L385.10,584.10 L385.86,584.10 L386.62,584.10 L387.37,584.08 L388.13,584.00 L388.88,583.88 L389.64,583.74 L390.40,583.60 L391.15,583.45 L391.91,583.31 L392.66,583.16 L393.42,583.01 L394.18,582.85 L394.93,582.67 L395.69,582.50 L396.44,582.33 L397.20,582.14 L397.96,581.94 L398.71,581.72 L399.47,581.51 L400.22,581.29 L400.98,581.03 L401.74,580.73 L402.49,580.38 L403.25,580.04 L404.00,579.69 L404.76,579.35 L405.52,579.00 L406.27,578.66 L407.03,578.31 L407.78,577.97 L408.54,577.52 L409.30,576.97 L410.05,576.32 L410.81,575.68 L411.56,575.03 L412.32,574.38 L413.08,573.73 L413.83,573.08 L414.59,572.44 L415.34,571.79 L416.10,571.03 L416.86,570.16 L417.61,569.19 L418.37,568.21 L419.12,567.24 L419.88,566.26 L420.64,565.29 L421.39,564.31 L422.15,563.34 L422.90,562.36 L423.66,561.39 L424.42,560.41 L425.17,559.43 L425.93,558.46 L426.68,557.48 L427.44,556.52 L428.20,555.57 L428.95,554.64 L429.71,553.73 L430.46,552.81 L431.22,551.89 L431.98,550.97 L432.73,550.05 L433.49,549.13 L434.24,548.22 L435.00,547.30 L435.76,546.38 L436.51,545.46 L437.27,544.55 L438.02,543.63 L438.78,542.71 L439.54,541.79 L440.29,540.87 L441.05,539.96 L441.80,539.04 L442.56,538.22 L443.32,537.62 L444.07,537.24 L444.83,536.95 L445.58,536.67 L446.34,536.39 L447.10,536.10 L447.85,535.82 L448.61,535.54 L449.36,535.25 L450.12,534.97 L450.88,534.69 L451.63,534.41 L452.39,534.12 L453.14,533.84 L453.90,533.64 L454.66,533.54 L455.41,533.52 L456.17,533.50 L456.92,533.49 L457.68,533.47 L458.44,533.45 L459.19,533.44 L459.95,533.42 L460.70,533.40 L461.46,533.38 L462.22,533.37 L462.97,533.35 L463.73,533.33 L464.48,533.31 L465.24,533.30 L466.00,533.28 L466.75,533.26 L467.51,533.24 L468.26,533.23 L469.02,533.21 L469.78,533.19 L470.53,533.18 L471.29,533.16 L472.04,533.14 L472.80,533.12 L473.56,533.11 L474.31,533.09 L475.07,533.07 L475.82,533.05 L476.58,533.04 L477.34,533.02 L478.09,533.00 L478.85,532.99 L479.60,532.97 L480.36,532.95 L481.12,532.93 L481.87,532.92 L482.63,532.90 L483.38,532.88 L484.14,532.86 L484.90,532.85 L485.65,532.83 L486.41,532.81 L487.16,532.80 L487.92,532.78 L488.68,532.76 L489.43,532.74 L490.19,532.73 L490.94,532.71 L491.70,532.70" fill="none" stroke="#9a6a88" stroke-width="0.6" stroke-linejoin="round" stroke-linecap="round" stroke-opacity="1.0"/>
<path d="M378.30,573.95 L378.68,576.18 L379.06,578.41 L379.43,580.64 L379.81,581.29 L380.19,581.94 L380.57,582.59 L380.95,582.58 L381.32,582.57 L381.70,582.55 L382.08,582.54 L382.46,582.53 L382.84,582.52 L383.21,582.51 L383.59,582.50 L383.97,582.49 L384.35,582.47 L384.73,582.46 L385.10,582.45 L385.48,582.44 L385.86,582.43 L386.24,582.42 L386.62,582.41 L386.99,582.39 L387.37,582.38 L387.75,582.37 L388.13,581.87 L388.51,581.36 L388.88,580.86 L389.26,580.36 L389.64,579.85 L390.02,579.35 L390.40,578.84 L390.77,578.34 L391.15,577.84 L391.53,577.76 L391.91,577.69 L392.29,577.62 L392.66,577.55 L393.04,577.48 L393.42,577.40 L393.80,577.68 L394.18,577.95 L394.55,578.23 L394.93,578.50 L395.31,578.78 L395.69,579.05 L396.07,579.33 L396.44,579.60 L396.82,579.88 L397.20,580.15 L397.58,580.43 L397.96,580.45 L398.33,580.47 L398.71,580.49 L399.09,580.51 L399.47,580.54 L399.85,580.56 L400.22,580.58 L400.60,580.60 L400.98,580.62 L401.36,580.64 L401.74,580.67 L402.11,580.69 L402.49,580.71 L402.87,580.73 L403.25,580.75 L403.63,580.77 L404.00,580.80 L404.38,580.82 L404.76,580.84 L405.14,580.86 L405.52,580.61 L405.89,580.36 L406.27,580.10 L406.65,579.85 L407.03,579.60 L407.41,579.35 L407.78,579.10 L408.16,578.84 L408.54,578.59 L408.92,578.34 L409.30,578.09 L409.67,577.84" fill="none" stroke="#1b2538" stroke-width="2.0" stroke-linejoin="round" stroke-linecap="round" stroke-opacity="1.0"/>
<g stroke-dasharray="2.2,0.7">
<path d="M409.67,577.84 L410.05,577.32 L410.43,576.80 L410.81,576.29 L411.19,575.77 L411.56,575.26 L411.94,574.74 L412.32,574.22 L412.70,573.71 L413.08,573.19 L413.45,572.68 L413.83,572.16 L414.21,571.64 L414.59,571.13 L414.97,570.61 L415.34,570.10 L415.72,569.58 L416.10,569.06 L416.48,568.55 L416.86,568.12 L417.23,567.68 L417.61,567.25 L417.99,566.82 L418.37,566.39 L418.75,565.96 L419.12,565.52 L419.50,565.09 L419.88,564.66 L420.26,564.23 L420.64,563.80 L421.01,563.36 L421.39,562.93 L421.77,562.50 L422.15,562.07 L422.53,561.64 L422.90,561.20 L423.28,560.77 L423.66,560.34 L424.04,559.91 L424.42,559.48 L424.79,559.06 L425.17,558.64 L425.55,558.22 L425.93,557.80 L426.31,557.38 L426.68,556.96 L427.06,556.54 L427.44,556.12 L427.82,555.70 L428.20,555.28 L428.57,554.86 L428.95,554.44 L429.33,554.02 L429.71,553.60 L430.09,553.18 L430.46,552.76 L430.84,552.34 L431.22,551.92 L431.60,551.62 L431.98,551.32 L432.35,551.02 L432.73,550.72 L433.11,550.42 L433.49,550.12 L433.87,549.82 L434.24,549.52 L434.62,549.22 L435.00,548.93 L435.38,548.63 L435.76,548.33 L436.13,548.03 L436.51,547.83 L436.89,547.63 L437.27,547.43 L437.65,547.24 L438.02,547.04 L438.40,546.84 L438.78,546.64 L439.16,546.44 L439.54,546.25 L439.91,546.05 L440.29,545.85 L440.67,545.65 L441.05,545.27 L441.43,544.88 L441.80,544.50 L442.18,544.12 L442.56,543.73 L442.94,543.35 L443.32,542.96 L443.69,542.58 L444.07,542.20 L444.45,540.94 L444.83,539.68 L445.21,538.42 L445.58,537.16 L445.96,535.90 L446.34,534.64 L446.72,534.40 L447.10,534.17 L447.47,533.93 L447.85,533.70 L448.23,533.47 L448.61,533.23 L448.99,533.00 L449.36,532.76 L449.74,532.53 L450.12,532.30 L450.50,532.06 L450.88,531.83 L451.25,531.57 L451.63,531.32 L452.01,531.06 L452.39,530.81 L452.77,530.55 L453.14,530.30 L453.52,530.04 L453.90,529.79 L454.28,529.53 L454.66,529.28 L455.03,529.02 L455.41,528.86 L455.79,528.70 L456.17,528.53 L456.55,528.37 L456.92,528.21 L457.30,528.05 L457.68,527.89 L458.06,527.72 L458.44,527.56 L458.81,527.40 L459.19,527.24 L459.57,527.08 L459.95,526.91 L460.33,526.75 L460.70,526.59 L461.08,526.43 L461.46,526.27 L461.84,526.10 L462.22,525.94 L462.59,525.78 L462.97,525.72 L463.35,525.66 L463.73,525.60 L464.11,525.55 L464.48,525.49 L464.86,525.43 L465.24,525.37 L465.62,525.31 L466.00,525.25 L466.37,525.20 L466.75,525.14 L467.13,525.08 L467.51,525.02 L467.89,524.96 L468.26,524.90 L468.64,524.85 L469.02,524.79 L469.40,524.73 L469.78,524.67 L470.15,524.61 L470.53,524.55 L470.91,524.50 L471.29,524.44 L471.67,524.38 L472.04,524.32 L472.42,524.26 L472.80,524.20 L473.18,524.15 L473.56,524.09 L473.93,524.03 L474.31,523.97 L474.69,523.91 L475.07,523.85 L475.45,523.80 L475.82,523.74 L476.20,523.68 L476.58,523.62 L476.96,523.57 L477.34,523.52 L477.71,523.47 L478.09,523.43 L478.47,523.38 L478.85,523.33 L479.23,523.28 L479.60,523.23 L479.98,523.18 L480.36,523.13 L480.74,523.09 L481.12,523.04 L481.49,522.99 L481.87,522.94 L482.25,522.89 L482.63,522.84 L483.01,522.79 L483.38,522.75 L483.76,522.70 L484.14,522.65 L484.52,522.60 L484.90,522.55 L485.27,522.50 L485.65,522.45 L486.03,522.40 L486.41,522.36 L486.79,522.31 L487.16,522.26 L487.54,522.21 L487.92,522.16 L488.30,522.11 L488.68,522.06 L489.05,522.02 L489.43,521.97 L489.81,521.92 L490.19,521.87 L490.57,521.82 L490.94,521.77 L491.32,521.72 L491.70,521.68" fill="none" stroke="#1b2538" stroke-width="2.3" stroke-linejoin="round" stroke-linecap="round" stroke-opacity="1.0"/>
</g>
<line x1="487.16" y1="528.80" x2="487.16" y2="539.60" stroke="#8c1d2f" stroke-width="1.1"/>
<line x1="487.16" y1="539.60" x2="487.16" y2="549.32" stroke="#c23a50" stroke-width="0.6"/>
<line x1="486.16" y1="549.32" x2="488.16" y2="549.32" stroke="#c23a50" stroke-width="0.5"/>
<circle cx="487.16" cy="539.60" r="1.5" fill="#8c1d2f" stroke="#8c1d2f" stroke-width="0.3"/>
<line x1="491.70" y1="528.80" x2="491.70" y2="535.28" stroke="#8c1d2f" stroke-width="1.1"/>
<line x1="491.70" y1="535.28" x2="491.70" y2="546.30" stroke="#c23a50" stroke-width="0.6"/>
<line x1="490.70" y1="546.30" x2="492.70" y2="546.30" stroke="#c23a50" stroke-width="0.5"/>
<circle cx="491.70" cy="535.28" r="1.5" fill="#8c1d2f" stroke="#8c1d2f" stroke-width="0.3"/>
<line x1="468.26" y1="524.92" x2="468.26" y2="540.04" stroke="#2c4a7c" stroke-width="1.1"/>
<line x1="468.26" y1="540.04" x2="468.26" y2="553.00" stroke="#a6b6d0" stroke-width="0.6"/>
<line x1="467.26" y1="553.00" x2="469.26" y2="553.00" stroke="#a6b6d0" stroke-width="0.5"/>
<circle cx="468.26" cy="540.04" r="1.5" fill="#2c4a7c" stroke="#2c4a7c" stroke-width="0.3"/>
<line x1="425.17" y1="558.18" x2="425.17" y2="570.28" stroke="#2c4a7c" stroke-width="1.1"/>
<line x1="425.17" y1="570.28" x2="425.17" y2="580.64" stroke="#a6b6d0" stroke-width="0.6"/>
<line x1="424.17" y1="580.64" x2="426.17" y2="580.64" stroke="#a6b6d0" stroke-width="0.5"/>
<circle cx="425.17" cy="570.28" r="1.5" fill="#2c4a7c" stroke="#2c4a7c" stroke-width="0.3"/>
<path d="M493.4,513.3 L495.8,513.3 L495.8,538.2 L493.4,538.2" fill="none" stroke="#333" stroke-width="0.8"/>
<text x="498.40" y="527.90" font-size="8.06" text-anchor="start" fill="#262626" stroke="#262626" textLength="8.60" lengthAdjust="spacingAndGlyphs">NS</text>
<circle cx="475.70" cy="567.30" r="1.5" fill="#40649c" stroke="#223f6e" stroke-width="0.6"/>
<text x="479.60" y="569.80" font-size="7.84" text-anchor="start" fill="#262626" stroke="#262626" textLength="23.60" lengthAdjust="spacingAndGlyphs">Control</text>
<rect x="474.30" y="574.80" width="2.8" height="2.8" fill="#b8344a" stroke="#7c1527" stroke-width="0.55"/>
<text x="479.60" y="578.80" font-size="7.84" text-anchor="start" fill="#262626" stroke="#262626" textLength="19.00" lengthAdjust="spacingAndGlyphs">TNF-α</text>
<text x="223.50" y="478.20" font-size="9.74" text-anchor="start" fill="#262626" stroke="#262626" textLength="49.50" lengthAdjust="spacingAndGlyphs">Washed plts</text>
<line x1="170.60" y1="492.30" x2="170.60" y2="583.90" stroke="#1a1a1a" stroke-width="0.9"/>
<line x1="167.60" y1="583.90" x2="170.60" y2="583.90" stroke="#1a1a1a" stroke-width="0.9"/>
<text x="164.60" y="587.00" font-size="8.06" text-anchor="end" fill="#262626" stroke="#262626" textLength="3.90" lengthAdjust="spacingAndGlyphs">0</text>
<line x1="167.60" y1="565.98" x2="170.60" y2="565.98" stroke="#1a1a1a" stroke-width="0.9"/>
<text x="164.60" y="569.08" font-size="8.06" text-anchor="end" fill="#262626" stroke="#262626" textLength="7.80" lengthAdjust="spacingAndGlyphs">20</text>
<line x1="167.60" y1="548.06" x2="170.60" y2="548.06" stroke="#1a1a1a" stroke-width="0.9"/>
<text x="164.60" y="551.16" font-size="8.06" text-anchor="end" fill="#262626" stroke="#262626" textLength="7.80" lengthAdjust="spacingAndGlyphs">40</text>
<line x1="167.60" y1="530.14" x2="170.60" y2="530.14" stroke="#1a1a1a" stroke-width="0.9"/>
<text x="164.60" y="533.24" font-size="8.06" text-anchor="end" fill="#262626" stroke="#262626" textLength="7.80" lengthAdjust="spacingAndGlyphs">60</text>
<line x1="167.60" y1="512.22" x2="170.60" y2="512.22" stroke="#1a1a1a" stroke-width="0.9"/>
<text x="164.60" y="515.32" font-size="8.06" text-anchor="end" fill="#262626" stroke="#262626" textLength="7.80" lengthAdjust="spacingAndGlyphs">80</text>
<line x1="167.60" y1="494.30" x2="170.60" y2="494.30" stroke="#1a1a1a" stroke-width="0.9"/>
<text x="164.60" y="497.40" font-size="8.06" text-anchor="end" fill="#262626" stroke="#262626" textLength="11.70" lengthAdjust="spacingAndGlyphs">100</text>
<line x1="170.60" y1="583.90" x2="229.00" y2="583.90" stroke="#1a1a1a" stroke-width="0.9"/>
<line x1="179.30" y1="583.90" x2="179.30" y2="586.90" stroke="#1a1a1a" stroke-width="0.9"/>
<line x1="192.90" y1="583.90" x2="192.90" y2="586.90" stroke="#1a1a1a" stroke-width="0.9"/>
<line x1="207.00" y1="583.90" x2="207.00" y2="586.90" stroke="#1a1a1a" stroke-width="0.9"/>
<line x1="220.60" y1="583.90" x2="220.60" y2="586.90" stroke="#1a1a1a" stroke-width="0.9"/>
<text x="178.50" y="490.60" font-size="7.62" text-anchor="start" fill="#262626" stroke="#262626" textLength="30.70" lengthAdjust="spacingAndGlyphs">Thrombin</text>
<text transform="translate(145.50,540.90) rotate(-90)" x="0" y="0" font-size="8.06" text-anchor="middle" fill="#262626" stroke="#262626" textLength="81.60" lengthAdjust="spacingAndGlyphs">% max αIIbβ3 activation</text>
<line x1="173.40" y1="502.00" x2="205.60" y2="502.00" stroke="#262626" stroke-width="1.0"/>
<text x="189.40" y="501.00" font-size="6.5" text-anchor="middle" fill="#262626" stroke="#262626">*</text>
<line x1="203.10" y1="510.60" x2="227.70" y2="510.60" stroke="#262626" stroke-width="1.0"/>
<text x="215.40" y="509.50" font-size="6.5" text-anchor="middle" fill="#262626" stroke="#262626">*</text>
<line x1="179.30" y1="523.40" x2="190.20" y2="523.40" stroke="#262626" stroke-width="1.0"/>
<text x="184.80" y="520.30" font-size="7.84" text-anchor="middle" fill="#262626" stroke="#262626">NS</text>
<circle cx="179.30" cy="532.30" r="1.7" fill="#40649c" stroke="#223f6e" stroke-width="0.6"/>
<circle cx="176.60" cy="540.90" r="1.7" fill="#40649c" stroke="#223f6e" stroke-width="0.6"/>
<circle cx="179.70" cy="542.00" r="1.7" fill="#40649c" stroke="#223f6e" stroke-width="0.6"/>
<circle cx="176.60" cy="545.40" r="1.7" fill="#40649c" stroke="#223f6e" stroke-width="0.6"/>
<circle cx="180.00" cy="545.40" r="1.7" fill="#40649c" stroke="#223f6e" stroke-width="0.6"/>
<circle cx="182.40" cy="544.70" r="1.7" fill="#40649c" stroke="#223f6e" stroke-width="0.6"/>
<circle cx="176.60" cy="555.60" r="1.7" fill="#40649c" stroke="#223f6e" stroke-width="0.6"/>
<circle cx="182.30" cy="554.80" r="1.7" fill="#40649c" stroke="#223f6e" stroke-width="0.6"/>
<line x1="175.70" y1="546.30" x2="182.90" y2="546.30" stroke="#1a1a1a" stroke-width="0.8"/>
<line x1="179.30" y1="543.30" x2="179.30" y2="548.60" stroke="#1a1a1a" stroke-width="0.8"/>
<line x1="177.50" y1="543.30" x2="181.10" y2="543.30" stroke="#1a1a1a" stroke-width="0.8"/>
<line x1="177.50" y1="548.60" x2="181.10" y2="548.60" stroke="#1a1a1a" stroke-width="0.8"/>
<rect x="191.20" y="548.00" width="3.4" height="3.4" fill="#6cb23c" stroke="#4e8a28" stroke-width="0.4"/>
<rect x="188.90" y="552.10" width="3.4" height="3.4" fill="#6cb23c" stroke="#4e8a28" stroke-width="0.4"/>
<rect x="194.40" y="550.10" width="3.4" height="3.4" fill="#6cb23c" stroke="#4e8a28" stroke-width="0.4"/>
<rect x="191.20" y="553.50" width="3.4" height="3.4" fill="#6cb23c" stroke="#4e8a28" stroke-width="0.4"/>
<rect x="191.20" y="556.60" width="3.4" height="3.4" fill="#6cb23c" stroke="#4e8a28" stroke-width="0.4"/>
<line x1="189.50" y1="553.10" x2="196.30" y2="553.10" stroke="#1a1a1a" stroke-width="0.8"/>
<line x1="192.90" y1="551.60" x2="192.90" y2="554.60" stroke="#1a1a1a" stroke-width="0.8"/>
<line x1="191.10" y1="551.60" x2="194.70" y2="551.60" stroke="#1a1a1a" stroke-width="0.8"/>
<line x1="191.10" y1="554.60" x2="194.70" y2="554.60" stroke="#1a1a1a" stroke-width="0.8"/>
<polygon points="207.00,515.78 205.20,519.02 208.80,519.02" fill="#35588c" stroke="#223f6e" stroke-width="0.4"/>
<polygon points="207.00,520.58 205.20,523.82 208.80,523.82" fill="#35588c" stroke="#223f6e" stroke-width="0.4"/>
<polygon points="203.80,536.18 202.00,539.42 205.60,539.42" fill="#35588c" stroke="#223f6e" stroke-width="0.4"/>
<polygon points="210.00,534.18 208.20,537.42 211.80,537.42" fill="#35588c" stroke="#223f6e" stroke-width="0.4"/>
<polygon points="206.60,539.68 204.80,542.92 208.40,542.92" fill="#35588c" stroke="#223f6e" stroke-width="0.4"/>
<polygon points="207.00,529.78 205.20,533.02 208.80,533.02" fill="#35588c" stroke="#223f6e" stroke-width="0.4"/>
<line x1="203.40" y1="531.10" x2="210.60" y2="531.10" stroke="#1a1a1a" stroke-width="0.8"/>
<line x1="207.00" y1="527.70" x2="207.00" y2="533.80" stroke="#1a1a1a" stroke-width="0.8"/>
<line x1="205.20" y1="527.70" x2="208.80" y2="527.70" stroke="#1a1a1a" stroke-width="0.8"/>
<line x1="205.20" y1="533.80" x2="208.80" y2="533.80" stroke="#1a1a1a" stroke-width="0.8"/>
<polygon points="220.20,543.52 218.40,540.28 222.00,540.28" fill="#6cb23c" stroke="#4e8a28" stroke-width="0.4"/>
<polygon points="217.50,549.62 215.70,546.38 219.30,546.38" fill="#6cb23c" stroke="#4e8a28" stroke-width="0.4"/>
<polygon points="223.30,548.22 221.50,544.98 225.10,544.98" fill="#6cb23c" stroke="#4e8a28" stroke-width="0.4"/>
<polygon points="218.10,555.72 216.30,552.48 219.90,552.48" fill="#6cb23c" stroke="#4e8a28" stroke-width="0.4"/>
<polygon points="222.90,555.72 221.10,552.48 224.70,552.48" fill="#6cb23c" stroke="#4e8a28" stroke-width="0.4"/>
<polygon points="220.60,568.02 218.80,564.78 222.40,564.78" fill="#6cb23c" stroke="#4e8a28" stroke-width="0.4"/>
<line x1="216.80" y1="552.50" x2="224.00" y2="552.50" stroke="#1a1a1a" stroke-width="0.8"/>
<line x1="220.40" y1="548.80" x2="220.40" y2="555.20" stroke="#1a1a1a" stroke-width="0.8"/>
<line x1="218.60" y1="548.80" x2="222.20" y2="548.80" stroke="#1a1a1a" stroke-width="0.8"/>
<line x1="218.60" y1="555.20" x2="222.20" y2="555.20" stroke="#1a1a1a" stroke-width="0.8"/>
<line x1="268.20" y1="494.30" x2="268.20" y2="583.90" stroke="#1a1a1a" stroke-width="0.9"/>
<line x1="265.20" y1="583.90" x2="268.20" y2="583.90" stroke="#1a1a1a" stroke-width="0.9"/>
<text x="262.60" y="587.00" font-size="8.06" text-anchor="end" fill="#262626" stroke="#262626" textLength="3.90" lengthAdjust="spacingAndGlyphs">0</text>
<line x1="265.20" y1="566.38" x2="268.20" y2="566.38" stroke="#1a1a1a" stroke-width="0.9"/>
<text x="262.60" y="569.48" font-size="8.06" text-anchor="end" fill="#262626" stroke="#262626" textLength="7.80" lengthAdjust="spacingAndGlyphs">20</text>
<line x1="265.20" y1="548.86" x2="268.20" y2="548.86" stroke="#1a1a1a" stroke-width="0.9"/>
<text x="262.60" y="551.96" font-size="8.06" text-anchor="end" fill="#262626" stroke="#262626" textLength="7.80" lengthAdjust="spacingAndGlyphs">40</text>
<line x1="265.20" y1="531.34" x2="268.20" y2="531.34" stroke="#1a1a1a" stroke-width="0.9"/>
<text x="262.60" y="534.44" font-size="8.06" text-anchor="end" fill="#262626" stroke="#262626" textLength="7.80" lengthAdjust="spacingAndGlyphs">60</text>
<line x1="265.20" y1="513.82" x2="268.20" y2="513.82" stroke="#1a1a1a" stroke-width="0.9"/>
<text x="262.60" y="516.92" font-size="8.06" text-anchor="end" fill="#262626" stroke="#262626" textLength="7.80" lengthAdjust="spacingAndGlyphs">80</text>
<line x1="265.20" y1="496.30" x2="268.20" y2="496.30" stroke="#1a1a1a" stroke-width="0.9"/>
<text x="262.60" y="499.40" font-size="8.06" text-anchor="end" fill="#262626" stroke="#262626" textLength="11.70" lengthAdjust="spacingAndGlyphs">100</text>
<line x1="268.20" y1="583.90" x2="325.30" y2="583.90" stroke="#1a1a1a" stroke-width="0.9"/>
<line x1="277.20" y1="583.90" x2="277.20" y2="586.90" stroke="#1a1a1a" stroke-width="0.9"/>
<line x1="290.30" y1="583.90" x2="290.30" y2="586.90" stroke="#1a1a1a" stroke-width="0.9"/>
<line x1="304.40" y1="583.90" x2="304.40" y2="586.90" stroke="#1a1a1a" stroke-width="0.9"/>
<line x1="317.50" y1="583.90" x2="317.50" y2="586.90" stroke="#1a1a1a" stroke-width="0.9"/>
<text x="274.50" y="490.40" font-size="7.62" text-anchor="start" fill="#262626" stroke="#262626" textLength="31.30" lengthAdjust="spacingAndGlyphs">Convubin</text>
<text transform="translate(243.70,539.00) rotate(-90)" x="0" y="0" font-size="8.06" text-anchor="middle" fill="#262626" stroke="#262626" textLength="81.80" lengthAdjust="spacingAndGlyphs">% max αIIbβ3 activation</text>
<line x1="272.50" y1="513.00" x2="305.40" y2="513.00" stroke="#262626" stroke-width="1.0"/>
<text x="288.60" y="511.90" font-size="6.5" text-anchor="middle" fill="#262626" stroke="#262626">*</text>
<line x1="301.40" y1="521.80" x2="325.60" y2="521.80" stroke="#262626" stroke-width="1.0"/>
<text x="312.00" y="520.80" font-size="6.5" text-anchor="middle" fill="#262626" stroke="#262626">*</text>
<text x="315.00" y="520.80" font-size="6.5" text-anchor="middle" fill="#262626" stroke="#262626">*</text>
<line x1="278.20" y1="540.20" x2="288.90" y2="540.20" stroke="#262626" stroke-width="1.0"/>
<text x="283.60" y="536.30" font-size="7.84" text-anchor="middle" fill="#262626" stroke="#262626">NS</text>
<circle cx="277.50" cy="556.10" r="1.7" fill="#40649c" stroke="#223f6e" stroke-width="0.6"/>
<circle cx="274.40" cy="560.10" r="1.7" fill="#40649c" stroke="#223f6e" stroke-width="0.6"/>
<circle cx="280.60" cy="559.40" r="1.7" fill="#40649c" stroke="#223f6e" stroke-width="0.6"/>
<circle cx="277.50" cy="567.40" r="1.7" fill="#40649c" stroke="#223f6e" stroke-width="0.6"/>
<line x1="273.80" y1="560.40" x2="281.00" y2="560.40" stroke="#1a1a1a" stroke-width="0.8"/>
<line x1="277.40" y1="558.60" x2="277.40" y2="563.40" stroke="#1a1a1a" stroke-width="0.8"/>
<line x1="275.60" y1="558.60" x2="279.20" y2="558.60" stroke="#1a1a1a" stroke-width="0.8"/>
<line x1="275.60" y1="563.40" x2="279.20" y2="563.40" stroke="#1a1a1a" stroke-width="0.8"/>
<rect x="288.80" y="545.60" width="3.4" height="3.4" fill="#6cb23c" stroke="#4e8a28" stroke-width="0.4"/>
<rect x="288.80" y="564.70" width="3.4" height="3.4" fill="#6cb23c" stroke="#4e8a28" stroke-width="0.4"/>
<rect x="285.90" y="571.50" width="3.4" height="3.4" fill="#6cb23c" stroke="#4e8a28" stroke-width="0.4"/>
<rect x="292.30" y="569.70" width="3.4" height="3.4" fill="#6cb23c" stroke="#4e8a28" stroke-width="0.4"/>
<line x1="286.80" y1="564.40" x2="294.00" y2="564.40" stroke="#1a1a1a" stroke-width="0.8"/>
<line x1="290.40" y1="558.60" x2="290.40" y2="570.20" stroke="#1a1a1a" stroke-width="0.8"/>
<line x1="288.60" y1="558.60" x2="292.20" y2="558.60" stroke="#1a1a1a" stroke-width="0.8"/>
<line x1="288.60" y1="570.20" x2="292.20" y2="570.20" stroke="#1a1a1a" stroke-width="0.8"/>
<polygon points="301.00,526.47 299.30,529.53 302.70,529.53" fill="#35588c" stroke="#223f6e" stroke-width="0.4"/>
<polygon points="307.50,524.67 305.80,527.73 309.20,527.73" fill="#35588c" stroke="#223f6e" stroke-width="0.4"/>
<polygon points="304.40,530.97 302.70,534.03 306.10,534.03" fill="#35588c" stroke="#223f6e" stroke-width="0.4"/>
<polygon points="304.40,534.57 302.70,537.63 306.10,537.63" fill="#35588c" stroke="#223f6e" stroke-width="0.4"/>
<polygon points="304.40,545.07 302.70,548.13 306.10,548.13" fill="#35588c" stroke="#223f6e" stroke-width="0.4"/>
<polygon points="304.00,558.57 302.30,561.63 305.70,561.63" fill="#35588c" stroke="#223f6e" stroke-width="0.4"/>
<line x1="300.80" y1="538.40" x2="308.00" y2="538.40" stroke="#1a1a1a" stroke-width="0.8"/>
<line x1="304.40" y1="533.50" x2="304.40" y2="543.10" stroke="#1a1a1a" stroke-width="0.8"/>
<line x1="302.60" y1="533.50" x2="306.20" y2="533.50" stroke="#1a1a1a" stroke-width="0.8"/>
<line x1="302.60" y1="543.10" x2="306.20" y2="543.10" stroke="#1a1a1a" stroke-width="0.8"/>
<polygon points="317.50,551.13 315.80,548.07 319.20,548.07" fill="#6cb23c" stroke="#4e8a28" stroke-width="0.4"/>
<polygon points="314.20,558.13 312.50,555.07 315.90,555.07" fill="#6cb23c" stroke="#4e8a28" stroke-width="0.4"/>
<polygon points="320.50,557.53 318.80,554.47 322.20,554.47" fill="#6cb23c" stroke="#4e8a28" stroke-width="0.4"/>
<polygon points="317.20,556.53 315.50,553.47 318.90,553.47" fill="#6cb23c" stroke="#4e8a28" stroke-width="0.4"/>
<polygon points="317.50,564.93 315.80,561.87 319.20,561.87" fill="#6cb23c" stroke="#4e8a28" stroke-width="0.4"/>
<polygon points="317.50,571.63 315.80,568.57 319.20,568.57" fill="#6cb23c" stroke="#4e8a28" stroke-width="0.4"/>
<line x1="313.90" y1="558.40" x2="321.10" y2="558.40" stroke="#1a1a1a" stroke-width="0.8"/>
<line x1="317.50" y1="554.30" x2="317.50" y2="560.40" stroke="#1a1a1a" stroke-width="0.8"/>
<line x1="315.70" y1="554.30" x2="319.30" y2="554.30" stroke="#1a1a1a" stroke-width="0.8"/>
<line x1="315.70" y1="560.40" x2="319.30" y2="560.40" stroke="#1a1a1a" stroke-width="0.8"/>
<text transform="translate(183.00,593.40) rotate(-45)" x="0" y="0" font-size="7.5" text-anchor="end" fill="#262626" stroke="#262626" textLength="48.70" lengthAdjust="spacingAndGlyphs">Ctrl untreated</text>
<text transform="translate(196.10,593.40) rotate(-45)" x="0" y="0" font-size="7.5" text-anchor="end" fill="#262626" stroke="#262626" textLength="74.08" lengthAdjust="spacingAndGlyphs">p55/p75 KO untreated</text>
<text transform="translate(209.90,593.40) rotate(-45)" x="0" y="0" font-size="7.5" text-anchor="end" fill="#262626" stroke="#262626" textLength="42.11" lengthAdjust="spacingAndGlyphs">Ctrl + TNF-α</text>
<text transform="translate(224.00,593.40) rotate(-45)" x="0" y="0" font-size="7.5" text-anchor="end" fill="#262626" stroke="#262626" textLength="69.28" lengthAdjust="spacingAndGlyphs">p55/p75 KO + TNF-α</text>
<text transform="translate(280.90,593.40) rotate(-45)" x="0" y="0" font-size="7.5" text-anchor="end" fill="#262626" stroke="#262626" textLength="48.70" lengthAdjust="spacingAndGlyphs">Ctrl untreated</text>
<text transform="translate(294.40,593.40) rotate(-45)" x="0" y="0" font-size="7.5" text-anchor="end" fill="#262626" stroke="#262626" textLength="74.08" lengthAdjust="spacingAndGlyphs">p55/p75 KO untreated</text>
<text transform="translate(307.70,593.40) rotate(-45)" x="0" y="0" font-size="7.5" text-anchor="end" fill="#262626" stroke="#262626" textLength="42.11" lengthAdjust="spacingAndGlyphs">Ctrl + TNF-α</text>
<text transform="translate(321.90,593.40) rotate(-45)" x="0" y="0" font-size="7.5" text-anchor="end" fill="#262626" stroke="#262626" textLength="69.28" lengthAdjust="spacingAndGlyphs">p55/p75 KO + TNF-α</text>
<rect x="0" y="0" width="520" height="1.4" fill="#4a4a4a"/>
<rect x="0" y="0" width="1.0" height="661" fill="#111111"/>
<rect x="518.5" y="0" width="1.5" height="661" fill="#4a4a4a"/>
<rect x="0" y="659.2" width="520" height="1.8" fill="#4a4a4a"/>
</svg></body></html>
